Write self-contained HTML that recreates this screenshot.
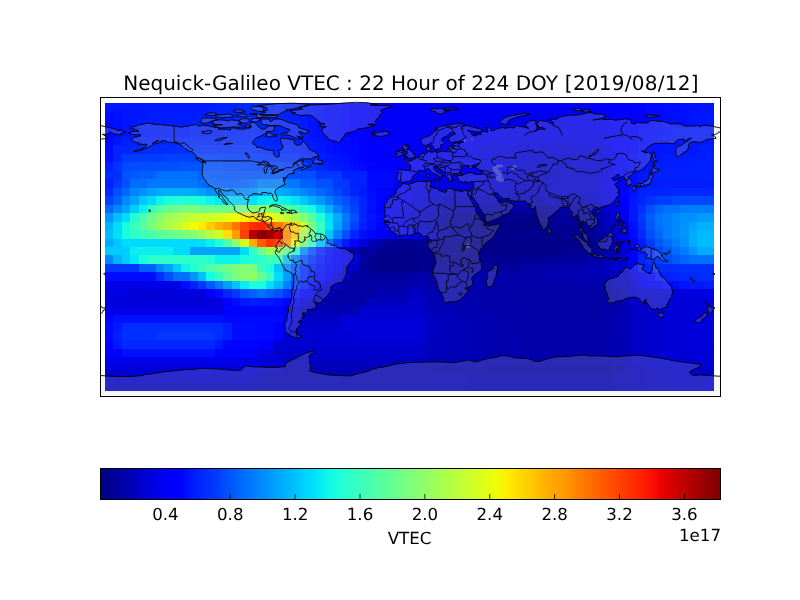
<!DOCTYPE html>
<html><head><meta charset="utf-8"><title>Nequick-Galileo VTEC</title>
<style>
html,body{margin:0;padding:0;background:#fff;}
body{width:800px;height:600px;overflow:hidden;}
svg{display:block;}
text{font-family:"DejaVu Sans","Liberation Sans",sans-serif;fill:#000;text-rendering:geometricPrecision;}
</style></head><body>
<svg width="800" height="600" viewBox="0 0 800 600">
<defs><linearGradient id="jet" x1="0" x2="1" y1="0" y2="0"><stop offset="0.0000" stop-color="#000080"/><stop offset="0.0156" stop-color="#000092"/><stop offset="0.0312" stop-color="#0000a4"/><stop offset="0.0469" stop-color="#0000b2"/><stop offset="0.0625" stop-color="#0000c8"/><stop offset="0.0781" stop-color="#0000da"/><stop offset="0.0938" stop-color="#0000e8"/><stop offset="0.1094" stop-color="#0000ff"/><stop offset="0.1250" stop-color="#0000ff"/><stop offset="0.1406" stop-color="#0010ff"/><stop offset="0.1562" stop-color="#0020ff"/><stop offset="0.1719" stop-color="#0030ff"/><stop offset="0.1875" stop-color="#003cff"/><stop offset="0.2031" stop-color="#0050ff"/><stop offset="0.2188" stop-color="#0060ff"/><stop offset="0.2344" stop-color="#0070ff"/><stop offset="0.2500" stop-color="#0080ff"/><stop offset="0.2656" stop-color="#0090ff"/><stop offset="0.2812" stop-color="#00a0ff"/><stop offset="0.2969" stop-color="#00b0ff"/><stop offset="0.3125" stop-color="#00c0ff"/><stop offset="0.3281" stop-color="#00d0ff"/><stop offset="0.3438" stop-color="#00e0fb"/><stop offset="0.3594" stop-color="#09f0ee"/><stop offset="0.3750" stop-color="#13fce4"/><stop offset="0.3906" stop-color="#23ffd4"/><stop offset="0.4062" stop-color="#30ffc7"/><stop offset="0.4219" stop-color="#3cffba"/><stop offset="0.4375" stop-color="#49ffad"/><stop offset="0.4531" stop-color="#56ffa0"/><stop offset="0.4688" stop-color="#63ff94"/><stop offset="0.4844" stop-color="#70ff87"/><stop offset="0.5000" stop-color="#7dff7a"/><stop offset="0.5156" stop-color="#8aff6d"/><stop offset="0.5312" stop-color="#97ff60"/><stop offset="0.5469" stop-color="#a4ff53"/><stop offset="0.5625" stop-color="#b1ff46"/><stop offset="0.5781" stop-color="#beff39"/><stop offset="0.5938" stop-color="#caff2c"/><stop offset="0.6094" stop-color="#d7ff1f"/><stop offset="0.6250" stop-color="#e4ff13"/><stop offset="0.6406" stop-color="#f1fc06"/><stop offset="0.6562" stop-color="#feed00"/><stop offset="0.6719" stop-color="#ffde00"/><stop offset="0.6875" stop-color="#ffd000"/><stop offset="0.7031" stop-color="#ffc100"/><stop offset="0.7188" stop-color="#ffb200"/><stop offset="0.7344" stop-color="#ffa300"/><stop offset="0.7500" stop-color="#ff9800"/><stop offset="0.7656" stop-color="#ff8600"/><stop offset="0.7812" stop-color="#ff7700"/><stop offset="0.7969" stop-color="#ff6800"/><stop offset="0.8125" stop-color="#ff5900"/><stop offset="0.8281" stop-color="#ff4a00"/><stop offset="0.8438" stop-color="#ff3b00"/><stop offset="0.8594" stop-color="#ff2d00"/><stop offset="0.8750" stop-color="#ff1e00"/><stop offset="0.8906" stop-color="#fa0f00"/><stop offset="0.9062" stop-color="#e80000"/><stop offset="0.9219" stop-color="#d60000"/><stop offset="0.9375" stop-color="#c40000"/><stop offset="0.9531" stop-color="#b20000"/><stop offset="0.9688" stop-color="#9f0000"/><stop offset="0.9844" stop-color="#8d0000"/><stop offset="1.0000" stop-color="#800000"/></linearGradient>
<clipPath id="ax"><rect x="101" y="98" width="619" height="298"/></clipPath></defs>
<rect width="800" height="600" fill="#fff"/>
<g shape-rendering="crispEdges"><rect x="105" y="103" width="101" height="8" fill="#0018ff"/>
<rect x="206" y="103" width="9" height="8" fill="#001cff"/>
<rect x="215" y="103" width="17" height="8" fill="#0020ff"/>
<rect x="232" y="103" width="8" height="8" fill="#0024ff"/>
<rect x="240" y="103" width="26" height="8" fill="#0028ff"/>
<rect x="266" y="103" width="17" height="8" fill="#0024ff"/>
<rect x="283" y="103" width="17" height="8" fill="#0020ff"/>
<rect x="300" y="103" width="8" height="8" fill="#0018ff"/>
<rect x="308" y="103" width="8" height="8" fill="#0014ff"/>
<rect x="316" y="103" width="9" height="8" fill="#0010ff"/>
<rect x="325" y="103" width="17" height="8" fill="#0008ff"/>
<rect x="342" y="103" width="8" height="8" fill="#0004ff"/>
<rect x="350" y="103" width="17" height="8" fill="#0000ff"/>
<rect x="367" y="103" width="93" height="8" fill="#0000fa"/>
<rect x="460" y="103" width="144" height="8" fill="#0000f6"/>
<rect x="604" y="103" width="8" height="8" fill="#0000fa"/>
<rect x="612" y="103" width="26" height="8" fill="#0000ff"/>
<rect x="638" y="103" width="8" height="8" fill="#0004ff"/>
<rect x="646" y="103" width="17" height="8" fill="#0008ff"/>
<rect x="663" y="103" width="17" height="8" fill="#000cff"/>
<rect x="680" y="103" width="17" height="8" fill="#0010ff"/>
<rect x="697" y="103" width="17" height="8" fill="#0014ff"/>
<rect x="105" y="111" width="8" height="9" fill="#000cff"/>
<rect x="113" y="111" width="9" height="9" fill="#0010ff"/>
<rect x="122" y="111" width="8" height="9" fill="#0014ff"/>
<rect x="130" y="111" width="17" height="9" fill="#0018ff"/>
<rect x="147" y="111" width="51" height="9" fill="#001cff"/>
<rect x="198" y="111" width="17" height="9" fill="#0020ff"/>
<rect x="215" y="111" width="25" height="9" fill="#0024ff"/>
<rect x="240" y="111" width="26" height="9" fill="#0028ff"/>
<rect x="266" y="111" width="17" height="9" fill="#0024ff"/>
<rect x="283" y="111" width="17" height="9" fill="#0020ff"/>
<rect x="300" y="111" width="8" height="9" fill="#0018ff"/>
<rect x="308" y="111" width="8" height="9" fill="#0014ff"/>
<rect x="316" y="111" width="9" height="9" fill="#0010ff"/>
<rect x="325" y="111" width="17" height="9" fill="#0008ff"/>
<rect x="342" y="111" width="8" height="9" fill="#0004ff"/>
<rect x="350" y="111" width="17" height="9" fill="#0000ff"/>
<rect x="367" y="111" width="43" height="9" fill="#0000fa"/>
<rect x="410" y="111" width="84" height="9" fill="#0000f6"/>
<rect x="494" y="111" width="93" height="9" fill="#0000f1"/>
<rect x="587" y="111" width="17" height="9" fill="#0000f6"/>
<rect x="604" y="111" width="8" height="9" fill="#0000fa"/>
<rect x="612" y="111" width="26" height="9" fill="#0000ff"/>
<rect x="638" y="111" width="8" height="9" fill="#0004ff"/>
<rect x="646" y="111" width="17" height="9" fill="#0008ff"/>
<rect x="663" y="111" width="9" height="9" fill="#000cff"/>
<rect x="672" y="111" width="17" height="9" fill="#0010ff"/>
<rect x="689" y="111" width="17" height="9" fill="#0014ff"/>
<rect x="706" y="111" width="8" height="9" fill="#0018ff"/>
<rect x="105" y="120" width="8" height="8" fill="#0008ff"/>
<rect x="113" y="120" width="9" height="8" fill="#0010ff"/>
<rect x="122" y="120" width="8" height="8" fill="#0014ff"/>
<rect x="130" y="120" width="9" height="8" fill="#0018ff"/>
<rect x="139" y="120" width="51" height="8" fill="#001cff"/>
<rect x="190" y="120" width="33" height="8" fill="#0020ff"/>
<rect x="223" y="120" width="26" height="8" fill="#0024ff"/>
<rect x="249" y="120" width="8" height="8" fill="#0028ff"/>
<rect x="257" y="120" width="17" height="8" fill="#0024ff"/>
<rect x="274" y="120" width="26" height="8" fill="#0020ff"/>
<rect x="300" y="120" width="8" height="8" fill="#001cff"/>
<rect x="308" y="120" width="8" height="8" fill="#0014ff"/>
<rect x="316" y="120" width="9" height="8" fill="#0010ff"/>
<rect x="325" y="120" width="8" height="8" fill="#000cff"/>
<rect x="333" y="120" width="9" height="8" fill="#0008ff"/>
<rect x="342" y="120" width="8" height="8" fill="#0004ff"/>
<rect x="350" y="120" width="17" height="8" fill="#0000ff"/>
<rect x="367" y="120" width="43" height="8" fill="#0000fa"/>
<rect x="410" y="120" width="42" height="8" fill="#0000f6"/>
<rect x="452" y="120" width="76" height="8" fill="#0000f1"/>
<rect x="528" y="120" width="34" height="8" fill="#0000ed"/>
<rect x="562" y="120" width="42" height="8" fill="#0000f1"/>
<rect x="604" y="120" width="8" height="8" fill="#0000f6"/>
<rect x="612" y="120" width="26" height="8" fill="#0000ff"/>
<rect x="638" y="120" width="8" height="8" fill="#0004ff"/>
<rect x="646" y="120" width="9" height="8" fill="#0008ff"/>
<rect x="655" y="120" width="8" height="8" fill="#000cff"/>
<rect x="663" y="120" width="26" height="8" fill="#0010ff"/>
<rect x="689" y="120" width="17" height="8" fill="#0014ff"/>
<rect x="706" y="120" width="8" height="8" fill="#0018ff"/>
<rect x="105" y="128" width="8" height="9" fill="#0008ff"/>
<rect x="113" y="128" width="9" height="9" fill="#0010ff"/>
<rect x="122" y="128" width="8" height="9" fill="#0014ff"/>
<rect x="130" y="128" width="9" height="9" fill="#0018ff"/>
<rect x="139" y="128" width="51" height="9" fill="#001cff"/>
<rect x="190" y="128" width="33" height="9" fill="#0020ff"/>
<rect x="223" y="128" width="26" height="9" fill="#0024ff"/>
<rect x="249" y="128" width="8" height="9" fill="#0028ff"/>
<rect x="257" y="128" width="17" height="9" fill="#0024ff"/>
<rect x="274" y="128" width="26" height="9" fill="#0020ff"/>
<rect x="300" y="128" width="8" height="9" fill="#001cff"/>
<rect x="308" y="128" width="8" height="9" fill="#0014ff"/>
<rect x="316" y="128" width="9" height="9" fill="#0010ff"/>
<rect x="325" y="128" width="8" height="9" fill="#000cff"/>
<rect x="333" y="128" width="9" height="9" fill="#0008ff"/>
<rect x="342" y="128" width="8" height="9" fill="#0004ff"/>
<rect x="350" y="128" width="17" height="9" fill="#0000ff"/>
<rect x="367" y="128" width="43" height="9" fill="#0000fa"/>
<rect x="410" y="128" width="42" height="9" fill="#0000f6"/>
<rect x="452" y="128" width="51" height="9" fill="#0000f1"/>
<rect x="503" y="128" width="101" height="9" fill="#0000ed"/>
<rect x="604" y="128" width="8" height="9" fill="#0000f6"/>
<rect x="612" y="128" width="26" height="9" fill="#0000ff"/>
<rect x="638" y="128" width="8" height="9" fill="#0008ff"/>
<rect x="646" y="128" width="17" height="9" fill="#000cff"/>
<rect x="663" y="128" width="9" height="9" fill="#0010ff"/>
<rect x="672" y="128" width="17" height="9" fill="#0014ff"/>
<rect x="689" y="128" width="25" height="9" fill="#0018ff"/>
<rect x="105" y="137" width="8" height="8" fill="#0008ff"/>
<rect x="113" y="137" width="9" height="8" fill="#0014ff"/>
<rect x="122" y="137" width="34" height="8" fill="#0020ff"/>
<rect x="156" y="137" width="34" height="8" fill="#0024ff"/>
<rect x="190" y="137" width="76" height="8" fill="#0028ff"/>
<rect x="266" y="137" width="17" height="8" fill="#0024ff"/>
<rect x="283" y="137" width="17" height="8" fill="#0020ff"/>
<rect x="300" y="137" width="8" height="8" fill="#001cff"/>
<rect x="308" y="137" width="8" height="8" fill="#0018ff"/>
<rect x="316" y="137" width="9" height="8" fill="#0014ff"/>
<rect x="325" y="137" width="8" height="8" fill="#0010ff"/>
<rect x="333" y="137" width="9" height="8" fill="#000cff"/>
<rect x="342" y="137" width="8" height="8" fill="#0008ff"/>
<rect x="350" y="137" width="9" height="8" fill="#0004ff"/>
<rect x="359" y="137" width="8" height="8" fill="#0000ff"/>
<rect x="367" y="137" width="43" height="8" fill="#0000fa"/>
<rect x="410" y="137" width="33" height="8" fill="#0000f6"/>
<rect x="443" y="137" width="34" height="8" fill="#0000f1"/>
<rect x="477" y="137" width="42" height="8" fill="#0000ed"/>
<rect x="519" y="137" width="77" height="8" fill="#0000e8"/>
<rect x="596" y="137" width="8" height="8" fill="#0000ed"/>
<rect x="604" y="137" width="8" height="8" fill="#0000f6"/>
<rect x="612" y="137" width="26" height="8" fill="#0000ff"/>
<rect x="638" y="137" width="8" height="8" fill="#0008ff"/>
<rect x="646" y="137" width="9" height="8" fill="#000cff"/>
<rect x="655" y="137" width="8" height="8" fill="#0010ff"/>
<rect x="663" y="137" width="17" height="8" fill="#0014ff"/>
<rect x="680" y="137" width="34" height="8" fill="#0018ff"/>
<rect x="105" y="145" width="8" height="9" fill="#000cff"/>
<rect x="113" y="145" width="17" height="9" fill="#0024ff"/>
<rect x="130" y="145" width="17" height="9" fill="#0028ff"/>
<rect x="147" y="145" width="26" height="9" fill="#002cff"/>
<rect x="173" y="145" width="84" height="9" fill="#0030ff"/>
<rect x="257" y="145" width="17" height="9" fill="#002cff"/>
<rect x="274" y="145" width="17" height="9" fill="#0028ff"/>
<rect x="291" y="145" width="9" height="9" fill="#0024ff"/>
<rect x="300" y="145" width="8" height="9" fill="#0020ff"/>
<rect x="308" y="145" width="8" height="9" fill="#001cff"/>
<rect x="316" y="145" width="9" height="9" fill="#0018ff"/>
<rect x="325" y="145" width="8" height="9" fill="#0010ff"/>
<rect x="333" y="145" width="9" height="9" fill="#000cff"/>
<rect x="342" y="145" width="17" height="9" fill="#0008ff"/>
<rect x="359" y="145" width="51" height="9" fill="#0000ff"/>
<rect x="410" y="145" width="33" height="9" fill="#0000f6"/>
<rect x="443" y="145" width="34" height="9" fill="#0000f1"/>
<rect x="477" y="145" width="26" height="9" fill="#0000e3"/>
<rect x="503" y="145" width="25" height="9" fill="#0000df"/>
<rect x="528" y="145" width="59" height="9" fill="#0000da"/>
<rect x="587" y="145" width="17" height="9" fill="#0000df"/>
<rect x="604" y="145" width="8" height="9" fill="#0000e8"/>
<rect x="612" y="145" width="17" height="9" fill="#0000ff"/>
<rect x="629" y="145" width="9" height="9" fill="#0004ff"/>
<rect x="638" y="145" width="8" height="9" fill="#000cff"/>
<rect x="646" y="145" width="17" height="9" fill="#0014ff"/>
<rect x="663" y="145" width="34" height="9" fill="#0018ff"/>
<rect x="697" y="145" width="17" height="9" fill="#001cff"/>
<rect x="105" y="154" width="8" height="8" fill="#0010ff"/>
<rect x="113" y="154" width="9" height="8" fill="#0024ff"/>
<rect x="122" y="154" width="8" height="8" fill="#0038ff"/>
<rect x="130" y="154" width="34" height="8" fill="#003cff"/>
<rect x="164" y="154" width="59" height="8" fill="#0040ff"/>
<rect x="223" y="154" width="26" height="8" fill="#003cff"/>
<rect x="249" y="154" width="17" height="8" fill="#0038ff"/>
<rect x="266" y="154" width="17" height="8" fill="#0034ff"/>
<rect x="283" y="154" width="17" height="8" fill="#0030ff"/>
<rect x="300" y="154" width="8" height="8" fill="#0028ff"/>
<rect x="308" y="154" width="8" height="8" fill="#0024ff"/>
<rect x="316" y="154" width="9" height="8" fill="#001cff"/>
<rect x="325" y="154" width="8" height="8" fill="#0018ff"/>
<rect x="333" y="154" width="9" height="8" fill="#0014ff"/>
<rect x="342" y="154" width="8" height="8" fill="#0010ff"/>
<rect x="350" y="154" width="9" height="8" fill="#0008ff"/>
<rect x="359" y="154" width="8" height="8" fill="#0004ff"/>
<rect x="367" y="154" width="43" height="8" fill="#0000ff"/>
<rect x="410" y="154" width="16" height="8" fill="#0000fa"/>
<rect x="426" y="154" width="26" height="8" fill="#0000f6"/>
<rect x="452" y="154" width="25" height="8" fill="#0000f1"/>
<rect x="477" y="154" width="17" height="8" fill="#0000e3"/>
<rect x="494" y="154" width="17" height="8" fill="#0000df"/>
<rect x="511" y="154" width="17" height="8" fill="#0000da"/>
<rect x="528" y="154" width="17" height="8" fill="#0000d6"/>
<rect x="545" y="154" width="8" height="8" fill="#0000d1"/>
<rect x="553" y="154" width="26" height="8" fill="#0000d6"/>
<rect x="579" y="154" width="25" height="8" fill="#0000da"/>
<rect x="604" y="154" width="8" height="8" fill="#0000e8"/>
<rect x="612" y="154" width="17" height="8" fill="#0000ff"/>
<rect x="629" y="154" width="9" height="8" fill="#0008ff"/>
<rect x="638" y="154" width="8" height="8" fill="#0010ff"/>
<rect x="646" y="154" width="9" height="8" fill="#0014ff"/>
<rect x="655" y="154" width="8" height="8" fill="#0018ff"/>
<rect x="663" y="154" width="43" height="8" fill="#001cff"/>
<rect x="706" y="154" width="8" height="8" fill="#0020ff"/>
<rect x="105" y="162" width="8" height="9" fill="#0020ff"/>
<rect x="113" y="162" width="9" height="9" fill="#0034ff"/>
<rect x="122" y="162" width="8" height="9" fill="#0048ff"/>
<rect x="130" y="162" width="26" height="9" fill="#004cff"/>
<rect x="156" y="162" width="25" height="9" fill="#0050ff"/>
<rect x="181" y="162" width="25" height="9" fill="#0054ff"/>
<rect x="206" y="162" width="17" height="9" fill="#0050ff"/>
<rect x="223" y="162" width="17" height="9" fill="#004cff"/>
<rect x="240" y="162" width="17" height="9" fill="#0048ff"/>
<rect x="257" y="162" width="26" height="9" fill="#0044ff"/>
<rect x="283" y="162" width="17" height="9" fill="#0040ff"/>
<rect x="300" y="162" width="8" height="9" fill="#0038ff"/>
<rect x="308" y="162" width="8" height="9" fill="#0030ff"/>
<rect x="316" y="162" width="9" height="9" fill="#0028ff"/>
<rect x="325" y="162" width="8" height="9" fill="#0020ff"/>
<rect x="333" y="162" width="9" height="9" fill="#0018ff"/>
<rect x="342" y="162" width="8" height="9" fill="#0014ff"/>
<rect x="350" y="162" width="9" height="9" fill="#0010ff"/>
<rect x="359" y="162" width="8" height="9" fill="#0008ff"/>
<rect x="367" y="162" width="9" height="9" fill="#0004ff"/>
<rect x="376" y="162" width="34" height="9" fill="#0000ff"/>
<rect x="410" y="162" width="16" height="9" fill="#0000fa"/>
<rect x="426" y="162" width="26" height="9" fill="#0000f6"/>
<rect x="452" y="162" width="25" height="9" fill="#0000f1"/>
<rect x="477" y="162" width="17" height="9" fill="#0000e3"/>
<rect x="494" y="162" width="9" height="9" fill="#0000df"/>
<rect x="503" y="162" width="16" height="9" fill="#0000da"/>
<rect x="519" y="162" width="9" height="9" fill="#0000d6"/>
<rect x="528" y="162" width="17" height="9" fill="#0000d1"/>
<rect x="545" y="162" width="17" height="9" fill="#0000cd"/>
<rect x="562" y="162" width="17" height="9" fill="#0000d1"/>
<rect x="579" y="162" width="17" height="9" fill="#0000d6"/>
<rect x="596" y="162" width="8" height="9" fill="#0000da"/>
<rect x="604" y="162" width="8" height="9" fill="#0000e8"/>
<rect x="612" y="162" width="17" height="9" fill="#0000ff"/>
<rect x="629" y="162" width="9" height="9" fill="#0008ff"/>
<rect x="638" y="162" width="8" height="9" fill="#0010ff"/>
<rect x="646" y="162" width="9" height="9" fill="#0014ff"/>
<rect x="655" y="162" width="42" height="9" fill="#001cff"/>
<rect x="697" y="162" width="17" height="9" fill="#0020ff"/>
<rect x="105" y="171" width="17" height="8" fill="#002cff"/>
<rect x="122" y="171" width="8" height="8" fill="#0054ff"/>
<rect x="130" y="171" width="9" height="8" fill="#0058ff"/>
<rect x="139" y="171" width="17" height="8" fill="#0060ff"/>
<rect x="156" y="171" width="42" height="8" fill="#0070ff"/>
<rect x="198" y="171" width="8" height="8" fill="#0060ff"/>
<rect x="206" y="171" width="9" height="8" fill="#0058ff"/>
<rect x="215" y="171" width="59" height="8" fill="#0054ff"/>
<rect x="274" y="171" width="9" height="8" fill="#0058ff"/>
<rect x="283" y="171" width="33" height="8" fill="#0050ff"/>
<rect x="316" y="171" width="26" height="8" fill="#0038ff"/>
<rect x="342" y="171" width="25" height="8" fill="#0020ff"/>
<rect x="367" y="171" width="26" height="8" fill="#0008ff"/>
<rect x="393" y="171" width="17" height="8" fill="#0004ff"/>
<rect x="410" y="171" width="8" height="8" fill="#0000f6"/>
<rect x="418" y="171" width="34" height="8" fill="#0000f1"/>
<rect x="452" y="171" width="25" height="8" fill="#0000ed"/>
<rect x="477" y="171" width="9" height="8" fill="#0000e3"/>
<rect x="486" y="171" width="8" height="8" fill="#0000df"/>
<rect x="494" y="171" width="9" height="8" fill="#0000da"/>
<rect x="503" y="171" width="8" height="8" fill="#0000d6"/>
<rect x="511" y="171" width="8" height="8" fill="#0000d1"/>
<rect x="519" y="171" width="9" height="8" fill="#0000cd"/>
<rect x="528" y="171" width="8" height="8" fill="#0000c8"/>
<rect x="536" y="171" width="9" height="8" fill="#0000c4"/>
<rect x="545" y="171" width="17" height="8" fill="#0000c8"/>
<rect x="562" y="171" width="17" height="8" fill="#0000cd"/>
<rect x="579" y="171" width="17" height="8" fill="#0000d1"/>
<rect x="596" y="171" width="8" height="8" fill="#0000d6"/>
<rect x="604" y="171" width="8" height="8" fill="#0000e3"/>
<rect x="612" y="171" width="17" height="8" fill="#0000ff"/>
<rect x="629" y="171" width="9" height="8" fill="#000cff"/>
<rect x="638" y="171" width="17" height="8" fill="#0018ff"/>
<rect x="655" y="171" width="59" height="8" fill="#0020ff"/>
<rect x="105" y="179" width="8" height="9" fill="#001cff"/>
<rect x="113" y="179" width="9" height="9" fill="#0038ff"/>
<rect x="122" y="179" width="8" height="9" fill="#0050ff"/>
<rect x="130" y="179" width="17" height="9" fill="#006cff"/>
<rect x="147" y="179" width="51" height="9" fill="#0078ff"/>
<rect x="198" y="179" width="8" height="9" fill="#006cff"/>
<rect x="206" y="179" width="9" height="9" fill="#0064ff"/>
<rect x="215" y="179" width="25" height="9" fill="#0060ff"/>
<rect x="240" y="179" width="9" height="9" fill="#0064ff"/>
<rect x="249" y="179" width="8" height="9" fill="#006cff"/>
<rect x="257" y="179" width="9" height="9" fill="#0080ff"/>
<rect x="266" y="179" width="8" height="9" fill="#007cff"/>
<rect x="274" y="179" width="9" height="9" fill="#0080ff"/>
<rect x="283" y="179" width="17" height="9" fill="#0078ff"/>
<rect x="300" y="179" width="16" height="9" fill="#0060ff"/>
<rect x="316" y="179" width="17" height="9" fill="#0050ff"/>
<rect x="333" y="179" width="17" height="9" fill="#0038ff"/>
<rect x="350" y="179" width="17" height="9" fill="#0020ff"/>
<rect x="367" y="179" width="26" height="9" fill="#0008ff"/>
<rect x="393" y="179" width="17" height="9" fill="#0000ff"/>
<rect x="410" y="179" width="8" height="9" fill="#0000ed"/>
<rect x="418" y="179" width="17" height="9" fill="#0000e8"/>
<rect x="435" y="179" width="25" height="9" fill="#0000e3"/>
<rect x="460" y="179" width="17" height="9" fill="#0000df"/>
<rect x="477" y="179" width="9" height="9" fill="#0000da"/>
<rect x="486" y="179" width="17" height="9" fill="#0000d6"/>
<rect x="503" y="179" width="8" height="9" fill="#0000d1"/>
<rect x="511" y="179" width="8" height="9" fill="#0000cd"/>
<rect x="519" y="179" width="9" height="9" fill="#0000c8"/>
<rect x="528" y="179" width="8" height="9" fill="#0000c4"/>
<rect x="536" y="179" width="9" height="9" fill="#0000bf"/>
<rect x="545" y="179" width="8" height="9" fill="#0000c8"/>
<rect x="553" y="179" width="17" height="9" fill="#0000cd"/>
<rect x="570" y="179" width="17" height="9" fill="#0000d1"/>
<rect x="587" y="179" width="9" height="9" fill="#0000d6"/>
<rect x="596" y="179" width="8" height="9" fill="#0000da"/>
<rect x="604" y="179" width="8" height="9" fill="#0000ed"/>
<rect x="612" y="179" width="17" height="9" fill="#0000ff"/>
<rect x="629" y="179" width="9" height="9" fill="#0010ff"/>
<rect x="638" y="179" width="8" height="9" fill="#0018ff"/>
<rect x="646" y="179" width="68" height="9" fill="#001cff"/>
<rect x="105" y="188" width="8" height="8" fill="#0028ff"/>
<rect x="113" y="188" width="9" height="8" fill="#0050ff"/>
<rect x="122" y="188" width="8" height="8" fill="#0068ff"/>
<rect x="130" y="188" width="9" height="8" fill="#0084ff"/>
<rect x="139" y="188" width="8" height="8" fill="#0090ff"/>
<rect x="147" y="188" width="9" height="8" fill="#00a0ff"/>
<rect x="156" y="188" width="8" height="8" fill="#00a8ff"/>
<rect x="164" y="188" width="26" height="8" fill="#00acff"/>
<rect x="190" y="188" width="8" height="8" fill="#00a8ff"/>
<rect x="198" y="188" width="8" height="8" fill="#00a0ff"/>
<rect x="206" y="188" width="17" height="8" fill="#0090ff"/>
<rect x="223" y="188" width="17" height="8" fill="#0084ff"/>
<rect x="240" y="188" width="9" height="8" fill="#008cff"/>
<rect x="249" y="188" width="8" height="8" fill="#0090ff"/>
<rect x="257" y="188" width="26" height="8" fill="#00acff"/>
<rect x="283" y="188" width="8" height="8" fill="#00a4ff"/>
<rect x="291" y="188" width="9" height="8" fill="#0098ff"/>
<rect x="300" y="188" width="8" height="8" fill="#0088ff"/>
<rect x="308" y="188" width="8" height="8" fill="#0078ff"/>
<rect x="316" y="188" width="9" height="8" fill="#0068ff"/>
<rect x="325" y="188" width="8" height="8" fill="#0058ff"/>
<rect x="333" y="188" width="9" height="8" fill="#0048ff"/>
<rect x="342" y="188" width="8" height="8" fill="#0034ff"/>
<rect x="350" y="188" width="9" height="8" fill="#0024ff"/>
<rect x="359" y="188" width="8" height="8" fill="#0018ff"/>
<rect x="367" y="188" width="9" height="8" fill="#000cff"/>
<rect x="376" y="188" width="17" height="8" fill="#0004ff"/>
<rect x="393" y="188" width="17" height="8" fill="#0000f6"/>
<rect x="410" y="188" width="8" height="8" fill="#0000e3"/>
<rect x="418" y="188" width="8" height="8" fill="#0000df"/>
<rect x="426" y="188" width="9" height="8" fill="#0000da"/>
<rect x="435" y="188" width="8" height="8" fill="#0000d6"/>
<rect x="443" y="188" width="43" height="8" fill="#0000cd"/>
<rect x="486" y="188" width="59" height="8" fill="#0000c8"/>
<rect x="545" y="188" width="51" height="8" fill="#0000d1"/>
<rect x="596" y="188" width="8" height="8" fill="#0000df"/>
<rect x="604" y="188" width="8" height="8" fill="#0000e8"/>
<rect x="612" y="188" width="9" height="8" fill="#0000f1"/>
<rect x="621" y="188" width="8" height="8" fill="#0004ff"/>
<rect x="629" y="188" width="9" height="8" fill="#0010ff"/>
<rect x="638" y="188" width="8" height="8" fill="#0020ff"/>
<rect x="646" y="188" width="26" height="8" fill="#0024ff"/>
<rect x="672" y="188" width="42" height="8" fill="#0028ff"/>
<rect x="105" y="196" width="8" height="9" fill="#0040ff"/>
<rect x="113" y="196" width="9" height="9" fill="#0060ff"/>
<rect x="122" y="196" width="8" height="9" fill="#0088ff"/>
<rect x="130" y="196" width="9" height="9" fill="#00a4ff"/>
<rect x="139" y="196" width="8" height="9" fill="#00c8ff"/>
<rect x="147" y="196" width="9" height="9" fill="#00dcfe"/>
<rect x="156" y="196" width="8" height="9" fill="#0cf4eb"/>
<rect x="164" y="196" width="9" height="9" fill="#19ffde"/>
<rect x="173" y="196" width="8" height="9" fill="#1fffd7"/>
<rect x="181" y="196" width="9" height="9" fill="#23ffd4"/>
<rect x="190" y="196" width="8" height="9" fill="#1fffd7"/>
<rect x="198" y="196" width="8" height="9" fill="#19ffde"/>
<rect x="206" y="196" width="9" height="9" fill="#0cf4eb"/>
<rect x="215" y="196" width="8" height="9" fill="#02e8f4"/>
<rect x="223" y="196" width="9" height="9" fill="#00dcfe"/>
<rect x="232" y="196" width="17" height="9" fill="#00d4ff"/>
<rect x="249" y="196" width="8" height="9" fill="#00e0fb"/>
<rect x="257" y="196" width="9" height="9" fill="#0cf4eb"/>
<rect x="266" y="196" width="8" height="9" fill="#13fce4"/>
<rect x="274" y="196" width="9" height="9" fill="#0cf4eb"/>
<rect x="283" y="196" width="8" height="9" fill="#09f0ee"/>
<rect x="291" y="196" width="9" height="9" fill="#00e0fb"/>
<rect x="300" y="196" width="8" height="9" fill="#00c8ff"/>
<rect x="308" y="196" width="8" height="9" fill="#00acff"/>
<rect x="316" y="196" width="9" height="9" fill="#0098ff"/>
<rect x="325" y="196" width="8" height="9" fill="#007cff"/>
<rect x="333" y="196" width="9" height="9" fill="#0060ff"/>
<rect x="342" y="196" width="8" height="9" fill="#0050ff"/>
<rect x="350" y="196" width="9" height="9" fill="#0038ff"/>
<rect x="359" y="196" width="8" height="9" fill="#0024ff"/>
<rect x="367" y="196" width="9" height="9" fill="#0010ff"/>
<rect x="376" y="196" width="8" height="9" fill="#0004ff"/>
<rect x="384" y="196" width="9" height="9" fill="#0000fa"/>
<rect x="393" y="196" width="17" height="9" fill="#0000f1"/>
<rect x="410" y="196" width="8" height="9" fill="#0000df"/>
<rect x="418" y="196" width="8" height="9" fill="#0000da"/>
<rect x="426" y="196" width="9" height="9" fill="#0000d1"/>
<rect x="435" y="196" width="8" height="9" fill="#0000c8"/>
<rect x="443" y="196" width="17" height="9" fill="#0000bf"/>
<rect x="460" y="196" width="43" height="9" fill="#0000bb"/>
<rect x="503" y="196" width="33" height="9" fill="#0000b6"/>
<rect x="536" y="196" width="9" height="9" fill="#0000b2"/>
<rect x="545" y="196" width="42" height="9" fill="#0000bf"/>
<rect x="587" y="196" width="9" height="9" fill="#0000c8"/>
<rect x="596" y="196" width="8" height="9" fill="#0000d1"/>
<rect x="604" y="196" width="8" height="9" fill="#0000e3"/>
<rect x="612" y="196" width="9" height="9" fill="#0000ed"/>
<rect x="621" y="196" width="8" height="9" fill="#0000ff"/>
<rect x="629" y="196" width="9" height="9" fill="#0018ff"/>
<rect x="638" y="196" width="8" height="9" fill="#0024ff"/>
<rect x="646" y="196" width="9" height="9" fill="#0030ff"/>
<rect x="655" y="196" width="17" height="9" fill="#003cff"/>
<rect x="672" y="196" width="42" height="9" fill="#0048ff"/>
<rect x="105" y="205" width="8" height="8" fill="#0068ff"/>
<rect x="113" y="205" width="9" height="8" fill="#0088ff"/>
<rect x="122" y="205" width="8" height="8" fill="#00a4ff"/>
<rect x="130" y="205" width="9" height="8" fill="#00ccff"/>
<rect x="139" y="205" width="8" height="8" fill="#09f0ee"/>
<rect x="147" y="205" width="9" height="8" fill="#33ffc4"/>
<rect x="156" y="205" width="8" height="8" fill="#53ffa4"/>
<rect x="164" y="205" width="9" height="8" fill="#63ff94"/>
<rect x="173" y="205" width="8" height="8" fill="#6dff8a"/>
<rect x="181" y="205" width="17" height="8" fill="#7aff7d"/>
<rect x="198" y="205" width="42" height="8" fill="#6dff8a"/>
<rect x="240" y="205" width="9" height="8" fill="#7aff7d"/>
<rect x="249" y="205" width="8" height="8" fill="#83ff73"/>
<rect x="257" y="205" width="9" height="8" fill="#8dff6a"/>
<rect x="266" y="205" width="8" height="8" fill="#83ff73"/>
<rect x="274" y="205" width="9" height="8" fill="#6dff8a"/>
<rect x="283" y="205" width="8" height="8" fill="#5aff9d"/>
<rect x="291" y="205" width="9" height="8" fill="#43ffb4"/>
<rect x="300" y="205" width="8" height="8" fill="#2cffca"/>
<rect x="308" y="205" width="8" height="8" fill="#13fce4"/>
<rect x="316" y="205" width="9" height="8" fill="#00d4ff"/>
<rect x="325" y="205" width="8" height="8" fill="#00acff"/>
<rect x="333" y="205" width="9" height="8" fill="#0080ff"/>
<rect x="342" y="205" width="8" height="8" fill="#0060ff"/>
<rect x="350" y="205" width="9" height="8" fill="#0040ff"/>
<rect x="359" y="205" width="8" height="8" fill="#0024ff"/>
<rect x="367" y="205" width="9" height="8" fill="#0010ff"/>
<rect x="376" y="205" width="8" height="8" fill="#0004ff"/>
<rect x="384" y="205" width="9" height="8" fill="#0000f6"/>
<rect x="393" y="205" width="17" height="8" fill="#0000ed"/>
<rect x="410" y="205" width="8" height="8" fill="#0000da"/>
<rect x="418" y="205" width="8" height="8" fill="#0000d1"/>
<rect x="426" y="205" width="9" height="8" fill="#0000c8"/>
<rect x="435" y="205" width="8" height="8" fill="#0000bb"/>
<rect x="443" y="205" width="17" height="8" fill="#0000b2"/>
<rect x="460" y="205" width="26" height="8" fill="#0000ad"/>
<rect x="486" y="205" width="25" height="8" fill="#0000a8"/>
<rect x="511" y="205" width="17" height="8" fill="#0000a4"/>
<rect x="528" y="205" width="17" height="8" fill="#00009f"/>
<rect x="545" y="205" width="42" height="8" fill="#0000a8"/>
<rect x="587" y="205" width="9" height="8" fill="#0000b2"/>
<rect x="596" y="205" width="8" height="8" fill="#0000bf"/>
<rect x="604" y="205" width="8" height="8" fill="#0000d1"/>
<rect x="612" y="205" width="9" height="8" fill="#0000e8"/>
<rect x="621" y="205" width="8" height="8" fill="#0000fa"/>
<rect x="629" y="205" width="9" height="8" fill="#0018ff"/>
<rect x="638" y="205" width="8" height="8" fill="#0030ff"/>
<rect x="646" y="205" width="9" height="8" fill="#0050ff"/>
<rect x="655" y="205" width="8" height="8" fill="#0064ff"/>
<rect x="663" y="205" width="17" height="8" fill="#0070ff"/>
<rect x="680" y="205" width="34" height="8" fill="#007cff"/>
<rect x="105" y="213" width="8" height="9" fill="#0098ff"/>
<rect x="113" y="213" width="9" height="9" fill="#00c0ff"/>
<rect x="122" y="213" width="8" height="9" fill="#00dcfe"/>
<rect x="130" y="213" width="9" height="9" fill="#23ffd4"/>
<rect x="139" y="213" width="8" height="9" fill="#4dffaa"/>
<rect x="147" y="213" width="9" height="9" fill="#6dff8a"/>
<rect x="156" y="213" width="8" height="9" fill="#87ff70"/>
<rect x="164" y="213" width="9" height="9" fill="#a0ff56"/>
<rect x="173" y="213" width="8" height="9" fill="#adff49"/>
<rect x="181" y="213" width="9" height="9" fill="#baff3c"/>
<rect x="190" y="213" width="8" height="9" fill="#c4ff33"/>
<rect x="198" y="213" width="8" height="9" fill="#caff2c"/>
<rect x="206" y="213" width="9" height="9" fill="#d1ff26"/>
<rect x="215" y="213" width="8" height="9" fill="#dbff1c"/>
<rect x="223" y="213" width="9" height="9" fill="#e4ff13"/>
<rect x="232" y="213" width="8" height="9" fill="#f1fc06"/>
<rect x="240" y="213" width="9" height="9" fill="#feed00"/>
<rect x="249" y="213" width="8" height="9" fill="#ffde00"/>
<rect x="257" y="213" width="9" height="9" fill="#ffd300"/>
<rect x="266" y="213" width="8" height="9" fill="#f4f802"/>
<rect x="274" y="213" width="9" height="9" fill="#d7ff1f"/>
<rect x="283" y="213" width="8" height="9" fill="#beff39"/>
<rect x="291" y="213" width="9" height="9" fill="#a4ff53"/>
<rect x="300" y="213" width="8" height="9" fill="#87ff70"/>
<rect x="308" y="213" width="8" height="9" fill="#5aff9d"/>
<rect x="316" y="213" width="9" height="9" fill="#23ffd4"/>
<rect x="325" y="213" width="8" height="9" fill="#00dcfe"/>
<rect x="333" y="213" width="9" height="9" fill="#00acff"/>
<rect x="342" y="213" width="8" height="9" fill="#0078ff"/>
<rect x="350" y="213" width="9" height="9" fill="#0050ff"/>
<rect x="359" y="213" width="8" height="9" fill="#0024ff"/>
<rect x="367" y="213" width="9" height="9" fill="#0014ff"/>
<rect x="376" y="213" width="8" height="9" fill="#0008ff"/>
<rect x="384" y="213" width="9" height="9" fill="#0000ff"/>
<rect x="393" y="213" width="8" height="9" fill="#0000ed"/>
<rect x="401" y="213" width="9" height="9" fill="#0000e8"/>
<rect x="410" y="213" width="8" height="9" fill="#0000d6"/>
<rect x="418" y="213" width="8" height="9" fill="#0000c8"/>
<rect x="426" y="213" width="9" height="9" fill="#0000bf"/>
<rect x="435" y="213" width="8" height="9" fill="#0000b2"/>
<rect x="443" y="213" width="9" height="9" fill="#0000a4"/>
<rect x="452" y="213" width="8" height="9" fill="#00009f"/>
<rect x="460" y="213" width="9" height="9" fill="#00009b"/>
<rect x="469" y="213" width="8" height="9" fill="#000096"/>
<rect x="477" y="213" width="9" height="9" fill="#000092"/>
<rect x="486" y="213" width="59" height="9" fill="#00008d"/>
<rect x="545" y="213" width="17" height="9" fill="#000096"/>
<rect x="562" y="213" width="25" height="9" fill="#00009b"/>
<rect x="587" y="213" width="9" height="9" fill="#0000a4"/>
<rect x="596" y="213" width="8" height="9" fill="#0000ad"/>
<rect x="604" y="213" width="8" height="9" fill="#0000bf"/>
<rect x="612" y="213" width="9" height="9" fill="#0000df"/>
<rect x="621" y="213" width="8" height="9" fill="#0000f1"/>
<rect x="629" y="213" width="9" height="9" fill="#0018ff"/>
<rect x="638" y="213" width="8" height="9" fill="#0038ff"/>
<rect x="646" y="213" width="9" height="9" fill="#005cff"/>
<rect x="655" y="213" width="8" height="9" fill="#0074ff"/>
<rect x="663" y="213" width="9" height="9" fill="#007cff"/>
<rect x="672" y="213" width="8" height="9" fill="#0088ff"/>
<rect x="680" y="213" width="17" height="9" fill="#0090ff"/>
<rect x="697" y="213" width="17" height="9" fill="#009cff"/>
<rect x="105" y="222" width="8" height="8" fill="#00b4ff"/>
<rect x="113" y="222" width="9" height="8" fill="#00dcfe"/>
<rect x="122" y="222" width="8" height="8" fill="#19ffde"/>
<rect x="130" y="222" width="9" height="8" fill="#39ffbe"/>
<rect x="139" y="222" width="8" height="8" fill="#5aff9d"/>
<rect x="147" y="222" width="9" height="8" fill="#7aff7d"/>
<rect x="156" y="222" width="8" height="8" fill="#94ff63"/>
<rect x="164" y="222" width="9" height="8" fill="#adff49"/>
<rect x="173" y="222" width="8" height="8" fill="#beff39"/>
<rect x="181" y="222" width="9" height="8" fill="#deff19"/>
<rect x="190" y="222" width="8" height="8" fill="#f1fc06"/>
<rect x="198" y="222" width="8" height="8" fill="#feed00"/>
<rect x="206" y="222" width="9" height="8" fill="#ffcc00"/>
<rect x="215" y="222" width="8" height="8" fill="#ffae00"/>
<rect x="223" y="222" width="9" height="8" fill="#ff9c00"/>
<rect x="232" y="222" width="8" height="8" fill="#ff7700"/>
<rect x="240" y="222" width="9" height="8" fill="#ff4a00"/>
<rect x="249" y="222" width="8" height="8" fill="#ff2d00"/>
<rect x="257" y="222" width="9" height="8" fill="#ff2500"/>
<rect x="266" y="222" width="8" height="8" fill="#ff4a00"/>
<rect x="274" y="222" width="9" height="8" fill="#ff7700"/>
<rect x="283" y="222" width="8" height="8" fill="#ffa700"/>
<rect x="291" y="222" width="9" height="8" fill="#ffd300"/>
<rect x="300" y="222" width="8" height="8" fill="#d1ff26"/>
<rect x="308" y="222" width="8" height="8" fill="#7dff7a"/>
<rect x="316" y="222" width="9" height="8" fill="#39ffbe"/>
<rect x="325" y="222" width="8" height="8" fill="#00e4f8"/>
<rect x="333" y="222" width="9" height="8" fill="#00a4ff"/>
<rect x="342" y="222" width="8" height="8" fill="#0070ff"/>
<rect x="350" y="222" width="9" height="8" fill="#0040ff"/>
<rect x="359" y="222" width="8" height="8" fill="#0020ff"/>
<rect x="367" y="222" width="9" height="8" fill="#0010ff"/>
<rect x="376" y="222" width="8" height="8" fill="#0004ff"/>
<rect x="384" y="222" width="9" height="8" fill="#0000fa"/>
<rect x="393" y="222" width="8" height="8" fill="#0000ed"/>
<rect x="401" y="222" width="9" height="8" fill="#0000e8"/>
<rect x="410" y="222" width="8" height="8" fill="#0000d6"/>
<rect x="418" y="222" width="8" height="8" fill="#0000c8"/>
<rect x="426" y="222" width="9" height="8" fill="#0000b6"/>
<rect x="435" y="222" width="8" height="8" fill="#0000a8"/>
<rect x="443" y="222" width="17" height="8" fill="#00009b"/>
<rect x="460" y="222" width="9" height="8" fill="#000096"/>
<rect x="469" y="222" width="17" height="8" fill="#00008d"/>
<rect x="486" y="222" width="8" height="8" fill="#000089"/>
<rect x="494" y="222" width="51" height="8" fill="#000084"/>
<rect x="545" y="222" width="17" height="8" fill="#000092"/>
<rect x="562" y="222" width="25" height="8" fill="#000096"/>
<rect x="587" y="222" width="9" height="8" fill="#00009b"/>
<rect x="596" y="222" width="8" height="8" fill="#0000a8"/>
<rect x="604" y="222" width="8" height="8" fill="#0000bf"/>
<rect x="612" y="222" width="9" height="8" fill="#0000d6"/>
<rect x="621" y="222" width="8" height="8" fill="#0000ed"/>
<rect x="629" y="222" width="9" height="8" fill="#0010ff"/>
<rect x="638" y="222" width="8" height="8" fill="#0030ff"/>
<rect x="646" y="222" width="9" height="8" fill="#0058ff"/>
<rect x="655" y="222" width="8" height="8" fill="#0070ff"/>
<rect x="663" y="222" width="9" height="8" fill="#007cff"/>
<rect x="672" y="222" width="8" height="8" fill="#0088ff"/>
<rect x="680" y="222" width="9" height="8" fill="#0094ff"/>
<rect x="689" y="222" width="8" height="8" fill="#00a4ff"/>
<rect x="697" y="222" width="17" height="8" fill="#00b0ff"/>
<rect x="105" y="230" width="8" height="9" fill="#00c0ff"/>
<rect x="113" y="230" width="9" height="9" fill="#00e0fb"/>
<rect x="122" y="230" width="8" height="9" fill="#19ffde"/>
<rect x="130" y="230" width="9" height="9" fill="#2cffca"/>
<rect x="139" y="230" width="8" height="9" fill="#3cffba"/>
<rect x="147" y="230" width="9" height="9" fill="#4dffaa"/>
<rect x="156" y="230" width="8" height="9" fill="#5aff9d"/>
<rect x="164" y="230" width="9" height="9" fill="#63ff94"/>
<rect x="173" y="230" width="8" height="9" fill="#6dff8a"/>
<rect x="181" y="230" width="9" height="9" fill="#7aff7d"/>
<rect x="190" y="230" width="8" height="9" fill="#87ff70"/>
<rect x="198" y="230" width="8" height="9" fill="#9aff5d"/>
<rect x="206" y="230" width="9" height="9" fill="#baff3c"/>
<rect x="215" y="230" width="8" height="9" fill="#d4ff23"/>
<rect x="223" y="230" width="9" height="9" fill="#ffde00"/>
<rect x="232" y="230" width="8" height="9" fill="#ff9c00"/>
<rect x="240" y="230" width="9" height="9" fill="#ff3f00"/>
<rect x="249" y="230" width="8" height="9" fill="#b20000"/>
<rect x="257" y="230" width="9" height="9" fill="#890000"/>
<rect x="266" y="230" width="8" height="9" fill="#9b0000"/>
<rect x="274" y="230" width="9" height="9" fill="#d10000"/>
<rect x="283" y="230" width="8" height="9" fill="#ff8d00"/>
<rect x="291" y="230" width="9" height="9" fill="#ffcc00"/>
<rect x="300" y="230" width="8" height="9" fill="#adff49"/>
<rect x="308" y="230" width="8" height="9" fill="#6dff8a"/>
<rect x="316" y="230" width="9" height="9" fill="#2cffca"/>
<rect x="325" y="230" width="8" height="9" fill="#00c8ff"/>
<rect x="333" y="230" width="9" height="9" fill="#0080ff"/>
<rect x="342" y="230" width="8" height="9" fill="#0050ff"/>
<rect x="350" y="230" width="9" height="9" fill="#0024ff"/>
<rect x="359" y="230" width="8" height="9" fill="#0010ff"/>
<rect x="367" y="230" width="9" height="9" fill="#0004ff"/>
<rect x="376" y="230" width="8" height="9" fill="#0000fa"/>
<rect x="384" y="230" width="26" height="9" fill="#0000ed"/>
<rect x="410" y="230" width="8" height="9" fill="#0000e8"/>
<rect x="418" y="230" width="8" height="9" fill="#0000d6"/>
<rect x="426" y="230" width="9" height="9" fill="#0000c8"/>
<rect x="435" y="230" width="8" height="9" fill="#0000b2"/>
<rect x="443" y="230" width="9" height="9" fill="#0000a4"/>
<rect x="452" y="230" width="8" height="9" fill="#00009f"/>
<rect x="460" y="230" width="9" height="9" fill="#00009b"/>
<rect x="469" y="230" width="8" height="9" fill="#000096"/>
<rect x="477" y="230" width="9" height="9" fill="#000092"/>
<rect x="486" y="230" width="76" height="9" fill="#00008d"/>
<rect x="562" y="230" width="25" height="9" fill="#000092"/>
<rect x="587" y="230" width="9" height="9" fill="#000096"/>
<rect x="596" y="230" width="8" height="9" fill="#0000a4"/>
<rect x="604" y="230" width="8" height="9" fill="#0000b6"/>
<rect x="612" y="230" width="9" height="9" fill="#0000d1"/>
<rect x="621" y="230" width="8" height="9" fill="#0000ed"/>
<rect x="629" y="230" width="9" height="9" fill="#000cff"/>
<rect x="638" y="230" width="8" height="9" fill="#0028ff"/>
<rect x="646" y="230" width="9" height="9" fill="#0050ff"/>
<rect x="655" y="230" width="8" height="9" fill="#0068ff"/>
<rect x="663" y="230" width="9" height="9" fill="#007cff"/>
<rect x="672" y="230" width="8" height="9" fill="#0088ff"/>
<rect x="680" y="230" width="9" height="9" fill="#0094ff"/>
<rect x="689" y="230" width="8" height="9" fill="#00acff"/>
<rect x="697" y="230" width="17" height="9" fill="#00b8ff"/>
<rect x="105" y="239" width="8" height="8" fill="#00acff"/>
<rect x="113" y="239" width="9" height="8" fill="#00c8ff"/>
<rect x="122" y="239" width="76" height="8" fill="#00dcfe"/>
<rect x="198" y="239" width="8" height="8" fill="#00e0fb"/>
<rect x="206" y="239" width="9" height="8" fill="#09f0ee"/>
<rect x="215" y="239" width="8" height="8" fill="#23ffd4"/>
<rect x="223" y="239" width="9" height="8" fill="#4dffaa"/>
<rect x="232" y="239" width="8" height="8" fill="#8dff6a"/>
<rect x="240" y="239" width="9" height="8" fill="#d4ff23"/>
<rect x="249" y="239" width="8" height="8" fill="#ffab00"/>
<rect x="257" y="239" width="9" height="8" fill="#ff5d00"/>
<rect x="266" y="239" width="8" height="8" fill="#ff3400"/>
<rect x="274" y="239" width="9" height="8" fill="#ff4300"/>
<rect x="283" y="239" width="8" height="8" fill="#ff9c00"/>
<rect x="291" y="239" width="9" height="8" fill="#e4ff13"/>
<rect x="300" y="239" width="8" height="8" fill="#83ff73"/>
<rect x="308" y="239" width="8" height="8" fill="#39ffbe"/>
<rect x="316" y="239" width="9" height="8" fill="#00c0ff"/>
<rect x="325" y="239" width="8" height="8" fill="#0078ff"/>
<rect x="333" y="239" width="9" height="8" fill="#0040ff"/>
<rect x="342" y="239" width="8" height="8" fill="#0018ff"/>
<rect x="350" y="239" width="9" height="8" fill="#0004ff"/>
<rect x="359" y="239" width="8" height="8" fill="#0000da"/>
<rect x="367" y="239" width="9" height="8" fill="#0000bf"/>
<rect x="376" y="239" width="8" height="8" fill="#0000a8"/>
<rect x="384" y="239" width="9" height="8" fill="#00009f"/>
<rect x="393" y="239" width="50" height="8" fill="#000096"/>
<rect x="443" y="239" width="26" height="8" fill="#000092"/>
<rect x="469" y="239" width="25" height="8" fill="#00008d"/>
<rect x="494" y="239" width="25" height="8" fill="#000089"/>
<rect x="519" y="239" width="68" height="8" fill="#00008d"/>
<rect x="587" y="239" width="9" height="8" fill="#000092"/>
<rect x="596" y="239" width="8" height="8" fill="#00009f"/>
<rect x="604" y="239" width="8" height="8" fill="#0000b2"/>
<rect x="612" y="239" width="9" height="8" fill="#0000c4"/>
<rect x="621" y="239" width="8" height="8" fill="#0000da"/>
<rect x="629" y="239" width="9" height="8" fill="#0004ff"/>
<rect x="638" y="239" width="8" height="8" fill="#001cff"/>
<rect x="646" y="239" width="9" height="8" fill="#003cff"/>
<rect x="655" y="239" width="8" height="8" fill="#0058ff"/>
<rect x="663" y="239" width="9" height="8" fill="#006cff"/>
<rect x="672" y="239" width="8" height="8" fill="#007cff"/>
<rect x="680" y="239" width="9" height="8" fill="#0090ff"/>
<rect x="689" y="239" width="8" height="8" fill="#00acff"/>
<rect x="697" y="239" width="17" height="8" fill="#00bcff"/>
<rect x="105" y="247" width="25" height="8" fill="#00ccff"/>
<rect x="130" y="247" width="43" height="8" fill="#09f0ee"/>
<rect x="173" y="247" width="17" height="8" fill="#00dcfe"/>
<rect x="190" y="247" width="50" height="8" fill="#00a4ff"/>
<rect x="240" y="247" width="9" height="8" fill="#00dcfe"/>
<rect x="249" y="247" width="8" height="8" fill="#2cffca"/>
<rect x="257" y="247" width="9" height="8" fill="#6dff8a"/>
<rect x="266" y="247" width="8" height="8" fill="#a0ff56"/>
<rect x="274" y="247" width="9" height="8" fill="#8dff6a"/>
<rect x="283" y="247" width="8" height="8" fill="#63ff94"/>
<rect x="291" y="247" width="9" height="8" fill="#23ffd4"/>
<rect x="300" y="247" width="8" height="8" fill="#0090ff"/>
<rect x="308" y="247" width="8" height="8" fill="#0054ff"/>
<rect x="316" y="247" width="9" height="8" fill="#0028ff"/>
<rect x="325" y="247" width="8" height="8" fill="#0010ff"/>
<rect x="333" y="247" width="9" height="8" fill="#0000ff"/>
<rect x="342" y="247" width="8" height="8" fill="#0000da"/>
<rect x="350" y="247" width="9" height="8" fill="#0000ad"/>
<rect x="359" y="247" width="8" height="8" fill="#00009b"/>
<rect x="367" y="247" width="9" height="8" fill="#0000a4"/>
<rect x="376" y="247" width="8" height="8" fill="#000092"/>
<rect x="384" y="247" width="51" height="8" fill="#00008d"/>
<rect x="435" y="247" width="25" height="8" fill="#000092"/>
<rect x="460" y="247" width="34" height="8" fill="#00008d"/>
<rect x="494" y="247" width="9" height="8" fill="#000089"/>
<rect x="503" y="247" width="59" height="8" fill="#00008d"/>
<rect x="562" y="247" width="25" height="8" fill="#000092"/>
<rect x="587" y="247" width="9" height="8" fill="#000096"/>
<rect x="596" y="247" width="8" height="8" fill="#00009f"/>
<rect x="604" y="247" width="8" height="8" fill="#0000b2"/>
<rect x="612" y="247" width="9" height="8" fill="#0000c4"/>
<rect x="621" y="247" width="8" height="8" fill="#0000da"/>
<rect x="629" y="247" width="9" height="8" fill="#0000ff"/>
<rect x="638" y="247" width="8" height="8" fill="#0018ff"/>
<rect x="646" y="247" width="9" height="8" fill="#002cff"/>
<rect x="655" y="247" width="8" height="8" fill="#0044ff"/>
<rect x="663" y="247" width="9" height="8" fill="#0058ff"/>
<rect x="672" y="247" width="8" height="8" fill="#006cff"/>
<rect x="680" y="247" width="9" height="8" fill="#007cff"/>
<rect x="689" y="247" width="8" height="8" fill="#0094ff"/>
<rect x="697" y="247" width="17" height="8" fill="#00acff"/>
<rect x="105" y="255" width="8" height="9" fill="#0088ff"/>
<rect x="113" y="255" width="9" height="9" fill="#00b4ff"/>
<rect x="122" y="255" width="8" height="9" fill="#00ccff"/>
<rect x="130" y="255" width="9" height="9" fill="#02e8f4"/>
<rect x="139" y="255" width="8" height="9" fill="#19ffde"/>
<rect x="147" y="255" width="59" height="9" fill="#2cffca"/>
<rect x="206" y="255" width="9" height="9" fill="#23ffd4"/>
<rect x="215" y="255" width="25" height="9" fill="#0cf4eb"/>
<rect x="240" y="255" width="9" height="9" fill="#19ffde"/>
<rect x="249" y="255" width="8" height="9" fill="#23ffd4"/>
<rect x="257" y="255" width="9" height="9" fill="#2cffca"/>
<rect x="266" y="255" width="8" height="9" fill="#40ffb7"/>
<rect x="274" y="255" width="9" height="9" fill="#39ffbe"/>
<rect x="283" y="255" width="8" height="9" fill="#00c4ff"/>
<rect x="291" y="255" width="9" height="9" fill="#0084ff"/>
<rect x="300" y="255" width="8" height="9" fill="#0054ff"/>
<rect x="308" y="255" width="8" height="9" fill="#0034ff"/>
<rect x="316" y="255" width="9" height="9" fill="#001cff"/>
<rect x="325" y="255" width="8" height="9" fill="#0008ff"/>
<rect x="333" y="255" width="9" height="9" fill="#0000ff"/>
<rect x="342" y="255" width="8" height="9" fill="#0000f1"/>
<rect x="350" y="255" width="9" height="9" fill="#0000da"/>
<rect x="359" y="255" width="8" height="9" fill="#00009f"/>
<rect x="367" y="255" width="9" height="9" fill="#000092"/>
<rect x="376" y="255" width="42" height="9" fill="#000089"/>
<rect x="418" y="255" width="25" height="9" fill="#00008d"/>
<rect x="443" y="255" width="76" height="9" fill="#000092"/>
<rect x="519" y="255" width="26" height="9" fill="#000096"/>
<rect x="545" y="255" width="17" height="9" fill="#00009b"/>
<rect x="562" y="255" width="25" height="9" fill="#00009f"/>
<rect x="587" y="255" width="17" height="9" fill="#0000a8"/>
<rect x="604" y="255" width="8" height="9" fill="#0000b6"/>
<rect x="612" y="255" width="9" height="9" fill="#0000cd"/>
<rect x="621" y="255" width="8" height="9" fill="#0000da"/>
<rect x="629" y="255" width="9" height="9" fill="#0000ff"/>
<rect x="638" y="255" width="8" height="9" fill="#0024ff"/>
<rect x="646" y="255" width="9" height="9" fill="#0030ff"/>
<rect x="655" y="255" width="8" height="9" fill="#003cff"/>
<rect x="663" y="255" width="9" height="9" fill="#004cff"/>
<rect x="672" y="255" width="8" height="9" fill="#0058ff"/>
<rect x="680" y="255" width="9" height="9" fill="#0064ff"/>
<rect x="689" y="255" width="25" height="9" fill="#0070ff"/>
<rect x="105" y="264" width="34" height="8" fill="#0038ff"/>
<rect x="139" y="264" width="17" height="8" fill="#0060ff"/>
<rect x="156" y="264" width="8" height="8" fill="#0088ff"/>
<rect x="164" y="264" width="9" height="8" fill="#00a4ff"/>
<rect x="173" y="264" width="8" height="8" fill="#00ccff"/>
<rect x="181" y="264" width="9" height="8" fill="#0cf4eb"/>
<rect x="190" y="264" width="8" height="8" fill="#23ffd4"/>
<rect x="198" y="264" width="8" height="8" fill="#39ffbe"/>
<rect x="206" y="264" width="9" height="8" fill="#4dffaa"/>
<rect x="215" y="264" width="8" height="8" fill="#63ff94"/>
<rect x="223" y="264" width="9" height="8" fill="#6dff8a"/>
<rect x="232" y="264" width="8" height="8" fill="#7aff7d"/>
<rect x="240" y="264" width="9" height="8" fill="#80ff77"/>
<rect x="249" y="264" width="8" height="8" fill="#7aff7d"/>
<rect x="257" y="264" width="9" height="8" fill="#3cffba"/>
<rect x="266" y="264" width="8" height="8" fill="#1cffdb"/>
<rect x="274" y="264" width="9" height="8" fill="#00c8ff"/>
<rect x="283" y="264" width="8" height="8" fill="#0084ff"/>
<rect x="291" y="264" width="9" height="8" fill="#0054ff"/>
<rect x="300" y="264" width="8" height="8" fill="#0034ff"/>
<rect x="308" y="264" width="8" height="8" fill="#0020ff"/>
<rect x="316" y="264" width="9" height="8" fill="#0010ff"/>
<rect x="325" y="264" width="8" height="8" fill="#0004ff"/>
<rect x="333" y="264" width="9" height="8" fill="#0000ff"/>
<rect x="342" y="264" width="8" height="8" fill="#0000d1"/>
<rect x="350" y="264" width="9" height="8" fill="#0000c4"/>
<rect x="359" y="264" width="8" height="8" fill="#00009f"/>
<rect x="367" y="264" width="51" height="8" fill="#00008d"/>
<rect x="418" y="264" width="17" height="8" fill="#000092"/>
<rect x="435" y="264" width="68" height="8" fill="#00009b"/>
<rect x="503" y="264" width="16" height="8" fill="#00009f"/>
<rect x="519" y="264" width="17" height="8" fill="#0000a4"/>
<rect x="536" y="264" width="26" height="8" fill="#0000a8"/>
<rect x="562" y="264" width="25" height="8" fill="#0000ad"/>
<rect x="587" y="264" width="17" height="8" fill="#0000b6"/>
<rect x="604" y="264" width="8" height="8" fill="#0000bf"/>
<rect x="612" y="264" width="9" height="8" fill="#0000cd"/>
<rect x="621" y="264" width="8" height="8" fill="#0000d1"/>
<rect x="629" y="264" width="9" height="8" fill="#0000ff"/>
<rect x="638" y="264" width="8" height="8" fill="#001cff"/>
<rect x="646" y="264" width="9" height="8" fill="#0024ff"/>
<rect x="655" y="264" width="17" height="8" fill="#002cff"/>
<rect x="672" y="264" width="42" height="8" fill="#0030ff"/>
<rect x="105" y="272" width="51" height="9" fill="#000cff"/>
<rect x="156" y="272" width="8" height="9" fill="#002cff"/>
<rect x="164" y="272" width="9" height="9" fill="#0050ff"/>
<rect x="173" y="272" width="17" height="9" fill="#0070ff"/>
<rect x="190" y="272" width="8" height="9" fill="#0098ff"/>
<rect x="198" y="272" width="8" height="9" fill="#00c0ff"/>
<rect x="206" y="272" width="9" height="9" fill="#13fce4"/>
<rect x="215" y="272" width="8" height="9" fill="#39ffbe"/>
<rect x="223" y="272" width="9" height="9" fill="#5aff9d"/>
<rect x="232" y="272" width="8" height="9" fill="#7aff7d"/>
<rect x="240" y="272" width="9" height="9" fill="#87ff70"/>
<rect x="249" y="272" width="8" height="9" fill="#8dff6a"/>
<rect x="257" y="272" width="9" height="9" fill="#63ff94"/>
<rect x="266" y="272" width="8" height="9" fill="#39ffbe"/>
<rect x="274" y="272" width="9" height="9" fill="#00dcfe"/>
<rect x="283" y="272" width="8" height="9" fill="#00a0ff"/>
<rect x="291" y="272" width="9" height="9" fill="#0054ff"/>
<rect x="300" y="272" width="8" height="9" fill="#0030ff"/>
<rect x="308" y="272" width="8" height="9" fill="#0018ff"/>
<rect x="316" y="272" width="9" height="9" fill="#000cff"/>
<rect x="325" y="272" width="8" height="9" fill="#0000ff"/>
<rect x="333" y="272" width="9" height="9" fill="#0000da"/>
<rect x="342" y="272" width="8" height="9" fill="#0000cd"/>
<rect x="350" y="272" width="9" height="9" fill="#0000a4"/>
<rect x="359" y="272" width="51" height="9" fill="#00009f"/>
<rect x="410" y="272" width="8" height="9" fill="#0000a4"/>
<rect x="418" y="272" width="8" height="9" fill="#0000a8"/>
<rect x="426" y="272" width="9" height="9" fill="#0000a4"/>
<rect x="435" y="272" width="8" height="9" fill="#0000a8"/>
<rect x="443" y="272" width="110" height="9" fill="#0000ad"/>
<rect x="553" y="272" width="43" height="9" fill="#0000b2"/>
<rect x="596" y="272" width="8" height="9" fill="#0000b6"/>
<rect x="604" y="272" width="8" height="9" fill="#0000bb"/>
<rect x="612" y="272" width="9" height="9" fill="#0000c4"/>
<rect x="621" y="272" width="8" height="9" fill="#0000c8"/>
<rect x="629" y="272" width="9" height="9" fill="#0000da"/>
<rect x="638" y="272" width="8" height="9" fill="#0000f6"/>
<rect x="646" y="272" width="9" height="9" fill="#0004ff"/>
<rect x="655" y="272" width="8" height="9" fill="#0018ff"/>
<rect x="663" y="272" width="9" height="9" fill="#0020ff"/>
<rect x="672" y="272" width="8" height="9" fill="#0024ff"/>
<rect x="680" y="272" width="17" height="9" fill="#0028ff"/>
<rect x="697" y="272" width="9" height="9" fill="#002cff"/>
<rect x="706" y="272" width="8" height="9" fill="#0030ff"/>
<rect x="105" y="281" width="76" height="8" fill="#0000e8"/>
<rect x="181" y="281" width="9" height="8" fill="#000cff"/>
<rect x="190" y="281" width="8" height="8" fill="#0020ff"/>
<rect x="198" y="281" width="8" height="8" fill="#0038ff"/>
<rect x="206" y="281" width="9" height="8" fill="#0058ff"/>
<rect x="215" y="281" width="8" height="8" fill="#0078ff"/>
<rect x="223" y="281" width="9" height="8" fill="#00a0ff"/>
<rect x="232" y="281" width="8" height="8" fill="#00c4ff"/>
<rect x="240" y="281" width="9" height="8" fill="#06ecf1"/>
<rect x="249" y="281" width="8" height="8" fill="#1cffdb"/>
<rect x="257" y="281" width="9" height="8" fill="#19ffde"/>
<rect x="266" y="281" width="8" height="8" fill="#00e0fb"/>
<rect x="274" y="281" width="9" height="8" fill="#00b8ff"/>
<rect x="283" y="281" width="8" height="8" fill="#0080ff"/>
<rect x="291" y="281" width="9" height="8" fill="#0040ff"/>
<rect x="300" y="281" width="8" height="8" fill="#0020ff"/>
<rect x="308" y="281" width="8" height="8" fill="#000cff"/>
<rect x="316" y="281" width="9" height="8" fill="#0000ff"/>
<rect x="325" y="281" width="8" height="8" fill="#0000d6"/>
<rect x="333" y="281" width="9" height="8" fill="#0000c4"/>
<rect x="342" y="281" width="68" height="8" fill="#0000a4"/>
<rect x="410" y="281" width="16" height="8" fill="#0000b2"/>
<rect x="426" y="281" width="9" height="8" fill="#0000a8"/>
<rect x="435" y="281" width="51" height="8" fill="#0000ad"/>
<rect x="486" y="281" width="84" height="8" fill="#0000a8"/>
<rect x="570" y="281" width="34" height="8" fill="#0000ad"/>
<rect x="604" y="281" width="8" height="8" fill="#0000b2"/>
<rect x="612" y="281" width="9" height="8" fill="#0000bb"/>
<rect x="621" y="281" width="8" height="8" fill="#0000bf"/>
<rect x="629" y="281" width="9" height="8" fill="#0000d6"/>
<rect x="638" y="281" width="8" height="8" fill="#0000f1"/>
<rect x="646" y="281" width="9" height="8" fill="#0000f6"/>
<rect x="655" y="281" width="8" height="8" fill="#0000fa"/>
<rect x="663" y="281" width="9" height="8" fill="#0008ff"/>
<rect x="672" y="281" width="8" height="8" fill="#000cff"/>
<rect x="680" y="281" width="9" height="8" fill="#0014ff"/>
<rect x="689" y="281" width="17" height="8" fill="#0018ff"/>
<rect x="706" y="281" width="8" height="8" fill="#001cff"/>
<rect x="105" y="289" width="25" height="9" fill="#0000e3"/>
<rect x="130" y="289" width="43" height="9" fill="#0000d6"/>
<rect x="173" y="289" width="33" height="9" fill="#0000df"/>
<rect x="206" y="289" width="9" height="9" fill="#0000ff"/>
<rect x="215" y="289" width="8" height="9" fill="#000cff"/>
<rect x="223" y="289" width="9" height="9" fill="#0024ff"/>
<rect x="232" y="289" width="8" height="9" fill="#0038ff"/>
<rect x="240" y="289" width="9" height="9" fill="#0054ff"/>
<rect x="249" y="289" width="8" height="9" fill="#0060ff"/>
<rect x="257" y="289" width="9" height="9" fill="#0070ff"/>
<rect x="266" y="289" width="8" height="9" fill="#0060ff"/>
<rect x="274" y="289" width="9" height="9" fill="#0050ff"/>
<rect x="283" y="289" width="8" height="9" fill="#0034ff"/>
<rect x="291" y="289" width="9" height="9" fill="#0014ff"/>
<rect x="300" y="289" width="8" height="9" fill="#0004ff"/>
<rect x="308" y="289" width="8" height="9" fill="#0000ff"/>
<rect x="316" y="289" width="9" height="9" fill="#0000d6"/>
<rect x="325" y="289" width="8" height="9" fill="#0000c4"/>
<rect x="333" y="289" width="43" height="9" fill="#0000a4"/>
<rect x="376" y="289" width="34" height="9" fill="#0000b2"/>
<rect x="410" y="289" width="8" height="9" fill="#0000c4"/>
<rect x="418" y="289" width="8" height="9" fill="#0000bf"/>
<rect x="426" y="289" width="17" height="9" fill="#0000b2"/>
<rect x="443" y="289" width="26" height="9" fill="#0000ad"/>
<rect x="469" y="289" width="42" height="9" fill="#0000a8"/>
<rect x="511" y="289" width="93" height="9" fill="#0000a4"/>
<rect x="604" y="289" width="8" height="9" fill="#0000a8"/>
<rect x="612" y="289" width="9" height="9" fill="#0000ad"/>
<rect x="621" y="289" width="8" height="9" fill="#0000b6"/>
<rect x="629" y="289" width="9" height="9" fill="#0000c8"/>
<rect x="638" y="289" width="8" height="9" fill="#0000cd"/>
<rect x="646" y="289" width="9" height="9" fill="#0000d1"/>
<rect x="655" y="289" width="8" height="9" fill="#0000d6"/>
<rect x="663" y="289" width="26" height="9" fill="#0000da"/>
<rect x="689" y="289" width="17" height="9" fill="#0000df"/>
<rect x="706" y="289" width="8" height="9" fill="#0000e3"/>
<rect x="105" y="298" width="110" height="8" fill="#0000da"/>
<rect x="215" y="298" width="8" height="8" fill="#0000e3"/>
<rect x="223" y="298" width="9" height="8" fill="#0000ff"/>
<rect x="232" y="298" width="8" height="8" fill="#000cff"/>
<rect x="240" y="298" width="9" height="8" fill="#0018ff"/>
<rect x="249" y="298" width="8" height="8" fill="#0020ff"/>
<rect x="257" y="298" width="17" height="8" fill="#0018ff"/>
<rect x="274" y="298" width="9" height="8" fill="#0010ff"/>
<rect x="283" y="298" width="8" height="8" fill="#0004ff"/>
<rect x="291" y="298" width="9" height="8" fill="#0000ff"/>
<rect x="300" y="298" width="8" height="8" fill="#0000e3"/>
<rect x="308" y="298" width="8" height="8" fill="#0000d1"/>
<rect x="316" y="298" width="9" height="8" fill="#0000c4"/>
<rect x="325" y="298" width="42" height="8" fill="#0000a8"/>
<rect x="367" y="298" width="43" height="8" fill="#0000bf"/>
<rect x="410" y="298" width="8" height="8" fill="#0000cd"/>
<rect x="418" y="298" width="8" height="8" fill="#0000c8"/>
<rect x="426" y="298" width="9" height="8" fill="#0000b6"/>
<rect x="435" y="298" width="8" height="8" fill="#0000b2"/>
<rect x="443" y="298" width="34" height="8" fill="#0000ad"/>
<rect x="477" y="298" width="34" height="8" fill="#0000a8"/>
<rect x="511" y="298" width="93" height="8" fill="#0000a4"/>
<rect x="604" y="298" width="8" height="8" fill="#0000a8"/>
<rect x="612" y="298" width="9" height="8" fill="#0000ad"/>
<rect x="621" y="298" width="8" height="8" fill="#0000b6"/>
<rect x="629" y="298" width="17" height="8" fill="#0000c8"/>
<rect x="646" y="298" width="9" height="8" fill="#0000cd"/>
<rect x="655" y="298" width="8" height="8" fill="#0000d1"/>
<rect x="663" y="298" width="17" height="8" fill="#0000d6"/>
<rect x="680" y="298" width="26" height="8" fill="#0000da"/>
<rect x="706" y="298" width="8" height="8" fill="#0000df"/>
<rect x="105" y="306" width="118" height="9" fill="#0000e8"/>
<rect x="223" y="306" width="60" height="9" fill="#0004ff"/>
<rect x="283" y="306" width="8" height="9" fill="#0000e3"/>
<rect x="291" y="306" width="9" height="9" fill="#0000da"/>
<rect x="300" y="306" width="8" height="9" fill="#0000c4"/>
<rect x="308" y="306" width="51" height="9" fill="#0000b6"/>
<rect x="359" y="306" width="59" height="9" fill="#0000cd"/>
<rect x="418" y="306" width="8" height="9" fill="#0000c8"/>
<rect x="426" y="306" width="9" height="9" fill="#0000bb"/>
<rect x="435" y="306" width="17" height="9" fill="#0000b6"/>
<rect x="452" y="306" width="17" height="9" fill="#0000b2"/>
<rect x="469" y="306" width="25" height="9" fill="#0000ad"/>
<rect x="494" y="306" width="25" height="9" fill="#0000a8"/>
<rect x="519" y="306" width="85" height="9" fill="#0000a4"/>
<rect x="604" y="306" width="8" height="9" fill="#0000a8"/>
<rect x="612" y="306" width="9" height="9" fill="#0000ad"/>
<rect x="621" y="306" width="8" height="9" fill="#0000b6"/>
<rect x="629" y="306" width="17" height="9" fill="#0000c8"/>
<rect x="646" y="306" width="9" height="9" fill="#0000cd"/>
<rect x="655" y="306" width="8" height="9" fill="#0000d1"/>
<rect x="663" y="306" width="17" height="9" fill="#0000d6"/>
<rect x="680" y="306" width="26" height="9" fill="#0000da"/>
<rect x="706" y="306" width="8" height="9" fill="#0000df"/>
<rect x="105" y="315" width="8" height="8" fill="#0004ff"/>
<rect x="113" y="315" width="110" height="8" fill="#0010ff"/>
<rect x="223" y="315" width="60" height="8" fill="#0008ff"/>
<rect x="283" y="315" width="8" height="8" fill="#0000ff"/>
<rect x="291" y="315" width="9" height="8" fill="#0000da"/>
<rect x="300" y="315" width="42" height="8" fill="#0000c4"/>
<rect x="342" y="315" width="76" height="8" fill="#0000d6"/>
<rect x="418" y="315" width="8" height="8" fill="#0000d1"/>
<rect x="426" y="315" width="17" height="8" fill="#0000bf"/>
<rect x="443" y="315" width="9" height="8" fill="#0000bb"/>
<rect x="452" y="315" width="17" height="8" fill="#0000b6"/>
<rect x="469" y="315" width="17" height="8" fill="#0000b2"/>
<rect x="486" y="315" width="25" height="8" fill="#0000ad"/>
<rect x="511" y="315" width="17" height="8" fill="#0000a8"/>
<rect x="528" y="315" width="76" height="8" fill="#0000a4"/>
<rect x="604" y="315" width="8" height="8" fill="#0000ad"/>
<rect x="612" y="315" width="9" height="8" fill="#0000b2"/>
<rect x="621" y="315" width="8" height="8" fill="#0000b6"/>
<rect x="629" y="315" width="17" height="8" fill="#0000c8"/>
<rect x="646" y="315" width="9" height="8" fill="#0000cd"/>
<rect x="655" y="315" width="8" height="8" fill="#0000d1"/>
<rect x="663" y="315" width="26" height="8" fill="#0000d6"/>
<rect x="689" y="315" width="25" height="8" fill="#0000da"/>
<rect x="105" y="323" width="8" height="9" fill="#0008ff"/>
<rect x="113" y="323" width="9" height="9" fill="#0018ff"/>
<rect x="122" y="323" width="101" height="9" fill="#002cff"/>
<rect x="223" y="323" width="9" height="9" fill="#0020ff"/>
<rect x="232" y="323" width="25" height="9" fill="#000cff"/>
<rect x="257" y="323" width="17" height="9" fill="#0008ff"/>
<rect x="274" y="323" width="17" height="9" fill="#0000ff"/>
<rect x="291" y="323" width="51" height="9" fill="#0000d1"/>
<rect x="342" y="323" width="76" height="9" fill="#0000da"/>
<rect x="418" y="323" width="8" height="9" fill="#0000d6"/>
<rect x="426" y="323" width="9" height="9" fill="#0000c4"/>
<rect x="435" y="323" width="8" height="9" fill="#0000bf"/>
<rect x="443" y="323" width="9" height="9" fill="#0000bb"/>
<rect x="452" y="323" width="17" height="9" fill="#0000b6"/>
<rect x="469" y="323" width="25" height="9" fill="#0000b2"/>
<rect x="494" y="323" width="25" height="9" fill="#0000ad"/>
<rect x="519" y="323" width="85" height="9" fill="#0000a8"/>
<rect x="604" y="323" width="8" height="9" fill="#0000ad"/>
<rect x="612" y="323" width="9" height="9" fill="#0000b2"/>
<rect x="621" y="323" width="8" height="9" fill="#0000b6"/>
<rect x="629" y="323" width="17" height="9" fill="#0000c8"/>
<rect x="646" y="323" width="9" height="9" fill="#0000cd"/>
<rect x="655" y="323" width="8" height="9" fill="#0000d1"/>
<rect x="663" y="323" width="26" height="9" fill="#0000d6"/>
<rect x="689" y="323" width="25" height="9" fill="#0000da"/>
<rect x="105" y="332" width="8" height="8" fill="#0008ff"/>
<rect x="113" y="332" width="9" height="8" fill="#0020ff"/>
<rect x="122" y="332" width="34" height="8" fill="#0030ff"/>
<rect x="156" y="332" width="59" height="8" fill="#0038ff"/>
<rect x="215" y="332" width="8" height="8" fill="#002cff"/>
<rect x="223" y="332" width="9" height="8" fill="#0020ff"/>
<rect x="232" y="332" width="25" height="8" fill="#000cff"/>
<rect x="257" y="332" width="17" height="8" fill="#0008ff"/>
<rect x="274" y="332" width="9" height="8" fill="#0000ff"/>
<rect x="283" y="332" width="76" height="8" fill="#0000d6"/>
<rect x="359" y="332" width="59" height="8" fill="#0000da"/>
<rect x="418" y="332" width="8" height="8" fill="#0000d6"/>
<rect x="426" y="332" width="9" height="8" fill="#0000c4"/>
<rect x="435" y="332" width="8" height="8" fill="#0000bf"/>
<rect x="443" y="332" width="9" height="8" fill="#0000bb"/>
<rect x="452" y="332" width="17" height="8" fill="#0000b6"/>
<rect x="469" y="332" width="25" height="8" fill="#0000b2"/>
<rect x="494" y="332" width="25" height="8" fill="#0000ad"/>
<rect x="519" y="332" width="85" height="8" fill="#0000a8"/>
<rect x="604" y="332" width="8" height="8" fill="#0000ad"/>
<rect x="612" y="332" width="9" height="8" fill="#0000b2"/>
<rect x="621" y="332" width="8" height="8" fill="#0000b6"/>
<rect x="629" y="332" width="17" height="8" fill="#0000c8"/>
<rect x="646" y="332" width="9" height="8" fill="#0000cd"/>
<rect x="655" y="332" width="8" height="8" fill="#0000d1"/>
<rect x="663" y="332" width="26" height="8" fill="#0000d6"/>
<rect x="689" y="332" width="25" height="8" fill="#0000da"/>
<rect x="105" y="340" width="8" height="9" fill="#0004ff"/>
<rect x="113" y="340" width="9" height="9" fill="#0018ff"/>
<rect x="122" y="340" width="93" height="9" fill="#0028ff"/>
<rect x="215" y="340" width="8" height="9" fill="#0018ff"/>
<rect x="223" y="340" width="34" height="9" fill="#0004ff"/>
<rect x="257" y="340" width="17" height="9" fill="#0000ff"/>
<rect x="274" y="340" width="144" height="9" fill="#0000d1"/>
<rect x="418" y="340" width="8" height="9" fill="#0000cd"/>
<rect x="426" y="340" width="9" height="9" fill="#0000bf"/>
<rect x="435" y="340" width="17" height="9" fill="#0000bb"/>
<rect x="452" y="340" width="17" height="9" fill="#0000b6"/>
<rect x="469" y="340" width="25" height="9" fill="#0000b2"/>
<rect x="494" y="340" width="25" height="9" fill="#0000ad"/>
<rect x="519" y="340" width="85" height="9" fill="#0000a8"/>
<rect x="604" y="340" width="8" height="9" fill="#0000ad"/>
<rect x="612" y="340" width="9" height="9" fill="#0000b2"/>
<rect x="621" y="340" width="8" height="9" fill="#0000b6"/>
<rect x="629" y="340" width="17" height="9" fill="#0000c8"/>
<rect x="646" y="340" width="9" height="9" fill="#0000cd"/>
<rect x="655" y="340" width="8" height="9" fill="#0000d1"/>
<rect x="663" y="340" width="26" height="9" fill="#0000d6"/>
<rect x="689" y="340" width="25" height="9" fill="#0000da"/>
<rect x="105" y="349" width="17" height="8" fill="#0000ff"/>
<rect x="122" y="349" width="93" height="8" fill="#0010ff"/>
<rect x="215" y="349" width="42" height="8" fill="#0000ff"/>
<rect x="257" y="349" width="17" height="8" fill="#0000e3"/>
<rect x="274" y="349" width="136" height="8" fill="#0000cd"/>
<rect x="410" y="349" width="16" height="8" fill="#0000c8"/>
<rect x="426" y="349" width="17" height="8" fill="#0000bb"/>
<rect x="443" y="349" width="26" height="8" fill="#0000b6"/>
<rect x="469" y="349" width="42" height="8" fill="#0000b2"/>
<rect x="511" y="349" width="93" height="8" fill="#0000ad"/>
<rect x="604" y="349" width="8" height="8" fill="#0000b2"/>
<rect x="612" y="349" width="17" height="8" fill="#0000b6"/>
<rect x="629" y="349" width="17" height="8" fill="#0000c8"/>
<rect x="646" y="349" width="9" height="8" fill="#0000cd"/>
<rect x="655" y="349" width="8" height="8" fill="#0000d1"/>
<rect x="663" y="349" width="43" height="8" fill="#0000d6"/>
<rect x="706" y="349" width="8" height="8" fill="#0000da"/>
<rect x="105" y="357" width="152" height="9" fill="#0000e8"/>
<rect x="257" y="357" width="26" height="9" fill="#0000da"/>
<rect x="283" y="357" width="143" height="9" fill="#0000bf"/>
<rect x="426" y="357" width="43" height="9" fill="#0000b6"/>
<rect x="469" y="357" width="42" height="9" fill="#0000b2"/>
<rect x="511" y="357" width="93" height="9" fill="#0000ad"/>
<rect x="604" y="357" width="8" height="9" fill="#0000b2"/>
<rect x="612" y="357" width="17" height="9" fill="#0000b6"/>
<rect x="629" y="357" width="17" height="9" fill="#0000c8"/>
<rect x="646" y="357" width="9" height="9" fill="#0000cd"/>
<rect x="655" y="357" width="8" height="9" fill="#0000d1"/>
<rect x="663" y="357" width="51" height="9" fill="#0000d6"/>
<rect x="105" y="366" width="152" height="8" fill="#0000d6"/>
<rect x="257" y="366" width="26" height="8" fill="#0000c4"/>
<rect x="283" y="366" width="143" height="8" fill="#0000b6"/>
<rect x="426" y="366" width="60" height="8" fill="#0000ad"/>
<rect x="486" y="366" width="126" height="8" fill="#0000a8"/>
<rect x="612" y="366" width="9" height="8" fill="#0000ad"/>
<rect x="621" y="366" width="8" height="8" fill="#0000b2"/>
<rect x="629" y="366" width="17" height="8" fill="#0000bf"/>
<rect x="646" y="366" width="26" height="8" fill="#0000c4"/>
<rect x="672" y="366" width="34" height="8" fill="#0000c8"/>
<rect x="706" y="366" width="8" height="8" fill="#0000cd"/>
<rect x="105" y="374" width="152" height="9" fill="#0000c8"/>
<rect x="257" y="374" width="212" height="9" fill="#0000b6"/>
<rect x="469" y="374" width="143" height="9" fill="#0000b2"/>
<rect x="612" y="374" width="9" height="9" fill="#0000b6"/>
<rect x="621" y="374" width="8" height="9" fill="#0000bb"/>
<rect x="629" y="374" width="17" height="9" fill="#0000bf"/>
<rect x="646" y="374" width="26" height="9" fill="#0000c4"/>
<rect x="672" y="374" width="34" height="9" fill="#0000c8"/>
<rect x="706" y="374" width="8" height="9" fill="#0000cd"/>
<rect x="105" y="383" width="152" height="8" fill="#0000bf"/>
<rect x="257" y="383" width="212" height="8" fill="#0000b6"/>
<rect x="469" y="383" width="143" height="8" fill="#0000b2"/>
<rect x="612" y="383" width="9" height="8" fill="#0000b6"/>
<rect x="621" y="383" width="8" height="8" fill="#0000bb"/>
<rect x="629" y="383" width="17" height="8" fill="#0000bf"/>
<rect x="646" y="383" width="26" height="8" fill="#0000c4"/>
<rect x="672" y="383" width="34" height="8" fill="#0000c8"/>
<rect x="706" y="383" width="8" height="8" fill="#0000cd"/></g>
<g clip-path="url(#ax)"><g id="land"><path d="M128.3 132.8L131.4 131.8L135.8 131.1L139.0 131.6L137.8 130.5L135.3 129.3L130.5 128.2L131.5 127.2L137.0 125.8L138.8 124.9L143.7 123.9L147.9 123.0L152.2 123.9L156.4 124.6L161.5 124.7L167.4 125.4L174.2 126.0L178.4 126.7L182.6 127.2L185.2 126.2L187.7 126.3L191.9 125.2L196.2 124.5L197.9 125.6L200.4 126.4L201.7 125.0L204.6 125.7L208.0 125.7L213.9 127.1L218.2 127.2L219.8 128.3L218.0 129.1L223.2 129.3L228.3 129.3L230.0 130.6L230.8 128.9L233.0 127.6L236.8 128.8L240.1 129.1L245.2 129.1L246.9 127.9L249.5 128.3L250.3 127.1L250.6 125.4L249.5 123.7L252.0 122.2L254.5 122.5L257.1 124.5L257.9 126.1L259.6 127.9L263.3 129.6L265.0 128.8L267.7 127.1L268.1 125.7L273.1 125.9L275.2 126.7L274.0 128.1L274.8 129.6L271.4 131.5L266.7 131.3L267.2 132.7L264.7 133.8L262.1 135.5L259.3 136.7L256.2 137.9L253.7 140.4L252.5 142.3L253.3 144.3L255.4 144.3L256.6 147.4L260.4 147.4L264.7 149.1L268.9 150.2L273.5 150.4L273.6 154.1L274.8 155.8L276.5 157.0L279.1 156.7L279.4 154.8L279.4 152.4L277.9 151.4L281.6 149.4L283.3 146.5L281.6 144.0L280.7 140.9L280.9 138.1L285.8 138.4L290.9 139.4L295.0 140.4L294.3 142.3L295.1 144.3L297.0 145.2L301.0 144.3L302.7 141.8L303.8 141.6L307.0 145.3L308.3 148.2L311.2 150.2L314.6 151.8L316.3 153.0L318.5 155.3L316.4 156.8L313.7 157.2L311.2 158.9L305.3 158.9L300.4 158.9L298.5 160.4L295.1 162.6L292.6 164.5L296.0 162.3L300.2 160.7L303.9 161.1L301.9 162.6L302.9 164.3L303.6 165.6L306.1 166.3L308.2 166.5L310.2 164.3L311.5 166.0L309.5 167.2L305.1 168.4L301.7 170.4L300.9 169.7L301.4 168.4L303.9 167.0L300.9 167.3L299.4 168.0L296.8 168.9L293.9 170.0L293.3 171.7L292.6 172.2L293.3 172.9L294.3 172.7L294.4 173.3L293.1 173.6L291.9 173.6L289.4 174.0L287.5 175.1L287.5 176.1L286.0 177.9L285.0 177.1L285.7 178.2L285.3 179.5L284.2 181.0L284.1 179.0L284.0 177.1L283.3 177.5L283.5 179.5L283.6 181.2L284.1 181.4L284.6 182.9L285.0 184.2L283.3 185.3L281.6 185.9L280.7 186.5L279.1 187.3L277.5 188.5L275.7 189.7L275.0 192.4L275.7 194.2L276.4 195.7L277.3 198.6L277.1 200.2L276.5 201.2L275.5 201.3L274.3 199.6L272.8 196.9L272.6 194.7L270.6 192.9L268.2 193.6L266.4 192.4L263.8 192.5L262.1 192.4L261.5 193.0L262.0 194.7L260.4 194.4L258.2 194.2L256.6 193.7L254.0 193.6L252.3 194.2L250.3 195.6L248.3 196.8L247.9 198.5L248.4 199.9L247.4 203.2L247.3 206.2L248.1 209.1L250.1 211.3L252.0 212.3L253.0 213.1L256.2 212.3L257.4 212.3L259.3 211.2L259.6 210.2L259.9 208.3L261.0 207.8L263.8 207.3L265.4 207.3L265.9 208.1L264.8 209.6L264.5 211.2L264.2 212.8L263.5 214.2L263.3 215.9L262.3 216.9L264.0 217.0L265.9 217.1L267.2 216.7L268.9 216.7L270.6 217.4L272.0 218.4L271.6 220.1L271.3 221.8L271.0 223.5L271.1 225.4L272.3 226.9L273.6 228.1L274.8 228.8L276.0 228.7L277.5 228.0L279.1 227.6L280.7 228.1L281.8 229.2L282.7 230.4L282.9 229.1L283.8 228.6L284.8 227.7L284.9 226.2L286.1 225.1L287.2 224.7L289.4 224.3L291.5 222.7L292.3 223.7L291.1 224.3L291.6 225.3L292.6 225.2L293.8 224.5L294.3 223.2L294.6 224.3L297.0 224.9L297.7 226.0L299.5 225.9L301.0 225.9L302.7 226.7L304.1 226.0L306.1 225.7L308.0 225.7L306.8 226.5L308.7 227.2L309.8 228.1L311.2 229.4L312.9 230.4L314.3 232.3L315.9 233.6L319.3 233.8L321.3 234.0L324.2 235.5L325.6 236.4L326.4 237.9L328.1 240.8L326.9 242.8L328.1 243.5L329.0 243.3L330.8 244.2L331.0 245.5L332.6 244.8L334.9 245.7L336.6 246.3L337.8 248.0L339.4 247.9L342.0 248.7L344.2 248.5L345.9 249.0L347.6 250.1L349.6 251.8L351.3 252.4L353.0 252.6L353.2 253.6L353.8 255.9L353.7 257.4L353.0 259.0L352.3 260.1L351.1 261.6L350.0 262.2L349.1 264.1L347.6 265.8L346.7 267.5L346.7 268.8L346.6 271.6L346.4 273.7L345.5 275.3L345.0 277.1L344.5 278.1L343.5 279.8L343.3 281.0L341.6 282.5L339.6 282.7L337.1 283.3L334.4 284.4L331.7 286.1L330.7 286.9L330.5 288.6L330.7 290.5L330.1 292.2L328.6 293.4L327.6 295.4L326.1 297.1L324.6 298.2L322.4 300.9L321.1 302.4L319.7 303.0L317.6 302.8L314.8 302.1L313.9 301.3L314.0 302.3L316.0 303.7L315.7 304.7L316.8 305.2L315.3 308.1L313.3 309.0L310.4 309.6L307.3 309.4L307.6 310.6L307.6 312.5L306.5 313.2L302.7 312.8L302.7 314.9L304.4 315.0L305.1 315.9L303.9 316.4L302.7 316.1L302.7 317.1L302.2 318.6L301.9 319.8L298.5 321.4L298.3 322.5L301.2 323.5L301.2 324.6L298.2 327.2L296.8 328.4L296.0 331.1L297.1 332.3L296.6 332.9L297.3 334.0L298.2 334.8L299.9 335.7L302.5 336.3L301.2 336.8L299.4 337.2L298.8 338.4L297.2 337.7L295.1 337.4L292.6 336.7L290.9 335.8L288.7 334.0L286.3 333.0L285.8 330.9L285.1 328.4L285.0 325.8L284.8 322.8L286.7 320.8L287.2 316.5L287.5 314.5L287.9 313.2L288.5 311.2L288.2 307.4L289.0 306.1L290.2 303.5L291.5 299.6L292.0 294.5L291.7 292.0L292.8 289.6L293.3 288.4L293.4 286.8L293.6 283.8L293.9 281.2L294.0 278.0L293.8 275.0L292.0 273.7L290.9 272.6L288.4 271.4L285.6 269.9L283.6 267.3L282.2 264.2L281.4 262.6L279.7 259.2L278.9 257.5L277.4 255.4L275.4 253.6L275.5 252.4L275.1 251.7L276.5 249.7L277.5 248.0L275.7 247.5L276.2 245.4L276.5 244.4L277.3 243.7L278.0 242.1L279.5 240.8L280.1 239.4L282.3 237.2L281.5 234.5L281.8 232.6L280.9 231.6L280.4 231.1L280.1 230.2L280.6 229.6L279.1 228.7L278.2 228.7L277.4 229.6L276.7 229.8L277.4 231.2L275.8 231.6L275.6 230.9L274.5 230.4L273.6 229.9L272.5 230.2L271.1 229.6L271.3 228.9L270.3 227.9L269.4 227.6L268.9 226.7L268.7 227.6L267.5 226.4L267.3 225.4L267.4 224.8L266.2 223.5L265.2 222.7L264.7 221.8L264.3 221.1L264.0 221.6L263.0 221.5L260.7 220.8L259.1 220.3L256.7 219.3L254.5 217.4L253.2 216.4L251.7 216.5L249.5 217.3L246.9 216.6L243.7 215.3L240.9 213.9L239.8 213.4L237.6 212.8L236.3 211.6L233.9 209.3L234.6 208.9L234.6 207.3L233.7 205.6L232.7 204.6L230.2 202.2L228.2 200.5L227.6 198.6L225.1 196.6L223.2 195.1L222.9 194.2L222.0 193.2L220.6 190.8L218.5 190.0L218.4 191.4L218.8 193.2L220.6 194.8L221.9 196.4L222.7 197.5L223.3 198.3L224.3 199.8L225.4 201.8L226.1 202.9L227.0 203.2L227.6 204.1L226.8 205.1L226.2 204.1L224.4 202.9L223.1 202.2L222.7 201.8L222.9 200.2L220.5 198.6L218.1 196.7L219.7 196.4L219.3 195.1L216.8 193.1L216.5 192.4L215.4 189.9L214.6 188.8L212.4 186.6L211.7 186.3L210.2 185.6L208.9 185.5L208.6 184.3L206.5 182.4L206.5 181.9L206.3 181.3L205.5 179.9L204.6 179.5L203.4 177.9L203.3 176.6L202.3 175.4L202.6 173.2L202.0 171.3L202.4 170.4L202.8 168.4L202.9 165.6L202.8 164.4L201.7 161.9L204.3 162.3L205.3 163.6L205.6 162.1L204.3 160.5L202.1 159.5L199.5 158.2L196.5 157.2L196.0 155.6L194.0 153.6L192.3 151.9L191.1 151.3L189.4 151.3L186.5 149.2L184.8 148.7L183.0 146.9L181.6 145.3L179.2 144.2L176.2 143.1L173.5 142.4L169.3 142.3L166.2 141.5L165.0 140.4L161.1 140.9L162.3 142.3L160.0 142.1L157.3 143.7L155.7 143.7L156.4 142.9L156.7 141.4L159.1 140.3L156.1 141.1L154.5 142.3L152.0 143.5L153.4 144.2L151.7 145.5L147.9 147.4L144.7 148.6L142.0 149.7L139.5 150.6L137.0 151.2L133.9 151.6L134.2 150.8L137.0 150.2L141.2 149.1L144.2 147.5L146.1 146.4L146.4 145.3L147.1 144.4L144.6 144.0L143.9 145.0L141.4 144.0L138.4 144.6L139.2 143.8L138.6 142.5L136.1 142.5L133.6 141.5L131.7 139.6L133.1 137.9L133.9 137.1L136.1 137.1L138.5 136.4L140.7 135.7L140.3 134.7L140.1 134.0L137.3 135.0L136.6 134.6L132.9 134.7L131.2 134.4L131.0 133.4ZM403.6 182.6L403.2 182.9L402.0 182.1L400.9 180.9L399.3 181.2L397.5 181.2L397.7 179.6L397.1 178.8L396.6 178.2L396.8 177.2L397.6 175.9L398.0 174.2L397.6 172.4L397.0 171.2L398.5 170.4L399.7 169.7L403.1 170.1L406.3 170.2L407.6 170.4L409.7 170.5L410.1 170.2L410.6 168.4L410.8 166.7L410.7 165.7L409.7 165.1L409.0 163.9L407.5 163.4L405.3 162.9L404.7 162.5L404.6 162.0L405.9 161.4L407.6 161.2L408.1 161.7L409.3 161.5L410.2 161.5L410.0 161.2L409.4 159.7L410.6 159.7L410.8 160.3L412.3 160.4L412.9 160.1L413.0 159.7L414.5 159.3L415.3 158.9L415.4 157.7L415.8 157.6L416.8 157.4L418.1 156.9L418.8 156.7L419.6 155.8L420.7 154.2L421.8 153.8L423.2 153.5L424.5 153.5L426.4 153.1L427.4 152.7L427.8 152.3L427.2 151.9L427.3 150.9L426.9 149.9L426.4 149.8L426.4 149.1L426.6 147.9L427.2 147.2L429.5 146.4L430.6 146.1L430.5 146.6L430.1 147.5L431.1 148.4L430.0 148.8L429.4 149.9L429.1 150.4L428.9 151.0L429.9 151.8L431.5 151.8L431.1 152.5L432.1 152.6L433.2 152.2L433.8 151.7L435.4 151.3L435.9 151.9L436.8 152.6L439.0 152.1L441.2 151.4L443.7 151.0L444.3 151.8L445.9 151.7L446.4 151.3L448.1 150.2L448.4 149.6L448.2 148.2L448.3 147.4L449.2 146.7L450.9 146.1L451.9 146.9L452.9 147.4L453.5 147.3L453.9 146.5L454.1 145.1L452.5 144.7L452.5 144.1L453.4 143.4L454.6 143.2L456.7 143.0L458.4 143.2L460.2 143.2L461.8 142.3L463.8 142.5L462.9 142.0L461.3 141.1L458.3 141.5L454.9 142.0L451.5 142.6L450.3 141.6L448.7 141.3L448.9 140.4L449.2 139.7L448.7 138.4L449.1 137.1L451.1 136.0L451.8 135.8L454.1 134.3L455.7 133.8L454.2 132.6L453.6 132.5L450.3 132.9L449.1 133.3L448.6 134.3L447.0 136.0L444.4 136.8L443.1 137.8L442.1 138.2L441.7 139.4L441.8 141.1L443.0 141.3L443.8 141.6L444.6 142.7L444.0 143.5L443.1 144.2L441.6 144.6L440.8 144.7L440.9 146.1L440.5 147.0L440.4 148.0L439.9 148.7L439.1 148.8L437.8 148.8L436.9 149.2L437.0 149.8L436.0 150.0L434.9 150.1L434.4 150.1L434.7 149.7L434.2 149.0L433.8 148.6L434.4 148.0L433.4 147.2L432.8 146.2L431.8 145.2L431.6 144.1L431.2 143.7L430.9 142.5L430.5 143.3L429.7 143.9L428.9 144.2L427.6 144.9L426.2 145.5L424.6 145.7L423.8 145.5L422.9 144.9L422.1 144.4L422.2 144.0L421.6 143.3L421.4 142.7L421.2 141.6L421.1 140.5L421.1 139.6L421.3 138.6L423.0 138.1L425.7 137.0L427.1 136.4L429.1 136.0L429.6 135.4L430.8 134.7L431.7 134.1L433.3 133.0L434.0 132.1L434.7 131.1L437.1 130.0L438.1 128.9L434.7 128.9L437.2 127.7L439.9 126.5L441.5 126.2L444.8 125.6L447.4 125.2L448.9 124.9L452.8 124.3L456.3 123.4L459.6 123.5L460.9 123.9L461.9 123.9L465.3 124.8L463.0 125.3L463.5 125.8L464.9 125.8L466.8 125.5L468.5 125.8L469.4 126.6L472.1 126.7L475.3 127.7L477.8 128.3L479.9 128.5L481.9 130.5L482.6 131.3L481.2 131.8L477.8 132.1L474.4 131.6L470.7 131.0L467.5 130.2L468.5 131.1L469.7 131.6L471.6 133.9L471.6 134.7L474.4 135.8L477.2 135.7L475.8 134.9L474.4 134.0L475.0 133.6L477.0 134.1L479.9 134.6L481.2 134.6L480.4 133.7L479.9 133.0L481.6 132.1L483.9 131.3L486.3 131.8L487.5 132.4L487.5 131.3L487.8 130.5L486.8 128.8L486.0 127.7L490.3 128.0L491.5 129.0L490.9 130.5L492.2 130.7L493.6 130.5L494.9 129.4L497.3 128.6L500.7 127.9L504.1 127.2L504.1 128.4L506.6 127.9L509.1 127.7L510.8 127.4L513.4 127.9L513.9 128.3L515.0 127.2L514.7 125.9L517.1 125.8L521.8 126.6L525.2 127.4L528.6 128.3L527.7 127.1L525.7 125.9L525.7 123.5L528.6 122.0L530.3 120.5L533.7 120.5L535.9 120.8L535.9 123.7L537.2 127.9L535.3 130.5L534.5 131.3L537.0 130.8L537.9 129.6L541.3 129.1L545.5 129.4L542.1 127.4L538.7 127.6L538.7 127.1L537.0 123.7L539.2 120.6L541.3 120.5L544.0 121.0L545.5 121.4L547.2 121.3L549.2 122.5L552.8 124.5L554.0 123.7L552.3 121.5L548.9 119.5L557.3 119.0L559.9 116.9L564.1 116.1L568.3 115.2L575.1 115.1L581.0 114.4L589.1 112.4L592.5 112.9L594.6 113.9L600.5 114.0L604.7 114.9L604.7 115.4L604.9 116.4L603.7 117.1L603.9 118.3L597.1 119.3L592.9 120.0L598.8 119.1L601.3 118.6L604.7 119.5L612.3 119.5L615.7 120.3L621.6 119.3L626.7 118.8L631.4 120.3L631.4 122.0L630.8 122.6L632.6 123.7L634.3 124.0L636.9 122.8L637.4 122.2L640.2 123.0L642.8 122.7L645.3 123.0L647.8 122.7L649.5 121.3L650.8 120.5L655.5 120.8L659.7 121.3L663.9 121.5L667.3 122.8L670.7 123.9L674.9 123.7L681.7 124.2L683.4 125.6L685.7 126.1L690.1 125.9L695.2 126.1L697.8 125.6L701.1 126.9L700.8 125.9L701.3 125.2L706.2 125.6L711.3 125.9L716.2 127.2L717.2 127.2L717.2 133.7L714.7 134.5L713.0 134.3L711.3 134.3L712.8 135.0L715.0 136.4L716.0 138.4L710.4 139.1L707.9 139.3L704.5 140.6L700.8 142.5L693.5 141.6L691.0 142.5L689.0 143.5L688.4 145.7L688.1 146.2L689.0 148.7L687.6 148.7L687.0 151.2L683.4 152.4L683.5 154.0L681.2 154.2L677.8 157.7L676.8 155.8L675.9 152.4L675.8 149.1L678.1 146.0L680.3 145.7L682.9 144.2L686.6 141.6L689.3 140.1L691.5 138.1L688.4 138.6L686.8 139.8L684.2 141.1L683.4 139.8L684.2 138.9L681.7 139.3L678.3 139.6L674.9 142.3L674.9 143.7L671.5 143.8L667.8 143.1L664.8 143.1L658.8 143.5L655.0 143.4L651.2 144.8L647.0 147.5L646.5 148.3L644.5 150.8L641.4 151.3L645.3 152.1L644.5 152.8L647.0 152.6L648.7 152.1L650.0 153.1L651.6 153.6L650.7 154.0L651.7 155.5L650.9 156.7L650.4 159.2L650.0 160.9L647.8 163.8L647.0 165.1L644.5 167.2L642.8 168.7L641.1 170.2L637.5 171.4L635.8 170.9L634.0 171.7L633.7 172.2L632.3 173.1L632.1 174.4L631.3 174.9L628.6 176.5L628.3 177.6L629.9 178.5L630.8 179.9L631.6 181.2L631.7 182.8L631.6 183.7L631.1 184.4L629.2 184.9L628.7 185.1L626.7 185.8L626.4 184.9L626.7 183.6L626.9 182.9L626.1 181.6L626.9 180.4L625.9 180.0L625.3 179.5L623.7 179.3L624.5 178.3L624.5 177.0L623.1 176.3L621.6 176.6L619.4 177.7L618.4 178.0L617.6 178.2L618.2 177.0L619.1 175.3L619.4 174.9L618.7 174.6L617.4 174.7L615.0 176.3L613.8 177.5L612.0 177.8L611.6 178.5L612.3 179.3L614.4 179.9L614.0 180.9L615.5 180.5L617.0 179.8L618.1 180.3L619.3 180.4L620.3 180.5L619.8 181.5L616.3 182.8L614.9 183.9L614.7 185.0L616.2 185.8L617.2 188.0L618.9 190.2L618.9 191.5L617.4 192.0L617.1 192.5L618.4 193.0L618.9 193.2L619.1 193.9L618.6 195.6L617.4 196.5L616.2 198.1L615.5 199.0L615.2 199.8L614.2 201.2L613.5 201.8L612.5 202.4L611.1 203.7L610.1 204.4L608.1 205.4L605.9 206.1L604.9 205.6L604.8 206.3L602.2 207.1L599.6 207.9L599.6 209.3L598.6 209.5L598.4 207.8L597.3 207.5L596.1 207.3L595.4 207.4L593.4 208.7L593.0 209.6L591.7 211.0L591.6 212.2L592.9 213.7L594.8 215.9L595.8 216.6L596.9 218.3L597.5 220.5L597.9 222.0L597.4 223.1L597.1 224.3L595.6 225.4L593.9 226.3L592.7 227.7L591.2 228.6L589.9 229.3L590.1 227.2L590.5 226.9L589.5 226.2L587.8 225.9L586.9 224.5L586.2 223.2L585.3 222.7L584.1 222.4L583.4 222.4L583.5 221.1L582.9 221.0L581.9 221.2L581.8 222.6L581.5 223.8L580.6 226.0L580.5 228.1L581.7 228.1L582.4 229.6L582.9 231.6L584.1 232.1L585.0 233.0L585.7 233.3L587.2 234.7L587.6 237.4L587.7 239.1L588.4 239.7L589.1 241.4L588.4 241.7L587.8 241.7L586.8 240.8L585.7 240.1L584.9 239.6L584.2 238.7L583.2 237.2L582.9 236.7L582.5 234.7L582.4 233.5L582.0 232.7L581.0 231.5L580.0 230.2L579.0 229.9L578.9 228.8L579.5 227.0L579.3 224.3L579.5 222.7L578.7 220.1L578.1 218.0L577.8 215.9L576.6 214.7L575.4 215.7L574.1 217.2L572.7 217.0L572.1 216.7L572.4 214.2L572.2 212.6L571.6 211.2L569.9 209.7L568.3 207.5L568.0 206.1L566.6 205.6L566.0 206.1L565.5 206.8L564.1 207.0L562.8 207.3L561.7 207.2L560.7 207.3L559.9 207.6L559.7 208.7L559.4 209.5L557.9 210.3L556.3 211.2L553.6 213.9L551.9 215.1L551.9 215.7L550.1 216.5L549.6 217.2L548.2 217.6L548.3 219.4L548.5 221.6L547.8 223.6L547.8 226.4L546.9 226.4L546.3 227.7L545.0 228.7L543.9 230.1L542.8 229.4L541.7 227.0L540.8 224.8L539.2 222.0L538.4 219.6L537.5 217.7L536.7 215.0L535.9 211.7L535.7 210.0L535.9 209.3L535.7 208.1L535.3 206.2L534.8 207.0L533.7 208.4L532.8 208.8L531.7 208.4L530.4 207.2L529.3 206.2L530.6 205.8L531.8 205.0L530.0 205.2L528.1 203.7L526.7 203.2L526.0 201.8L525.2 200.8L522.0 201.2L520.1 201.1L518.1 201.3L517.1 201.4L515.2 201.0L512.5 200.8L510.5 200.4L509.1 198.8L507.9 197.9L506.6 198.5L505.6 198.9L503.2 198.6L501.7 197.4L500.8 196.7L498.7 194.8L497.6 193.0L496.4 192.9L494.9 193.1L493.7 194.1L494.6 195.4L494.7 195.8L496.7 198.1L497.5 199.1L497.6 200.5L498.7 201.9L498.6 200.7L499.4 199.6L500.0 201.0L499.9 202.1L499.5 202.3L500.0 203.0L501.9 202.9L504.6 202.4L506.3 201.1L507.4 200.2L508.2 199.3L507.9 200.5L508.0 201.3L508.7 202.6L511.8 203.9L513.9 205.7L513.0 207.6L511.7 209.3L510.3 210.6L510.5 211.7L509.1 212.0L508.3 213.3L506.3 214.2L504.2 215.0L502.5 215.6L501.0 216.4L499.0 218.1L497.3 218.7L495.8 219.3L493.9 220.1L492.2 220.8L490.5 221.1L488.8 222.1L486.2 222.4L485.9 221.3L485.4 218.8L484.9 217.2L484.7 215.2L482.9 212.8L482.1 211.5L480.9 209.7L478.9 207.4L478.7 205.2L477.1 203.0L475.6 201.5L474.4 199.4L473.1 197.5L471.9 196.3L471.2 196.4L471.9 193.9L471.1 195.6L470.6 196.9L469.5 196.0L468.7 194.7L467.8 193.1L467.3 190.9L469.9 191.1L471.0 190.5L471.5 189.6L471.9 188.3L472.8 186.5L473.3 185.5L473.2 183.7L473.4 182.9L473.9 181.9L472.9 181.9L471.2 181.6L470.1 182.5L468.3 182.8L466.8 182.0L464.6 181.5L464.4 182.4L462.9 182.6L461.9 181.9L460.6 181.5L459.1 181.7L459.1 181.2L458.8 179.8L457.2 179.0L458.0 178.4L457.9 177.3L456.8 177.0L457.0 176.1L457.9 175.5L458.9 175.5L459.9 175.3L460.1 175.5L461.6 175.5L462.0 175.4L462.3 175.0L463.3 174.9L461.8 174.5L461.9 174.1L462.8 174.1L466.5 173.7L468.5 172.8L469.8 172.8L472.2 172.7L474.2 173.9L476.8 174.4L479.9 174.4L482.7 173.8L483.1 173.3L483.2 172.5L482.1 171.1L479.9 170.0L478.8 169.2L476.6 168.2L475.8 167.8L474.6 167.3L474.8 167.0L476.3 166.6L477.2 165.9L477.5 164.8L479.2 164.1L478.5 164.0L476.2 164.2L475.0 164.7L472.4 165.5L471.6 165.7L472.6 167.2L474.4 167.1L474.3 167.6L472.6 167.6L471.9 167.9L470.5 168.5L469.8 168.7L469.3 168.4L469.1 167.3L467.7 167.1L469.7 165.7L468.4 165.8L466.3 165.5L466.1 165.0L464.7 165.2L464.2 165.9L462.9 167.3L461.8 168.2L461.2 169.1L461.1 169.7L460.8 170.4L460.0 170.7L459.2 171.9L460.1 173.0L460.2 173.4L461.8 174.0L461.7 174.4L460.5 174.3L459.2 174.5L458.5 175.1L457.8 175.5L457.0 176.0L458.0 175.1L456.8 174.9L456.5 174.7L455.2 174.5L454.0 174.6L453.0 174.9L453.9 175.9L453.2 175.5L453.3 176.2L452.8 175.7L452.3 176.2L452.2 175.8L451.4 175.1L450.9 175.7L451.4 176.8L451.9 177.7L451.5 177.2L451.4 177.8L452.1 178.4L453.4 179.3L453.4 180.1L452.6 179.6L451.6 179.7L452.5 180.4L451.9 180.7L451.3 180.3L451.4 181.2L451.9 182.1L451.2 181.5L450.7 182.2L450.1 181.2L449.7 181.7L449.3 181.4L449.3 180.8L448.7 180.1L448.4 179.6L449.4 179.1L448.9 178.9L448.3 178.6L447.7 178.1L447.8 177.9L447.2 177.4L447.0 177.0L446.5 176.4L445.6 175.4L445.6 173.9L445.4 173.0L445.0 172.6L444.1 172.1L443.3 171.6L442.2 171.0L440.5 170.2L439.6 169.8L438.4 169.2L437.9 167.8L437.1 167.1L436.1 167.9L435.5 166.8L436.0 166.6L435.6 166.3L433.7 166.9L433.8 167.8L433.5 168.6L434.0 169.3L435.5 170.0L436.7 172.0L438.1 172.7L440.1 172.9L439.6 173.4L441.2 174.2L443.1 175.0L444.0 175.9L443.7 176.5L443.2 176.0L441.8 175.4L440.8 176.5L441.7 177.7L440.7 178.2L440.8 178.8L439.9 179.6L439.2 179.3L439.6 178.8L440.1 178.2L439.8 177.2L439.3 176.1L438.5 176.1L437.7 175.0L437.0 175.1L436.8 174.7L435.7 174.1L434.1 173.7L433.4 173.2L432.7 172.6L431.5 172.1L430.5 171.2L430.1 170.1L429.4 169.3L427.8 168.7L427.0 168.9L426.2 169.6L425.0 169.9L423.9 170.6L422.8 170.9L421.8 170.5L420.3 170.4L419.0 170.4L417.9 171.2L417.9 171.7L418.3 172.2L418.1 172.9L416.4 173.8L414.8 174.3L414.1 174.9L412.7 176.2L412.2 177.1L413.0 178.2L411.9 178.9L411.5 180.1L411.0 180.2L410.0 180.5L409.0 181.7L408.6 181.5L406.8 181.7L405.3 181.7L404.4 182.1ZM467.8 193.1L467.4 193.7L467.9 194.6L468.7 195.8L470.0 197.7L470.1 198.5L470.7 199.6L471.7 201.4L472.8 203.2L473.3 204.9L474.7 206.2L475.6 208.3L475.7 210.6L475.9 211.5L476.6 212.6L478.0 213.3L478.7 215.4L479.4 217.4L480.7 218.4L482.4 219.9L483.8 220.8L485.0 221.8L486.0 222.7L486.0 223.6L484.8 224.2L485.7 224.2L486.3 224.6L487.5 225.9L488.8 226.1L492.2 225.0L494.2 224.9L495.9 224.7L498.1 223.9L499.5 223.8L499.7 226.1L498.8 227.7L497.0 230.4L496.1 232.3L494.8 234.7L493.1 237.0L491.4 238.7L489.4 240.4L487.1 241.9L484.7 244.4L483.1 246.6L481.9 247.7L480.6 249.2L479.9 250.7L478.9 252.3L478.3 254.0L479.2 255.3L479.4 257.0L479.6 258.9L479.9 260.7L480.8 261.2L481.4 261.9L481.3 265.7L481.5 267.8L481.6 269.3L480.3 271.2L477.3 273.1L475.2 274.3L474.1 275.7L471.7 277.4L471.5 278.6L472.2 280.2L472.5 281.0L472.8 284.1L472.8 284.6L471.1 285.8L469.7 286.3L467.8 287.7L468.4 289.2L467.8 291.8L467.0 292.5L465.2 294.3L464.2 295.8L462.7 297.3L459.9 299.7L458.2 300.6L456.2 301.4L454.7 301.7L452.3 301.5L450.2 301.6L446.5 302.7L445.3 302.4L444.6 302.0L443.9 301.5L444.0 301.9L443.8 301.1L443.0 299.6L443.7 298.1L443.0 296.6L441.2 293.3L440.5 292.2L438.3 288.9L438.0 286.9L437.2 284.4L437.2 282.6L436.3 280.6L435.4 278.5L434.2 275.9L433.0 275.0L432.6 273.0L432.7 271.7L433.3 269.5L433.8 267.3L435.6 264.7L436.0 262.7L436.0 262.0L435.0 258.7L435.3 257.3L434.4 256.1L433.6 254.1L433.3 253.2L432.7 251.9L431.5 250.5L430.7 249.6L428.9 247.9L427.4 244.9L428.4 244.3L428.7 243.1L428.9 242.1L429.2 240.7L429.4 238.8L428.9 237.2L427.8 236.9L426.7 236.1L424.8 236.4L423.0 236.5L421.8 234.7L420.5 233.5L418.5 233.0L416.8 233.1L414.7 233.4L414.4 234.0L412.4 234.4L410.6 235.2L409.1 235.8L407.5 235.2L405.9 234.9L402.4 235.4L401.5 235.8L399.6 236.4L397.4 235.3L395.7 233.9L394.4 233.1L393.5 232.4L390.9 231.0L390.3 229.5L390.2 228.1L389.5 227.7L388.0 225.9L387.2 225.2L386.1 224.2L384.4 222.9L384.6 221.0L384.4 220.3L383.9 219.4L383.0 218.8L383.8 218.3L384.8 216.7L385.1 215.0L385.6 213.2L384.8 211.0L385.1 209.6L383.9 208.6L384.1 207.1L385.6 203.7L387.0 201.7L388.2 199.6L389.9 198.0L390.8 196.5L393.9 195.2L395.4 194.1L396.4 192.4L396.0 191.9L396.1 190.5L397.1 189.2L398.3 187.6L399.8 187.0L401.1 186.2L402.3 184.3L402.7 183.3L403.7 183.1L403.7 183.6L406.1 184.2L407.7 184.1L409.0 184.4L411.6 183.4L412.9 183.0L414.9 182.1L417.9 181.5L419.3 181.3L421.3 181.6L424.4 181.4L425.8 181.4L427.5 181.3L429.4 180.6L430.1 181.5L431.4 181.1L430.6 182.2L430.7 183.2L431.4 183.7L430.9 185.0L429.8 186.5L431.5 187.1L432.2 187.7L435.0 188.1L438.2 189.0L438.8 190.3L440.8 191.0L443.5 191.9L445.0 192.6L446.5 191.7L446.6 189.5L448.1 188.5L449.8 188.1L451.0 188.4L451.8 189.0L453.2 189.5L455.2 190.3L458.8 190.8L461.7 191.6L463.3 191.0L464.1 190.6L465.1 190.3L466.5 190.5L467.3 190.9ZM338.4 142.6L334.9 141.1L331.5 140.6L328.6 138.9L327.3 137.2L325.2 135.2L323.2 133.2L321.9 130.5L323.0 128.8L323.2 127.6L326.3 126.7L322.2 126.6L319.8 126.1L320.5 124.9L320.3 124.2L324.7 124.2L322.2 123.2L318.3 122.7L319.7 121.7L317.8 120.6L315.4 118.6L313.7 116.9L311.2 115.4L306.1 115.1L300.2 115.4L296.3 114.4L292.1 113.5L295.5 112.7L289.0 111.5L290.1 110.7L296.0 110.0L302.7 109.0L301.0 108.3L298.5 107.6L304.4 106.4L307.8 105.8L309.5 105.1L319.7 104.6L328.1 104.2L336.6 103.7L345.0 102.9L356.2 102.3L367.0 102.7L372.1 103.6L377.2 104.2L370.4 104.9L375.5 105.4L383.9 105.4L392.1 105.8L391.6 106.8L385.6 108.1L383.1 109.3L380.6 110.5L382.2 112.5L381.4 113.9L378.9 115.4L379.7 116.6L378.0 118.1L375.8 119.8L375.0 121.7L376.3 123.7L375.5 124.6L371.3 123.9L367.9 124.7L375.0 125.1L370.4 126.7L366.2 127.9L361.9 128.6L358.1 128.9L355.2 131.0L352.6 131.8L349.1 132.8L345.9 133.3L344.7 134.7L344.0 136.4L342.5 138.1L341.1 139.8L340.0 141.5ZM280.6 134.3L282.4 133.2L287.5 133.0L288.4 131.3L290.1 129.6L285.8 128.3L282.4 126.7L279.1 125.6L274.8 125.6L269.2 125.6L267.2 124.9L263.0 124.5L260.8 123.2L261.3 121.2L260.4 119.0L267.2 119.0L269.4 119.6L270.6 122.0L272.3 120.3L274.8 119.1L279.9 119.1L284.1 120.3L286.7 121.8L292.6 123.5L296.8 124.7L298.8 126.6L298.5 127.7L304.4 129.4L309.0 131.1L307.8 132.1L304.9 133.9L301.9 132.3L298.8 131.6L300.2 133.8L303.4 137.2L300.2 136.9L296.8 136.0L299.7 137.9L302.7 139.1L297.7 138.6L294.5 137.5L290.9 135.9L286.7 134.9L283.3 135.2ZM214.8 127.1L218.2 127.7L220.7 127.9L226.6 127.7L230.8 127.2L235.1 126.9L240.7 127.4L242.2 125.9L241.0 125.0L237.6 124.4L241.8 122.8L239.3 120.8L235.1 120.3L230.8 119.8L229.2 121.2L225.8 120.3L219.8 119.8L213.9 120.6L211.4 122.7L213.9 123.2L212.6 124.4L213.9 124.4L222.4 124.7L214.3 125.4L215.1 126.4ZM199.7 122.1L205.1 123.5L208.0 122.8L212.2 121.0L217.6 119.5L213.9 118.2L207.2 117.8L202.1 118.0L201.7 119.8L200.4 121.2ZM214.8 116.1L220.7 117.8L226.6 117.3L233.4 116.9L234.2 115.6L228.3 113.9L221.5 114.9L214.8 114.9ZM239.3 122.8L246.1 123.2L249.5 120.8L247.8 118.8L242.7 118.6L239.3 120.3ZM251.1 121.8L255.4 122.0L259.6 120.8L260.1 118.8L255.4 118.4L251.1 119.1ZM257.1 117.6L268.9 117.8L277.4 117.6L278.2 116.1L274.8 115.4L267.2 115.9L261.3 115.9L262.1 114.9L257.1 113.7L249.5 113.7L251.1 114.7L257.1 114.7L256.2 116.1ZM275.7 115.0L268.9 114.6L261.3 114.5L261.0 113.2L265.5 112.5L263.0 111.5L267.2 110.2L267.4 108.5L265.5 107.4L259.6 106.3L257.9 105.8L267.2 104.6L277.4 103.6L294.1 103.2L307.3 104.2L309.3 104.6L305.3 105.8L301.0 106.8L296.8 108.0L292.6 109.0L288.4 109.5L285.8 110.0L287.0 110.7L285.8 111.3L283.3 112.0L280.7 113.2L279.9 114.2ZM251.1 109.3L258.8 111.5L264.7 111.0L263.0 109.3L264.7 107.8L258.8 106.3L252.0 106.8L250.3 108.1ZM236.8 116.2L243.5 116.9L247.4 116.1L246.1 114.2L241.0 114.0L236.8 114.9ZM204.6 114.9L212.2 115.7L217.3 114.4L214.8 112.7L208.0 113.2ZM233.4 111.8L240.1 112.4L245.2 111.5L243.5 110.2L236.8 109.6L233.4 110.5ZM243.5 127.1L247.8 127.9L251.5 127.2L250.6 126.1L246.9 125.6L244.4 126.2ZM265.0 136.4L268.1 137.1L272.3 136.0L276.5 136.4L277.0 134.7L274.8 135.4L271.4 133.7L269.8 133.2L268.9 132.3L266.4 133.0L267.2 135.0ZM318.8 156.5L318.6 158.0L317.1 159.2L318.8 160.1L322.2 160.5L322.9 161.4L321.7 162.9L323.4 162.9L323.6 163.4L322.9 164.9L321.9 164.3L321.0 164.6L321.3 162.9L318.1 164.5L319.3 163.1L318.0 163.4L315.3 163.3L312.4 163.3L312.2 162.8L313.9 161.8L312.6 161.7L314.1 160.6L314.6 160.0L315.8 158.0L316.7 157.0L318.1 156.5ZM269.0 206.8L270.6 205.4L272.0 205.0L273.4 204.6L274.7 204.8L275.4 204.6L277.4 205.0L278.3 205.7L280.1 205.7L282.1 207.2L284.0 208.0L284.8 208.4L286.0 208.8L286.7 209.4L287.3 209.5L285.6 210.1L284.4 210.1L281.2 210.2L282.3 209.4L281.4 208.8L280.7 208.8L279.3 207.3L277.4 207.0L276.6 206.5L275.4 206.2L274.1 206.2L273.5 205.4L271.6 206.3L270.6 206.6L269.8 207.0ZM288.5 210.3L290.6 210.4L291.5 210.2L293.1 210.3L294.5 210.5L295.7 211.2L295.0 211.5L296.5 211.7L297.1 212.3L296.6 213.0L296.1 212.7L294.5 212.6L293.4 213.0L292.4 213.0L291.9 214.0L291.3 213.3L290.0 213.0L287.9 213.0L286.8 212.8L286.8 212.3L287.3 212.2L289.2 212.6L290.3 212.4L289.7 211.5L289.7 210.9L288.5 210.6ZM280.2 212.9L280.9 212.5L282.6 212.7L283.8 213.1L283.8 213.5L282.8 213.4L282.1 213.8L281.1 213.6ZM195.5 157.9L197.0 157.8L200.7 159.0L202.9 160.6L204.1 161.9L201.7 161.7L199.7 160.7L197.9 159.6L196.3 159.0ZM148.7 210.4L149.0 209.5L150.8 210.8L149.4 211.8ZM374.3 135.9L375.5 135.3L372.0 134.1L375.8 133.1L371.3 133.0L373.5 131.6L374.8 131.4L376.7 132.8L378.7 132.0L380.7 131.8L383.9 131.8L385.3 131.3L388.1 131.5L387.7 132.6L389.9 133.7L388.5 134.4L387.0 135.1L384.5 135.9L380.6 136.5L378.4 136.3L376.5 135.8ZM403.1 159.1L403.9 159.3L405.7 158.6L406.5 158.8L406.9 158.2L408.6 158.3L411.3 158.0L413.1 158.0L414.3 157.7L415.0 157.3L415.2 156.9L413.9 156.8L414.3 156.3L414.9 155.9L415.7 155.0L414.9 154.3L413.5 154.2L413.0 154.5L413.3 153.9L412.9 153.2L412.6 152.2L411.7 151.6L410.8 151.3L410.3 150.8L409.3 149.5L409.1 149.2L407.3 149.1L406.4 149.0L408.3 148.6L407.6 148.3L408.4 148.1L409.2 147.1L409.7 146.5L409.3 146.2L407.1 146.2L405.6 146.5L406.3 145.9L406.5 145.5L407.5 144.9L407.6 144.6L405.9 144.7L404.2 144.6L403.6 145.3L402.9 145.9L402.8 146.7L401.7 146.5L402.2 147.2L402.8 147.4L402.2 147.8L403.4 148.4L402.2 148.6L403.2 148.9L402.9 150.2L403.6 149.5L404.6 149.1L404.8 150.0L404.0 150.8L404.5 151.4L405.3 151.1L407.5 150.8L406.6 151.6L407.2 152.3L407.9 152.3L407.5 152.8L407.5 153.4L407.1 153.5L406.2 153.6L405.3 153.4L404.8 153.6L405.4 154.0L404.7 154.5L405.8 154.3L405.8 155.2L404.7 155.7L404.1 155.8L403.7 156.0L404.1 156.4L404.7 156.4L405.9 156.6L407.4 156.8L408.3 156.5L407.6 157.0L406.8 157.2L405.8 157.2L405.0 157.5L404.3 158.3L403.4 158.8ZM400.2 150.1L402.3 150.4L402.9 151.0L403.5 151.8L402.0 152.4L402.4 153.5L402.5 154.2L402.0 155.5L401.0 155.6L398.8 156.2L396.1 156.8L395.4 156.5L395.1 156.0L395.0 155.7L395.9 155.1L395.9 154.9L397.5 153.9L395.4 153.5L395.6 152.4L395.8 151.9L398.2 151.9L398.8 151.4L397.8 151.3L398.7 150.5ZM433.8 179.5L435.3 179.3L439.1 179.1L438.2 180.4L438.3 181.8L436.8 181.1L435.6 180.7L433.7 179.9ZM426.5 174.5L428.3 174.0L429.3 175.3L429.0 177.5L427.9 178.0L426.9 177.8L426.9 176.1ZM440.6 114.3L436.4 112.7L435.5 112.5L435.7 111.7L431.3 111.0L431.0 109.6L430.8 109.0L436.4 108.8L440.3 108.4L443.2 109.3L444.8 110.2L449.1 110.8L444.7 111.0L444.7 112.7L442.0 113.7ZM443.2 108.3L447.4 107.8L453.3 108.0L458.7 108.3L457.5 109.5L452.5 109.8L447.4 109.5L443.2 109.0ZM505.7 124.4L503.2 123.9L500.7 123.2L499.8 122.3L501.5 120.6L503.2 118.6L506.6 116.8L510.0 115.9L515.0 115.1L522.7 113.7L529.3 113.6L528.6 114.6L524.4 115.6L519.3 116.6L515.0 117.8L512.5 118.6L510.0 119.8L508.3 121.2L507.1 122.8L510.1 124.2ZM572.6 109.8L577.6 110.5L581.9 110.2L581.9 108.8L578.5 108.1L573.4 108.5ZM581.0 111.3L586.1 112.0L591.2 111.2L589.5 109.8L584.4 109.6ZM644.5 116.4L648.7 117.4L654.6 116.9L659.7 116.6L658.0 115.7L651.2 114.9L647.0 115.2ZM108.2 127.2L111.6 128.1L115.3 129.0L117.5 130.5L120.0 130.4L122.2 130.5L125.4 131.9L125.7 132.1L123.4 132.8L120.9 133.0L121.3 134.9L119.7 134.9L117.5 134.3L115.0 134.2L111.6 133.0L109.7 131.6L109.0 133.0L108.2 133.7ZM654.1 151.8L654.6 153.1L655.0 154.1L655.1 155.8L655.6 158.4L656.1 159.2L656.6 160.6L657.5 161.5L654.8 160.6L654.3 161.6L653.9 163.3L654.6 164.5L655.3 166.0L654.3 165.0L653.1 166.2L652.7 164.9L653.0 164.2L653.1 163.0L653.0 160.8L653.2 159.2L653.2 157.7L652.6 156.3L652.7 155.5L652.8 153.6L653.4 153.1L653.4 151.9ZM649.9 173.8L649.7 173.0L649.3 172.0L650.1 170.5L651.8 170.6L652.3 169.4L652.5 167.8L652.8 166.8L653.9 167.8L655.2 168.8L656.7 169.3L658.6 168.8L658.3 170.0L659.3 170.4L657.7 171.1L657.0 171.1L655.1 172.2L655.0 172.9L654.2 172.5L652.2 171.7L651.2 172.2L650.2 171.9L650.6 172.6L651.6 173.1L650.8 173.2ZM634.1 186.4L635.0 185.6L636.1 184.8L637.9 183.6L639.7 183.7L641.4 183.3L642.9 183.5L642.7 183.0L643.8 181.9L645.0 180.4L644.5 181.5L644.8 181.6L646.6 181.0L647.8 179.6L648.6 179.1L649.2 178.0L649.0 176.2L649.5 175.8L649.3 175.1L650.1 174.0L650.8 174.7L651.1 173.5L652.0 173.7L652.1 175.2L652.8 176.7L652.8 177.4L652.2 178.0L652.2 179.0L651.2 179.1L651.1 179.9L651.1 181.3L650.6 182.4L651.0 183.4L650.0 184.3L649.3 184.8L649.7 183.6L649.2 183.6L649.0 184.2L648.1 184.2L647.8 185.2L647.6 184.4L646.8 184.7L646.5 185.3L645.6 185.2L644.5 185.3L644.2 184.5L643.7 185.1L644.3 185.9L643.1 186.2L642.3 187.2L641.7 186.8L641.2 185.9L641.8 185.2L641.1 185.2L640.5 185.0L639.3 185.4L638.4 185.5L636.8 185.7L636.2 186.4L635.2 186.3L634.7 186.4ZM634.2 186.4L635.5 187.0L635.8 187.6L635.5 188.7L635.1 189.8L634.9 190.7L634.5 190.6L633.7 191.4L633.1 190.9L633.0 189.9L632.6 189.3L632.2 188.7L632.4 188.4L631.9 187.4L632.5 187.1L633.3 186.9L634.1 186.4ZM636.0 187.4L637.2 186.5L637.7 186.1L639.5 185.7L640.5 185.9L640.7 186.6L639.7 187.6L638.6 187.1L637.7 188.4L637.1 188.1L636.9 187.6ZM618.2 201.0L619.1 201.5L618.4 203.2L617.6 205.3L617.1 206.8L616.2 205.6L615.9 204.9L616.0 203.5L616.5 202.7L617.2 201.8ZM600.0 209.8L600.5 210.6L599.6 212.0L597.9 213.0L596.6 212.5L596.5 211.2L597.6 210.1L598.8 209.9ZM548.4 227.2L550.2 229.3L550.9 230.8L551.2 232.0L549.9 233.5L549.1 233.8L548.4 233.6L547.8 232.1L547.7 230.3L547.9 228.7L548.0 227.4ZM616.7 212.5L618.5 212.8L619.3 212.5L619.9 214.9L618.4 217.2L618.5 218.8L619.4 219.9L620.7 219.9L622.3 220.5L622.0 221.6L622.6 222.6L622.3 222.4L620.8 221.0L620.3 220.5L620.1 221.6L618.4 220.3L617.5 220.6L616.7 220.0L617.2 219.4L617.3 219.1L616.5 219.4L616.1 218.8L615.6 217.8L615.5 216.1L616.0 216.6L616.2 215.7L616.4 214.1L616.6 213.0ZM619.2 232.1L619.1 231.1L619.6 230.3L621.4 229.3L622.2 230.0L622.9 229.8L623.6 229.4L624.2 228.6L625.0 228.6L625.0 227.2L626.2 228.4L626.4 229.9L626.9 231.5L626.2 232.0L626.2 233.1L625.3 231.9L624.8 232.4L625.3 234.3L624.4 233.5L622.6 233.1L622.8 231.6L621.5 230.6L620.8 231.1L620.1 231.1ZM623.0 222.6L624.7 222.6L625.4 225.2L624.5 226.4L624.1 226.9L623.7 226.5L623.1 225.4L623.3 224.3ZM618.9 223.7L620.9 224.2L621.6 225.4L622.5 224.9L621.8 227.1L620.8 228.5L619.8 227.4L620.1 225.9L619.1 226.0L618.9 225.2ZM611.0 229.6L611.5 229.4L614.5 226.4L615.0 224.7L614.5 224.5L613.5 225.9L611.0 228.7ZM616.2 221.1L617.7 221.0L618.2 222.5L617.7 223.2L617.1 222.3ZM573.9 234.4L577.0 235.0L578.5 236.2L579.7 237.4L581.5 238.8L582.5 240.1L584.3 240.9L585.6 242.1L586.9 242.8L588.2 244.0L587.8 245.3L589.2 245.5L589.7 247.0L590.2 247.7L591.3 247.9L592.1 249.4L591.8 250.9L591.9 252.3L591.7 253.7L590.8 253.1L589.6 253.8L588.3 252.4L585.7 250.2L583.6 247.9L582.5 245.4L580.8 243.5L579.8 240.8L578.1 239.9L577.1 238.3L575.3 236.8L574.1 235.3ZM590.7 255.2L592.0 253.8L593.5 254.1L595.2 254.4L596.4 255.1L597.3 255.4L599.5 255.6L600.3 254.6L601.2 255.1L602.3 255.5L603.4 256.0L604.2 256.9L605.6 256.8L606.2 257.7L606.2 258.4L603.9 257.9L600.5 257.8L598.8 257.2L597.1 256.9L596.5 256.8L594.6 256.8L593.0 255.6ZM598.2 240.3L599.4 240.9L601.0 239.7L601.2 239.1L603.9 238.4L605.6 236.4L607.2 235.3L609.0 233.7L610.4 232.1L611.8 233.0L612.5 233.9L614.4 235.0L612.8 235.3L613.3 236.3L612.2 236.6L611.6 238.2L612.2 239.9L612.3 240.8L614.0 242.1L612.3 242.4L611.5 243.6L611.6 244.8L610.4 245.9L609.8 247.5L609.4 248.7L609.3 249.7L606.7 250.8L606.4 249.6L604.4 249.2L601.8 249.7L601.7 248.7L600.3 248.7L598.8 246.9L598.6 245.8L597.3 244.0L597.0 242.3L597.1 241.3ZM614.7 252.5L615.0 250.6L613.9 249.8L613.8 248.4L614.5 247.0L615.3 245.0L615.4 243.5L617.1 242.0L617.9 241.9L620.6 242.3L622.5 242.1L623.3 241.8L623.9 241.3L624.5 241.0L624.5 241.4L623.0 243.1L620.9 243.0L618.2 243.0L616.0 243.0L615.9 244.1L616.0 245.2L617.0 246.2L618.4 245.2L620.4 245.3L621.5 245.2L620.6 246.3L619.4 246.7L618.1 247.2L618.9 248.5L620.1 250.5L620.3 251.6L619.4 251.9L618.4 251.8L618.4 250.7L617.4 248.4L616.0 248.9L616.4 250.6L616.4 251.5L616.5 253.3L615.5 253.3L614.9 253.3ZM610.3 258.0L612.3 257.5L614.2 257.8L614.0 258.6L610.6 259.1ZM615.4 258.0L617.4 257.8L620.6 257.5L620.8 258.0L618.2 258.9L615.5 258.7ZM614.0 259.9L616.0 259.6L617.1 260.7L615.7 261.2ZM621.6 261.3L622.6 259.7L624.3 258.4L627.5 257.9L628.1 258.1L626.7 259.0L624.2 260.5L622.5 261.2ZM628.2 242.1L629.1 240.1L629.2 241.8L630.8 241.3L629.7 242.8L630.4 243.5L629.1 243.8L629.9 245.2L628.7 244.3ZM629.1 249.2L631.8 248.5L634.1 249.6L632.6 249.9L629.6 249.7ZM634.7 245.2L636.9 244.5L639.6 245.2L639.6 246.3L640.4 249.4L641.9 249.5L643.3 247.7L644.5 247.0L647.4 246.9L650.7 248.1L651.7 248.4L653.5 249.1L655.7 249.8L657.2 250.3L659.3 252.6L660.5 253.3L662.8 255.0L661.4 255.2L661.7 256.3L662.4 256.9L663.4 258.2L663.9 258.9L665.3 259.0L665.3 259.9L666.5 260.7L667.9 261.1L666.8 261.8L664.8 261.2L662.9 260.9L661.6 259.9L660.5 258.7L659.3 257.2L657.2 256.7L655.8 257.3L655.1 258.3L655.0 259.1L653.3 259.4L651.2 259.2L650.1 258.2L647.8 257.7L645.6 258.0L646.3 256.1L647.6 255.6L647.2 255.3L646.7 254.0L646.3 253.2L644.5 252.1L642.8 251.6L641.1 251.2L638.9 250.0L637.4 250.6L636.5 248.8L638.5 247.9L636.3 247.5L634.8 246.3ZM663.6 253.3L665.6 253.1L667.3 253.1L669.0 250.9L670.3 250.9L669.8 252.8L667.8 254.1L665.6 254.5ZM690.1 277.8L692.7 279.3L695.2 281.5L694.2 281.5L691.5 279.8ZM712.6 273.7L713.8 273.2L715.0 274.1L713.7 274.8ZM653.8 261.9L655.0 264.0L655.5 265.8L656.1 268.2L657.2 267.8L658.4 269.9L659.3 272.4L659.9 273.4L661.0 276.4L663.5 277.6L665.1 279.6L667.3 281.5L667.8 282.9L668.7 284.1L670.5 285.7L671.9 285.6L671.8 287.4L671.7 288.5L672.4 290.2L672.3 291.2L672.6 292.3L671.8 295.1L671.4 297.0L669.5 299.5L668.7 301.1L668.0 302.1L667.8 303.2L666.8 304.2L666.4 307.2L663.1 307.9L661.4 308.8L660.4 310.0L658.8 309.2L657.4 308.6L657.8 307.8L657.0 308.3L655.5 309.5L652.2 308.7L650.6 308.2L649.3 306.1L647.7 303.9L646.3 304.0L647.0 302.8L646.3 301.7L645.7 303.2L644.3 303.5L645.1 302.2L645.5 301.1L646.2 299.9L645.8 298.8L645.5 299.7L644.4 300.8L642.7 303.0L641.2 302.3L640.8 300.7L639.6 299.3L638.8 298.2L636.8 297.9L634.5 297.1L630.8 297.4L625.9 298.4L622.3 300.6L618.9 301.1L615.9 301.2L614.7 302.0L612.2 303.1L608.9 302.8L607.5 301.9L607.2 300.5L608.3 300.2L608.5 298.0L607.8 296.2L607.3 295.1L606.6 292.5L605.8 290.7L604.1 288.0L605.4 288.3L605.0 285.9L604.5 284.7L605.2 283.0L605.8 280.7L605.9 281.9L607.4 280.4L610.1 278.7L613.3 278.1L615.4 277.6L618.2 276.1L619.4 274.2L620.7 271.5L621.8 273.1L621.8 271.7L623.1 271.2L623.5 270.0L624.3 268.7L627.5 267.1L628.9 268.3L629.6 269.0L630.9 269.0L631.9 267.9L633.1 266.5L634.1 264.9L635.2 264.5L636.5 264.4L635.8 262.8L637.0 262.6L638.5 263.8L639.7 264.2L641.4 264.4L644.1 264.4L644.4 264.7L642.8 266.3L642.6 269.0L641.8 268.8L642.8 270.2L644.5 270.7L646.2 271.9L648.9 273.4L650.9 273.4L651.9 271.0L652.2 269.0L652.2 266.3L652.7 265.2L652.8 264.1L653.2 262.4ZM657.5 312.7L660.3 313.4L662.1 313.1L663.1 312.7L663.6 313.2L663.6 315.2L663.1 316.9L661.0 317.6L659.7 317.5L658.3 315.2L657.5 313.5ZM704.9 302.0L705.4 302.0L707.4 303.3L708.0 304.4L708.4 306.1L709.3 305.5L710.3 306.4L710.8 307.5L712.1 308.0L714.8 307.6L713.8 309.3L713.7 309.9L712.0 310.6L712.3 310.9L711.5 312.3L710.8 313.0L709.3 314.2L708.4 313.7L708.7 313.0L708.7 311.4L707.4 310.8L706.6 310.3L707.1 309.9L708.1 309.3L708.4 308.3L708.5 307.7L707.9 306.5L707.3 305.4L706.0 303.9L705.5 303.3ZM704.9 312.3L705.4 312.3L705.0 312.8L705.9 313.6L707.1 313.0L707.5 314.4L706.5 315.5L705.5 316.7L705.5 317.9L704.2 318.1L702.4 318.9L702.0 320.1L701.6 321.3L700.0 322.4L698.6 322.8L697.5 322.6L696.9 322.2L695.9 322.0L694.5 321.9L694.2 321.4L694.9 320.4L696.6 319.2L697.9 318.2L698.6 318.0L700.5 316.9L701.9 316.0L702.3 315.6L702.7 314.4L703.8 313.6L704.0 312.8ZM496.0 264.0L497.3 266.4L497.8 269.0L498.1 269.7L497.6 270.8L496.9 269.9L496.9 271.2L496.3 274.5L495.3 277.5L494.5 279.7L493.6 282.4L492.2 286.1L489.1 287.1L487.1 286.2L486.5 283.3L486.0 280.6L487.6 278.1L488.0 277.1L487.1 274.3L487.9 271.2L489.3 271.0L491.0 270.4L492.4 268.8L493.5 268.5L493.9 266.8L495.3 264.9ZM108.2 376.1L116.7 376.4L125.1 376.6L133.6 376.3L142.0 375.6L145.4 374.2L150.5 374.1L158.9 372.7L162.3 372.0L167.4 371.5L175.9 370.7L184.3 369.8L192.8 369.5L201.2 368.3L209.7 368.6L218.2 369.0L226.6 369.8L235.1 370.3L240.1 370.7L243.5 368.1L245.2 365.9L252.0 366.8L260.4 367.0L268.9 367.3L277.4 367.3L285.8 366.4L285.0 363.9L289.2 361.4L296.3 358.0L301.0 355.5L305.3 353.4L309.5 352.1L315.4 350.7L315.4 352.4L311.2 353.8L308.7 356.3L309.5 358.8L309.5 362.2L310.4 365.6L310.4 369.0L309.5 370.7L314.6 372.4L328.1 374.9L336.6 375.4L345.0 375.8L351.8 375.8L355.2 374.4L361.9 372.7L367.0 371.5L372.1 369.5L378.9 367.6L387.3 366.4L394.1 364.4L399.2 363.6L404.2 363.1L412.7 362.2L421.2 362.2L429.6 362.0L438.1 361.9L446.5 362.2L455.0 362.6L463.5 361.0L468.5 360.0L471.9 361.0L475.3 361.9L480.4 360.5L488.8 358.3L497.3 357.1L502.4 355.3L509.1 356.3L514.2 357.8L522.7 358.3L527.7 358.5L531.1 359.7L534.5 361.4L539.6 361.4L544.7 359.7L548.0 358.5L556.5 356.8L565.0 356.6L573.4 356.0L581.9 355.1L590.3 356.0L598.8 355.8L607.2 356.3L615.7 356.8L624.2 356.0L632.6 355.5L641.1 355.5L649.5 356.6L658.0 357.7L666.5 359.3L674.9 360.9L683.4 362.2L691.8 363.2L700.6 364.4L700.3 366.4L696.9 368.1L691.8 370.2L689.3 372.4L691.8 374.9L694.4 375.5L700.3 374.9L708.7 375.4L717.2 376.1L717.2 397.7L108.2 397.7Z" fill="#d3d3d3" fill-opacity="0.2" stroke="none"/><path d="M493.1 171.1L493.0 169.5L492.2 168.2L492.7 167.0L493.9 166.2L495.6 165.3L498.1 164.6L500.2 164.4L502.4 164.5L502.5 165.5L503.7 167.2L502.0 167.0L499.8 167.2L497.8 168.4L499.2 170.0L499.5 170.8L501.2 171.6L501.9 173.3L502.2 174.3L502.4 176.1L502.1 177.1L503.4 177.8L504.0 180.4L504.1 181.4L501.8 181.7L499.7 181.8L496.4 180.4L495.4 178.8L495.4 178.2L496.3 177.3L496.3 176.1L497.9 175.6L496.8 175.1L495.9 174.1L494.4 172.7ZM511.2 167.7L512.5 166.0L515.0 164.8L516.7 165.5L515.9 167.7L514.2 169.4L512.2 169.9L511.3 168.9ZM466.3 244.5L467.7 243.3L470.2 243.5L470.6 245.5L469.4 247.9L466.8 248.4L466.3 246.3ZM465.0 142.3L466.0 140.8L466.8 139.6L464.3 139.4L463.5 140.6ZM471.1 140.6L473.6 140.3L472.8 138.4L471.1 137.9L471.6 139.3Z" fill="#d3d3d3" fill-opacity="0.26" stroke="none"/><path d="M128.3 132.8L131.4 131.8L135.8 131.1L139.0 131.6L137.8 130.5L135.3 129.3L130.5 128.2L131.5 127.2L137.0 125.8L138.8 124.9L143.7 123.9L147.9 123.0L152.2 123.9L156.4 124.6L161.5 124.7L167.4 125.4L174.2 126.0L178.4 126.7L182.6 127.2L185.2 126.2L187.7 126.3L191.9 125.2L196.2 124.5L197.9 125.6L200.4 126.4L201.7 125.0L204.6 125.7L208.0 125.7L213.9 127.1L218.2 127.2L219.8 128.3L218.0 129.1L223.2 129.3L228.3 129.3L230.0 130.6L230.8 128.9L233.0 127.6L236.8 128.8L240.1 129.1L245.2 129.1L246.9 127.9L249.5 128.3L250.3 127.1L250.6 125.4L249.5 123.7L252.0 122.2L254.5 122.5L257.1 124.5L257.9 126.1L259.6 127.9L263.3 129.6L265.0 128.8L267.7 127.1L268.1 125.7L273.1 125.9L275.2 126.7L274.0 128.1L274.8 129.6L271.4 131.5L266.7 131.3L267.2 132.7L264.7 133.8L262.1 135.5L259.3 136.7L256.2 137.9L253.7 140.4L252.5 142.3L253.3 144.3L255.4 144.3L256.6 147.4L260.4 147.4L264.7 149.1L268.9 150.2L273.5 150.4L273.6 154.1L274.8 155.8L276.5 157.0L279.1 156.7L279.4 154.8L279.4 152.4L277.9 151.4L281.6 149.4L283.3 146.5L281.6 144.0L280.7 140.9L280.9 138.1L285.8 138.4L290.9 139.4L295.0 140.4L294.3 142.3L295.1 144.3L297.0 145.2L301.0 144.3L302.7 141.8L303.8 141.6L307.0 145.3L308.3 148.2L311.2 150.2L314.6 151.8L316.3 153.0L318.5 155.3L316.4 156.8L313.7 157.2L311.2 158.9L305.3 158.9L300.4 158.9L298.5 160.4L295.1 162.6L292.6 164.5L296.0 162.3L300.2 160.7L303.9 161.1L301.9 162.6L302.9 164.3L303.6 165.6L306.1 166.3L308.2 166.5L310.2 164.3L311.5 166.0L309.5 167.2L305.1 168.4L301.7 170.4L300.9 169.7L301.4 168.4L303.9 167.0L300.9 167.3L299.4 168.0L296.8 168.9L293.9 170.0L293.3 171.7L292.6 172.2L293.3 172.9L294.3 172.7L294.4 173.3L293.1 173.6L291.9 173.6L289.4 174.0L287.5 175.1L287.5 176.1L286.0 177.9L285.0 177.1L285.7 178.2L285.3 179.5L284.2 181.0L284.1 179.0L284.0 177.1L283.3 177.5L283.5 179.5L283.6 181.2L284.1 181.4L284.6 182.9L285.0 184.2L283.3 185.3L281.6 185.9L280.7 186.5L279.1 187.3L277.5 188.5L275.7 189.7L275.0 192.4L275.7 194.2L276.4 195.7L277.3 198.6L277.1 200.2L276.5 201.2L275.5 201.3L274.3 199.6L272.8 196.9L272.6 194.7L270.6 192.9L268.2 193.6L266.4 192.4L263.8 192.5L262.1 192.4L261.5 193.0L262.0 194.7L260.4 194.4L258.2 194.2L256.6 193.7L254.0 193.6L252.3 194.2L250.3 195.6L248.3 196.8L247.9 198.5L248.4 199.9L247.4 203.2L247.3 206.2L248.1 209.1L250.1 211.3L252.0 212.3L253.0 213.1L256.2 212.3L257.4 212.3L259.3 211.2L259.6 210.2L259.9 208.3L261.0 207.8L263.8 207.3L265.4 207.3L265.9 208.1L264.8 209.6L264.5 211.2L264.2 212.8L263.5 214.2L263.3 215.9L262.3 216.9L264.0 217.0L265.9 217.1L267.2 216.7L268.9 216.7L270.6 217.4L272.0 218.4L271.6 220.1L271.3 221.8L271.0 223.5L271.1 225.4L272.3 226.9L273.6 228.1L274.8 228.8L276.0 228.7L277.5 228.0L279.1 227.6L280.7 228.1L281.8 229.2L282.7 230.4L282.9 229.1L283.8 228.6L284.8 227.7L284.9 226.2L286.1 225.1L287.2 224.7L289.4 224.3L291.5 222.7L292.3 223.7L291.1 224.3L291.6 225.3L292.6 225.2L293.8 224.5L294.3 223.2L294.6 224.3L297.0 224.9L297.7 226.0L299.5 225.9L301.0 225.9L302.7 226.7L304.1 226.0L306.1 225.7L308.0 225.7L306.8 226.5L308.7 227.2L309.8 228.1L311.2 229.4L312.9 230.4L314.3 232.3L315.9 233.6L319.3 233.8L321.3 234.0L324.2 235.5L325.6 236.4L326.4 237.9L328.1 240.8L326.9 242.8L328.1 243.5L329.0 243.3L330.8 244.2L331.0 245.5L332.6 244.8L334.9 245.7L336.6 246.3L337.8 248.0L339.4 247.9L342.0 248.7L344.2 248.5L345.9 249.0L347.6 250.1L349.6 251.8L351.3 252.4L353.0 252.6L353.2 253.6L353.8 255.9L353.7 257.4L353.0 259.0L352.3 260.1L351.1 261.6L350.0 262.2L349.1 264.1L347.6 265.8L346.7 267.5L346.7 268.8L346.6 271.6L346.4 273.7L345.5 275.3L345.0 277.1L344.5 278.1L343.5 279.8L343.3 281.0L341.6 282.5L339.6 282.7L337.1 283.3L334.4 284.4L331.7 286.1L330.7 286.9L330.5 288.6L330.7 290.5L330.1 292.2L328.6 293.4L327.6 295.4L326.1 297.1L324.6 298.2L322.4 300.9L321.1 302.4L319.7 303.0L317.6 302.8L314.8 302.1L313.9 301.3L314.0 302.3L316.0 303.7L315.7 304.7L316.8 305.2L315.3 308.1L313.3 309.0L310.4 309.6L307.3 309.4L307.6 310.6L307.6 312.5L306.5 313.2L302.7 312.8L302.7 314.9L304.4 315.0L305.1 315.9L303.9 316.4L302.7 316.1L302.7 317.1L302.2 318.6L301.9 319.8L298.5 321.4L298.3 322.5L301.2 323.5L301.2 324.6L298.2 327.2L296.8 328.4L296.0 331.1L297.1 332.3L296.6 332.9L297.3 334.0L298.2 334.8L299.9 335.7L302.5 336.3L301.2 336.8L299.4 337.2L298.8 338.4L297.2 337.7L295.1 337.4L292.6 336.7L290.9 335.8L288.7 334.0L286.3 333.0L285.8 330.9L285.1 328.4L285.0 325.8L284.8 322.8L286.7 320.8L287.2 316.5L287.5 314.5L287.9 313.2L288.5 311.2L288.2 307.4L289.0 306.1L290.2 303.5L291.5 299.6L292.0 294.5L291.7 292.0L292.8 289.6L293.3 288.4L293.4 286.8L293.6 283.8L293.9 281.2L294.0 278.0L293.8 275.0L292.0 273.7L290.9 272.6L288.4 271.4L285.6 269.9L283.6 267.3L282.2 264.2L281.4 262.6L279.7 259.2L278.9 257.5L277.4 255.4L275.4 253.6L275.5 252.4L275.1 251.7L276.5 249.7L277.5 248.0L275.7 247.5L276.2 245.4L276.5 244.4L277.3 243.7L278.0 242.1L279.5 240.8L280.1 239.4L282.3 237.2L281.5 234.5L281.8 232.6L280.9 231.6L280.4 231.1L280.1 230.2L280.6 229.6L279.1 228.7L278.2 228.7L277.4 229.6L276.7 229.8L277.4 231.2L275.8 231.6L275.6 230.9L274.5 230.4L273.6 229.9L272.5 230.2L271.1 229.6L271.3 228.9L270.3 227.9L269.4 227.6L268.9 226.7L268.7 227.6L267.5 226.4L267.3 225.4L267.4 224.8L266.2 223.5L265.2 222.7L264.7 221.8L264.3 221.1L264.0 221.6L263.0 221.5L260.7 220.8L259.1 220.3L256.7 219.3L254.5 217.4L253.2 216.4L251.7 216.5L249.5 217.3L246.9 216.6L243.7 215.3L240.9 213.9L239.8 213.4L237.6 212.8L236.3 211.6L233.9 209.3L234.6 208.9L234.6 207.3L233.7 205.6L232.7 204.6L230.2 202.2L228.2 200.5L227.6 198.6L225.1 196.6L223.2 195.1L222.9 194.2L222.0 193.2L220.6 190.8L218.5 190.0L218.4 191.4L218.8 193.2L220.6 194.8L221.9 196.4L222.7 197.5L223.3 198.3L224.3 199.8L225.4 201.8L226.1 202.9L227.0 203.2L227.6 204.1L226.8 205.1L226.2 204.1L224.4 202.9L223.1 202.2L222.7 201.8L222.9 200.2L220.5 198.6L218.1 196.7L219.7 196.4L219.3 195.1L216.8 193.1L216.5 192.4L215.4 189.9L214.6 188.8L212.4 186.6L211.7 186.3L210.2 185.6L208.9 185.5L208.6 184.3L206.5 182.4L206.5 181.9L206.3 181.3L205.5 179.9L204.6 179.5L203.4 177.9L203.3 176.6L202.3 175.4L202.6 173.2L202.0 171.3L202.4 170.4L202.8 168.4L202.9 165.6L202.8 164.4L201.7 161.9L204.3 162.3L205.3 163.6L205.6 162.1L204.3 160.5L202.1 159.5L199.5 158.2L196.5 157.2L196.0 155.6L194.0 153.6L192.3 151.9L191.1 151.3L189.4 151.3L186.5 149.2L184.8 148.7L183.0 146.9L181.6 145.3L179.2 144.2L176.2 143.1L173.5 142.4L169.3 142.3L166.2 141.5L165.0 140.4L161.1 140.9L162.3 142.3L160.0 142.1L157.3 143.7L155.7 143.7L156.4 142.9L156.7 141.4L159.1 140.3L156.1 141.1L154.5 142.3L152.0 143.5L153.4 144.2L151.7 145.5L147.9 147.4L144.7 148.6L142.0 149.7L139.5 150.6L137.0 151.2L133.9 151.6L134.2 150.8L137.0 150.2L141.2 149.1L144.2 147.5L146.1 146.4L146.4 145.3L147.1 144.4L144.6 144.0L143.9 145.0L141.4 144.0L138.4 144.6L139.2 143.8L138.6 142.5L136.1 142.5L133.6 141.5L131.7 139.6L133.1 137.9L133.9 137.1L136.1 137.1L138.5 136.4L140.7 135.7L140.3 134.7L140.1 134.0L137.3 135.0L136.6 134.6L132.9 134.7L131.2 134.4L131.0 133.4L128.3 132.8M403.6 182.6L403.2 182.9L402.0 182.1L400.9 180.9L399.3 181.2L397.5 181.2L397.7 179.6L397.1 178.8L396.6 178.2L396.8 177.2L397.6 175.9L398.0 174.2L397.6 172.4L397.0 171.2L398.5 170.4L399.7 169.7L403.1 170.1L406.3 170.2L407.6 170.4L409.7 170.5L410.1 170.2L410.6 168.4L410.8 166.7L410.7 165.7L409.7 165.1L409.0 163.9L407.5 163.4L405.3 162.9L404.7 162.5L404.6 162.0L405.9 161.4L407.6 161.2L408.1 161.7L409.3 161.5L410.2 161.5L410.0 161.2L409.4 159.7L410.6 159.7L410.8 160.3L412.3 160.4L412.9 160.1L413.0 159.7L414.5 159.3L415.3 158.9L415.4 157.7L415.8 157.6L416.8 157.4L418.1 156.9L418.8 156.7L419.6 155.8L420.7 154.2L421.8 153.8L423.2 153.5L424.5 153.5L426.4 153.1L427.4 152.7L427.8 152.3L427.2 151.9L427.3 150.9L426.9 149.9L426.4 149.8L426.4 149.1L426.6 147.9L427.2 147.2L429.5 146.4L430.6 146.1L430.5 146.6L430.1 147.5L431.1 148.4L430.0 148.8L429.4 149.9L429.1 150.4L428.9 151.0L429.9 151.8L431.5 151.8L431.1 152.5L432.1 152.6L433.2 152.2L433.8 151.7L435.4 151.3L435.9 151.9L436.8 152.6L439.0 152.1L441.2 151.4L443.7 151.0L444.3 151.8L445.9 151.7L446.4 151.3L448.1 150.2L448.4 149.6L448.2 148.2L448.3 147.4L449.2 146.7L450.9 146.1L451.9 146.9L452.9 147.4L453.5 147.3L453.9 146.5L454.1 145.1L452.5 144.7L452.5 144.1L453.4 143.4L454.6 143.2L456.7 143.0L458.4 143.2L460.2 143.2L461.8 142.3L463.8 142.5L462.9 142.0L461.3 141.1L458.3 141.5L454.9 142.0L451.5 142.6L450.3 141.6L448.7 141.3L448.9 140.4L449.2 139.7L448.7 138.4L449.1 137.1L451.1 136.0L451.8 135.8L454.1 134.3L455.7 133.8L454.2 132.6L453.6 132.5L450.3 132.9L449.1 133.3L448.6 134.3L447.0 136.0L444.4 136.8L443.1 137.8L442.1 138.2L441.7 139.4L441.8 141.1L443.0 141.3L443.8 141.6L444.6 142.7L444.0 143.5L443.1 144.2L441.6 144.6L440.8 144.7L440.9 146.1L440.5 147.0L440.4 148.0L439.9 148.7L439.1 148.8L437.8 148.8L436.9 149.2L437.0 149.8L436.0 150.0L434.9 150.1L434.4 150.1L434.7 149.7L434.2 149.0L433.8 148.6L434.4 148.0L433.4 147.2L432.8 146.2L431.8 145.2L431.6 144.1L431.2 143.7L430.9 142.5L430.5 143.3L429.7 143.9L428.9 144.2L427.6 144.9L426.2 145.5L424.6 145.7L423.8 145.5L422.9 144.9L422.1 144.4L422.2 144.0L421.6 143.3L421.4 142.7L421.2 141.6L421.1 140.5L421.1 139.6L421.3 138.6L423.0 138.1L425.7 137.0L427.1 136.4L429.1 136.0L429.6 135.4L430.8 134.7L431.7 134.1L433.3 133.0L434.0 132.1L434.7 131.1L437.1 130.0L438.1 128.9L434.7 128.9L437.2 127.7L439.9 126.5L441.5 126.2L444.8 125.6L447.4 125.2L448.9 124.9L452.8 124.3L456.3 123.4L459.6 123.5L460.9 123.9L461.9 123.9L465.3 124.8L463.0 125.3L463.5 125.8L464.9 125.8L466.8 125.5L468.5 125.8L469.4 126.6L472.1 126.7L475.3 127.7L477.8 128.3L479.9 128.5L481.9 130.5L482.6 131.3L481.2 131.8L477.8 132.1L474.4 131.6L470.7 131.0L467.5 130.2L468.5 131.1L469.7 131.6L471.6 133.9L471.6 134.7L474.4 135.8L477.2 135.7L475.8 134.9L474.4 134.0L475.0 133.6L477.0 134.1L479.9 134.6L481.2 134.6L480.4 133.7L479.9 133.0L481.6 132.1L483.9 131.3L486.3 131.8L487.5 132.4L487.5 131.3L487.8 130.5L486.8 128.8L486.0 127.7L490.3 128.0L491.5 129.0L490.9 130.5L492.2 130.7L493.6 130.5L494.9 129.4L497.3 128.6L500.7 127.9L504.1 127.2L504.1 128.4L506.6 127.9L509.1 127.7L510.8 127.4L513.4 127.9L513.9 128.3L515.0 127.2L514.7 125.9L517.1 125.8L521.8 126.6L525.2 127.4L528.6 128.3L527.7 127.1L525.7 125.9L525.7 123.5L528.6 122.0L530.3 120.5L533.7 120.5L535.9 120.8L535.9 123.7L537.2 127.9L535.3 130.5L534.5 131.3L537.0 130.8L537.9 129.6L541.3 129.1L545.5 129.4L542.1 127.4L538.7 127.6L538.7 127.1L537.0 123.7L539.2 120.6L541.3 120.5L544.0 121.0L545.5 121.4L547.2 121.3L549.2 122.5L552.8 124.5L554.0 123.7L552.3 121.5L548.9 119.5L557.3 119.0L559.9 116.9L564.1 116.1L568.3 115.2L575.1 115.1L581.0 114.4L589.1 112.4L592.5 112.9L594.6 113.9L600.5 114.0L604.7 114.9L604.7 115.4L604.9 116.4L603.7 117.1L603.9 118.3L597.1 119.3L592.9 120.0L598.8 119.1L601.3 118.6L604.7 119.5L612.3 119.5L615.7 120.3L621.6 119.3L626.7 118.8L631.4 120.3L631.4 122.0L630.8 122.6L632.6 123.7L634.3 124.0L636.9 122.8L637.4 122.2L640.2 123.0L642.8 122.7L645.3 123.0L647.8 122.7L649.5 121.3L650.8 120.5L655.5 120.8L659.7 121.3L663.9 121.5L667.3 122.8L670.7 123.9L674.9 123.7L681.7 124.2L683.4 125.6L685.7 126.1L690.1 125.9L695.2 126.1L697.8 125.6L701.1 126.9L700.8 125.9L701.3 125.2L706.2 125.6L711.3 125.9L716.2 127.2L717.2 127.2M717.2 133.7L714.7 134.5L713.0 134.3L711.3 134.3L712.8 135.0L715.0 136.4L716.0 138.4L710.4 139.1L707.9 139.3L704.5 140.6L700.8 142.5L693.5 141.6L691.0 142.5L689.0 143.5L688.4 145.7L688.1 146.2L689.0 148.7L687.6 148.7L687.0 151.2L683.4 152.4L683.5 154.0L681.2 154.2L677.8 157.7L676.8 155.8L675.9 152.4L675.8 149.1L678.1 146.0L680.3 145.7L682.9 144.2L686.6 141.6L689.3 140.1L691.5 138.1L688.4 138.6L686.8 139.8L684.2 141.1L683.4 139.8L684.2 138.9L681.7 139.3L678.3 139.6L674.9 142.3L674.9 143.7L671.5 143.8L667.8 143.1L664.8 143.1L658.8 143.5L655.0 143.4L651.2 144.8L647.0 147.5L646.5 148.3L644.5 150.8L641.4 151.3L645.3 152.1L644.5 152.8L647.0 152.6L648.7 152.1L650.0 153.1L651.6 153.6L650.7 154.0L651.7 155.5L650.9 156.7L650.4 159.2L650.0 160.9L647.8 163.8L647.0 165.1L644.5 167.2L642.8 168.7L641.1 170.2L637.5 171.4L635.8 170.9L634.0 171.7L633.7 172.2L632.3 173.1L632.1 174.4L631.3 174.9L628.6 176.5L628.3 177.6L629.9 178.5L630.8 179.9L631.6 181.2L631.7 182.8L631.6 183.7L631.1 184.4L629.2 184.9L628.7 185.1L626.7 185.8L626.4 184.9L626.7 183.6L626.9 182.9L626.1 181.6L626.9 180.4L625.9 180.0L625.3 179.5L623.7 179.3L624.5 178.3L624.5 177.0L623.1 176.3L621.6 176.6L619.4 177.7L618.4 178.0L617.6 178.2L618.2 177.0L619.1 175.3L619.4 174.9L618.7 174.6L617.4 174.7L615.0 176.3L613.8 177.5L612.0 177.8L611.6 178.5L612.3 179.3L614.4 179.9L614.0 180.9L615.5 180.5L617.0 179.8L618.1 180.3L619.3 180.4L620.3 180.5L619.8 181.5L616.3 182.8L614.9 183.9L614.7 185.0L616.2 185.8L617.2 188.0L618.9 190.2L618.9 191.5L617.4 192.0L617.1 192.5L618.4 193.0L618.9 193.2L619.1 193.9L618.6 195.6L617.4 196.5L616.2 198.1L615.5 199.0L615.2 199.8L614.2 201.2L613.5 201.8L612.5 202.4L611.1 203.7L610.1 204.4L608.1 205.4L605.9 206.1L604.9 205.6L604.8 206.3L602.2 207.1L599.6 207.9L599.6 209.3L598.6 209.5L598.4 207.8L597.3 207.5L596.1 207.3L595.4 207.4L593.4 208.7L593.0 209.6L591.7 211.0L591.6 212.2L592.9 213.7L594.8 215.9L595.8 216.6L596.9 218.3L597.5 220.5L597.9 222.0L597.4 223.1L597.1 224.3L595.6 225.4L593.9 226.3L592.7 227.7L591.2 228.6L589.9 229.3L590.1 227.2L590.5 226.9L589.5 226.2L587.8 225.9L586.9 224.5L586.2 223.2L585.3 222.7L584.1 222.4L583.4 222.4L583.5 221.1L582.9 221.0L581.9 221.2L581.8 222.6L581.5 223.8L580.6 226.0L580.5 228.1L581.7 228.1L582.4 229.6L582.9 231.6L584.1 232.1L585.0 233.0L585.7 233.3L587.2 234.7L587.6 237.4L587.7 239.1L588.4 239.7L589.1 241.4L588.4 241.7L587.8 241.7L586.8 240.8L585.7 240.1L584.9 239.6L584.2 238.7L583.2 237.2L582.9 236.7L582.5 234.7L582.4 233.5L582.0 232.7L581.0 231.5L580.0 230.2L579.0 229.9L578.9 228.8L579.5 227.0L579.3 224.3L579.5 222.7L578.7 220.1L578.1 218.0L577.8 215.9L576.6 214.7L575.4 215.7L574.1 217.2L572.7 217.0L572.1 216.7L572.4 214.2L572.2 212.6L571.6 211.2L569.9 209.7L568.3 207.5L568.0 206.1L566.6 205.6L566.0 206.1L565.5 206.8L564.1 207.0L562.8 207.3L561.7 207.2L560.7 207.3L559.9 207.6L559.7 208.7L559.4 209.5L557.9 210.3L556.3 211.2L553.6 213.9L551.9 215.1L551.9 215.7L550.1 216.5L549.6 217.2L548.2 217.6L548.3 219.4L548.5 221.6L547.8 223.6L547.8 226.4L546.9 226.4L546.3 227.7L545.0 228.7L543.9 230.1L542.8 229.4L541.7 227.0L540.8 224.8L539.2 222.0L538.4 219.6L537.5 217.7L536.7 215.0L535.9 211.7L535.7 210.0L535.9 209.3L535.7 208.1L535.3 206.2L534.8 207.0L533.7 208.4L532.8 208.8L531.7 208.4L530.4 207.2L529.3 206.2L530.6 205.8L531.8 205.0L530.0 205.2L528.1 203.7L526.7 203.2L526.0 201.8L525.2 200.8L522.0 201.2L520.1 201.1L518.1 201.3L517.1 201.4L515.2 201.0L512.5 200.8L510.5 200.4L509.1 198.8L507.9 197.9L506.6 198.5L505.6 198.9L503.2 198.6L501.7 197.4L500.8 196.7L498.7 194.8L497.6 193.0L496.4 192.9L494.9 193.1L493.7 194.1L494.6 195.4L494.7 195.8L496.7 198.1L497.5 199.1L497.6 200.5L498.7 201.9L498.6 200.7L499.4 199.6L500.0 201.0L499.9 202.1L499.5 202.3L500.0 203.0L501.9 202.9L504.6 202.4L506.3 201.1L507.4 200.2L508.2 199.3L507.9 200.5L508.0 201.3L508.7 202.6L511.8 203.9L513.9 205.7L513.0 207.6L511.7 209.3L510.3 210.6L510.5 211.7L509.1 212.0L508.3 213.3L506.3 214.2L504.2 215.0L502.5 215.6L501.0 216.4L499.0 218.1L497.3 218.7L495.8 219.3L493.9 220.1L492.2 220.8L490.5 221.1L488.8 222.1L486.2 222.4L485.9 221.3L485.4 218.8L484.9 217.2L484.7 215.2L482.9 212.8L482.1 211.5L480.9 209.7L478.9 207.4L478.7 205.2L477.1 203.0L475.6 201.5L474.4 199.4L473.1 197.5L471.9 196.3L471.2 196.4L471.9 193.9L471.1 195.6L470.6 196.9L469.5 196.0L468.7 194.7L467.8 193.1L467.3 190.9L469.9 191.1L471.0 190.5L471.5 189.6L471.9 188.3L472.8 186.5L473.3 185.5L473.2 183.7L473.4 182.9L473.9 181.9L472.9 181.9L471.2 181.6L470.1 182.5L468.3 182.8L466.8 182.0L464.6 181.5L464.4 182.4L462.9 182.6L461.9 181.9L460.6 181.5L459.1 181.7L459.1 181.2L458.8 179.8L457.2 179.0L458.0 178.4L457.9 177.3L456.8 177.0L457.0 176.1L457.9 175.5L458.9 175.5L459.9 175.3L460.1 175.5L461.6 175.5L462.0 175.4L462.3 175.0L463.3 174.9L461.8 174.5L461.9 174.1L462.8 174.1L466.5 173.7L468.5 172.8L469.8 172.8L472.2 172.7L474.2 173.9L476.8 174.4L479.9 174.4L482.7 173.8L483.1 173.3L483.2 172.5L482.1 171.1L479.9 170.0L478.8 169.2L476.6 168.2L475.8 167.8L474.6 167.3L474.8 167.0L476.3 166.6L477.2 165.9L477.5 164.8L479.2 164.1L478.5 164.0L476.2 164.2L475.0 164.7L472.4 165.5L471.6 165.7L472.6 167.2L474.4 167.1L474.3 167.6L472.6 167.6L471.9 167.9L470.5 168.5L469.8 168.7L469.3 168.4L469.1 167.3L467.7 167.1L469.7 165.7L468.4 165.8L466.3 165.5L466.1 165.0L464.7 165.2L464.2 165.9L462.9 167.3L461.8 168.2L461.2 169.1L461.1 169.7L460.8 170.4L460.0 170.7L459.2 171.9L460.1 173.0L460.2 173.4L461.8 174.0L461.7 174.4L460.5 174.3L459.2 174.5L458.5 175.1L457.8 175.5L457.0 176.0L458.0 175.1L456.8 174.9L456.5 174.7L455.2 174.5L454.0 174.6L453.0 174.9L453.9 175.9L453.2 175.5L453.3 176.2L452.8 175.7L452.3 176.2L452.2 175.8L451.4 175.1L450.9 175.7L451.4 176.8L451.9 177.7L451.5 177.2L451.4 177.8L452.1 178.4L453.4 179.3L453.4 180.1L452.6 179.6L451.6 179.7L452.5 180.4L451.9 180.7L451.3 180.3L451.4 181.2L451.9 182.1L451.2 181.5L450.7 182.2L450.1 181.2L449.7 181.7L449.3 181.4L449.3 180.8L448.7 180.1L448.4 179.6L449.4 179.1L448.9 178.9L448.3 178.6L447.7 178.1L447.8 177.9L447.2 177.4L447.0 177.0L446.5 176.4L445.6 175.4L445.6 173.9L445.4 173.0L445.0 172.6L444.1 172.1L443.3 171.6L442.2 171.0L440.5 170.2L439.6 169.8L438.4 169.2L437.9 167.8L437.1 167.1L436.1 167.9L435.5 166.8L436.0 166.6L435.6 166.3L433.7 166.9L433.8 167.8L433.5 168.6L434.0 169.3L435.5 170.0L436.7 172.0L438.1 172.7L440.1 172.9L439.6 173.4L441.2 174.2L443.1 175.0L444.0 175.9L443.7 176.5L443.2 176.0L441.8 175.4L440.8 176.5L441.7 177.7L440.7 178.2L440.8 178.8L439.9 179.6L439.2 179.3L439.6 178.8L440.1 178.2L439.8 177.2L439.3 176.1L438.5 176.1L437.7 175.0L437.0 175.1L436.8 174.7L435.7 174.1L434.1 173.7L433.4 173.2L432.7 172.6L431.5 172.1L430.5 171.2L430.1 170.1L429.4 169.3L427.8 168.7L427.0 168.9L426.2 169.6L425.0 169.9L423.9 170.6L422.8 170.9L421.8 170.5L420.3 170.4L419.0 170.4L417.9 171.2L417.9 171.7L418.3 172.2L418.1 172.9L416.4 173.8L414.8 174.3L414.1 174.9L412.7 176.2L412.2 177.1L413.0 178.2L411.9 178.9L411.5 180.1L411.0 180.2L410.0 180.5L409.0 181.7L408.6 181.5L406.8 181.7L405.3 181.7L404.4 182.1L403.6 182.6M467.8 193.1L467.4 193.7L467.9 194.6L468.7 195.8L470.0 197.7L470.1 198.5L470.7 199.6L471.7 201.4L472.8 203.2L473.3 204.9L474.7 206.2L475.6 208.3L475.7 210.6L475.9 211.5L476.6 212.6L478.0 213.3L478.7 215.4L479.4 217.4L480.7 218.4L482.4 219.9L483.8 220.8L485.0 221.8L486.0 222.7L486.0 223.6L484.8 224.2L485.7 224.2L486.3 224.6L487.5 225.9L488.8 226.1L492.2 225.0L494.2 224.9L495.9 224.7L498.1 223.9L499.5 223.8L499.7 226.1L498.8 227.7L497.0 230.4L496.1 232.3L494.8 234.7L493.1 237.0L491.4 238.7L489.4 240.4L487.1 241.9L484.7 244.4L483.1 246.6L481.9 247.7L480.6 249.2L479.9 250.7L478.9 252.3L478.3 254.0L479.2 255.3L479.4 257.0L479.6 258.9L479.9 260.7L480.8 261.2L481.4 261.9L481.3 265.7L481.5 267.8L481.6 269.3L480.3 271.2L477.3 273.1L475.2 274.3L474.1 275.7L471.7 277.4L471.5 278.6L472.2 280.2L472.5 281.0L472.8 284.1L472.8 284.6L471.1 285.8L469.7 286.3L467.8 287.7L468.4 289.2L467.8 291.8L467.0 292.5L465.2 294.3L464.2 295.8L462.7 297.3L459.9 299.7L458.2 300.6L456.2 301.4L454.7 301.7L452.3 301.5L450.2 301.6L446.5 302.7L445.3 302.4L444.6 302.0L443.9 301.5L444.0 301.9L443.8 301.1L443.0 299.6L443.7 298.1L443.0 296.6L441.2 293.3L440.5 292.2L438.3 288.9L438.0 286.9L437.2 284.4L437.2 282.6L436.3 280.6L435.4 278.5L434.2 275.9L433.0 275.0L432.6 273.0L432.7 271.7L433.3 269.5L433.8 267.3L435.6 264.7L436.0 262.7L436.0 262.0L435.0 258.7L435.3 257.3L434.4 256.1L433.6 254.1L433.3 253.2L432.7 251.9L431.5 250.5L430.7 249.6L428.9 247.9L427.4 244.9L428.4 244.3L428.7 243.1L428.9 242.1L429.2 240.7L429.4 238.8L428.9 237.2L427.8 236.9L426.7 236.1L424.8 236.4L423.0 236.5L421.8 234.7L420.5 233.5L418.5 233.0L416.8 233.1L414.7 233.4L414.4 234.0L412.4 234.4L410.6 235.2L409.1 235.8L407.5 235.2L405.9 234.9L402.4 235.4L401.5 235.8L399.6 236.4L397.4 235.3L395.7 233.9L394.4 233.1L393.5 232.4L390.9 231.0L390.3 229.5L390.2 228.1L389.5 227.7L388.0 225.9L387.2 225.2L386.1 224.2L384.4 222.9L384.6 221.0L384.4 220.3L383.9 219.4L383.0 218.8L383.8 218.3L384.8 216.7L385.1 215.0L385.6 213.2L384.8 211.0L385.1 209.6L383.9 208.6L384.1 207.1L385.6 203.7L387.0 201.7L388.2 199.6L389.9 198.0L390.8 196.5L393.9 195.2L395.4 194.1L396.4 192.4L396.0 191.9L396.1 190.5L397.1 189.2L398.3 187.6L399.8 187.0L401.1 186.2L402.3 184.3L402.7 183.3L403.7 183.1L403.7 183.6L406.1 184.2L407.7 184.1L409.0 184.4L411.6 183.4L412.9 183.0L414.9 182.1L417.9 181.5L419.3 181.3L421.3 181.6L424.4 181.4L425.8 181.4L427.5 181.3L429.4 180.6L430.1 181.5L431.4 181.1L430.6 182.2L430.7 183.2L431.4 183.7L430.9 185.0L429.8 186.5L431.5 187.1L432.2 187.7L435.0 188.1L438.2 189.0L438.8 190.3L440.8 191.0L443.5 191.9L445.0 192.6L446.5 191.7L446.6 189.5L448.1 188.5L449.8 188.1L451.0 188.4L451.8 189.0L453.2 189.5L455.2 190.3L458.8 190.8L461.7 191.6L463.3 191.0L464.1 190.6L465.1 190.3L466.5 190.5L467.3 190.9L467.8 193.1M338.4 142.6L334.9 141.1L331.5 140.6L328.6 138.9L327.3 137.2L325.2 135.2L323.2 133.2L321.9 130.5L323.0 128.8L323.2 127.6L326.3 126.7L322.2 126.6L319.8 126.1L320.5 124.9L320.3 124.2L324.7 124.2L322.2 123.2L318.3 122.7L319.7 121.7L317.8 120.6L315.4 118.6L313.7 116.9L311.2 115.4L306.1 115.1L300.2 115.4L296.3 114.4L292.1 113.5L295.5 112.7L289.0 111.5L290.1 110.7L296.0 110.0L302.7 109.0L301.0 108.3L298.5 107.6L304.4 106.4L307.8 105.8L309.5 105.1L319.7 104.6L328.1 104.2L336.6 103.7L345.0 102.9L356.2 102.3L367.0 102.7L372.1 103.6L377.2 104.2L370.4 104.9L375.5 105.4L383.9 105.4L392.1 105.8L391.6 106.8L385.6 108.1L383.1 109.3L380.6 110.5L382.2 112.5L381.4 113.9L378.9 115.4L379.7 116.6L378.0 118.1L375.8 119.8L375.0 121.7L376.3 123.7L375.5 124.6L371.3 123.9L367.9 124.7L375.0 125.1L370.4 126.7L366.2 127.9L361.9 128.6L358.1 128.9L355.2 131.0L352.6 131.8L349.1 132.8L345.9 133.3L344.7 134.7L344.0 136.4L342.5 138.1L341.1 139.8L340.0 141.5L338.4 142.6M280.6 134.3L282.4 133.2L287.5 133.0L288.4 131.3L290.1 129.6L285.8 128.3L282.4 126.7L279.1 125.6L274.8 125.6L269.2 125.6L267.2 124.9L263.0 124.5L260.8 123.2L261.3 121.2L260.4 119.0L267.2 119.0L269.4 119.6L270.6 122.0L272.3 120.3L274.8 119.1L279.9 119.1L284.1 120.3L286.7 121.8L292.6 123.5L296.8 124.7L298.8 126.6L298.5 127.7L304.4 129.4L309.0 131.1L307.8 132.1L304.9 133.9L301.9 132.3L298.8 131.6L300.2 133.8L303.4 137.2L300.2 136.9L296.8 136.0L299.7 137.9L302.7 139.1L297.7 138.6L294.5 137.5L290.9 135.9L286.7 134.9L283.3 135.2L280.6 134.3M214.8 127.1L218.2 127.7L220.7 127.9L226.6 127.7L230.8 127.2L235.1 126.9L240.7 127.4L242.2 125.9L241.0 125.0L237.6 124.4L241.8 122.8L239.3 120.8L235.1 120.3L230.8 119.8L229.2 121.2L225.8 120.3L219.8 119.8L213.9 120.6L211.4 122.7L213.9 123.2L212.6 124.4L213.9 124.4L222.4 124.7L214.3 125.4L215.1 126.4L214.8 127.1M199.7 122.1L205.1 123.5L208.0 122.8L212.2 121.0L217.6 119.5L213.9 118.2L207.2 117.8L202.1 118.0L201.7 119.8L200.4 121.2L199.7 122.1M214.8 116.1L220.7 117.8L226.6 117.3L233.4 116.9L234.2 115.6L228.3 113.9L221.5 114.9L214.8 114.9L214.8 116.1M239.3 122.8L246.1 123.2L249.5 120.8L247.8 118.8L242.7 118.6L239.3 120.3L239.3 122.8M251.1 121.8L255.4 122.0L259.6 120.8L260.1 118.8L255.4 118.4L251.1 119.1L251.1 121.8M257.1 117.6L268.9 117.8L277.4 117.6L278.2 116.1L274.8 115.4L267.2 115.9L261.3 115.9L262.1 114.9L257.1 113.7L249.5 113.7L251.1 114.7L257.1 114.7L256.2 116.1L257.1 117.6M275.7 115.0L268.9 114.6L261.3 114.5L261.0 113.2L265.5 112.5L263.0 111.5L267.2 110.2L267.4 108.5L265.5 107.4L259.6 106.3L257.9 105.8L267.2 104.6L277.4 103.6L294.1 103.2L307.3 104.2L309.3 104.6L305.3 105.8L301.0 106.8L296.8 108.0L292.6 109.0L288.4 109.5L285.8 110.0L287.0 110.7L285.8 111.3L283.3 112.0L280.7 113.2L279.9 114.2L275.7 115.0M251.1 109.3L258.8 111.5L264.7 111.0L263.0 109.3L264.7 107.8L258.8 106.3L252.0 106.8L250.3 108.1L251.1 109.3M236.8 116.2L243.5 116.9L247.4 116.1L246.1 114.2L241.0 114.0L236.8 114.9L236.8 116.2M204.6 114.9L212.2 115.7L217.3 114.4L214.8 112.7L208.0 113.2L204.6 114.9M233.4 111.8L240.1 112.4L245.2 111.5L243.5 110.2L236.8 109.6L233.4 110.5L233.4 111.8M243.5 127.1L247.8 127.9L251.5 127.2L250.6 126.1L246.9 125.6L244.4 126.2L243.5 127.1M265.0 136.4L268.1 137.1L272.3 136.0L276.5 136.4L277.0 134.7L274.8 135.4L271.4 133.7L269.8 133.2L268.9 132.3L266.4 133.0L267.2 135.0L265.0 136.4M318.8 156.5L318.6 158.0L317.1 159.2L318.8 160.1L322.2 160.5L322.9 161.4L321.7 162.9L323.4 162.9L323.6 163.4L322.9 164.9L321.9 164.3L321.0 164.6L321.3 162.9L318.1 164.5L319.3 163.1L318.0 163.4L315.3 163.3L312.4 163.3L312.2 162.8L313.9 161.8L312.6 161.7L314.1 160.6L314.6 160.0L315.8 158.0L316.7 157.0L318.1 156.5L318.8 156.5M269.0 206.8L270.6 205.4L272.0 205.0L273.4 204.6L274.7 204.8L275.4 204.6L277.4 205.0L278.3 205.7L280.1 205.7L282.1 207.2L284.0 208.0L284.8 208.4L286.0 208.8L286.7 209.4L287.3 209.5L285.6 210.1L284.4 210.1L281.2 210.2L282.3 209.4L281.4 208.8L280.7 208.8L279.3 207.3L277.4 207.0L276.6 206.5L275.4 206.2L274.1 206.2L273.5 205.4L271.6 206.3L270.6 206.6L269.8 207.0L269.0 206.8M288.5 210.3L290.6 210.4L291.5 210.2L293.1 210.3L294.5 210.5L295.7 211.2L295.0 211.5L296.5 211.7L297.1 212.3L296.6 213.0L296.1 212.7L294.5 212.6L293.4 213.0L292.4 213.0L291.9 214.0L291.3 213.3L290.0 213.0L287.9 213.0L286.8 212.8L286.8 212.3L287.3 212.2L289.2 212.6L290.3 212.4L289.7 211.5L289.7 210.9L288.5 210.6L288.5 210.3M280.2 212.9L280.9 212.5L282.6 212.7L283.8 213.1L283.8 213.5L282.8 213.4L282.1 213.8L281.1 213.6L280.2 212.9M195.5 157.9L197.0 157.8L200.7 159.0L202.9 160.6L204.1 161.9L201.7 161.7L199.7 160.7L197.9 159.6L196.3 159.0L195.5 157.9M148.7 210.4L149.0 209.5L150.8 210.8L149.4 211.8L148.7 210.4M374.3 135.9L375.5 135.3L372.0 134.1L375.8 133.1L371.3 133.0L373.5 131.6L374.8 131.4L376.7 132.8L378.7 132.0L380.7 131.8L383.9 131.8L385.3 131.3L388.1 131.5L387.7 132.6L389.9 133.7L388.5 134.4L387.0 135.1L384.5 135.9L380.6 136.5L378.4 136.3L376.5 135.8L374.3 135.9M403.1 159.1L403.9 159.3L405.7 158.6L406.5 158.8L406.9 158.2L408.6 158.3L411.3 158.0L413.1 158.0L414.3 157.7L415.0 157.3L415.2 156.9L413.9 156.8L414.3 156.3L414.9 155.9L415.7 155.0L414.9 154.3L413.5 154.2L413.0 154.5L413.3 153.9L412.9 153.2L412.6 152.2L411.7 151.6L410.8 151.3L410.3 150.8L409.3 149.5L409.1 149.2L407.3 149.1L406.4 149.0L408.3 148.6L407.6 148.3L408.4 148.1L409.2 147.1L409.7 146.5L409.3 146.2L407.1 146.2L405.6 146.5L406.3 145.9L406.5 145.5L407.5 144.9L407.6 144.6L405.9 144.7L404.2 144.6L403.6 145.3L402.9 145.9L402.8 146.7L401.7 146.5L402.2 147.2L402.8 147.4L402.2 147.8L403.4 148.4L402.2 148.6L403.2 148.9L402.9 150.2L403.6 149.5L404.6 149.1L404.8 150.0L404.0 150.8L404.5 151.4L405.3 151.1L407.5 150.8L406.6 151.6L407.2 152.3L407.9 152.3L407.5 152.8L407.5 153.4L407.1 153.5L406.2 153.6L405.3 153.4L404.8 153.6L405.4 154.0L404.7 154.5L405.8 154.3L405.8 155.2L404.7 155.7L404.1 155.8L403.7 156.0L404.1 156.4L404.7 156.4L405.9 156.6L407.4 156.8L408.3 156.5L407.6 157.0L406.8 157.2L405.8 157.2L405.0 157.5L404.3 158.3L403.4 158.8L403.1 159.1M400.2 150.1L402.3 150.4L402.9 151.0L403.5 151.8L402.0 152.4L402.4 153.5L402.5 154.2L402.0 155.5L401.0 155.6L398.8 156.2L396.1 156.8L395.4 156.5L395.1 156.0L395.0 155.7L395.9 155.1L395.9 154.9L397.5 153.9L395.4 153.5L395.6 152.4L395.8 151.9L398.2 151.9L398.8 151.4L397.8 151.3L398.7 150.5L400.2 150.1M433.8 179.5L435.3 179.3L439.1 179.1L438.2 180.4L438.3 181.8L436.8 181.1L435.6 180.7L433.7 179.9L433.8 179.5M426.5 174.5L428.3 174.0L429.3 175.3L429.0 177.5L427.9 178.0L426.9 177.8L426.9 176.1L426.5 174.5M440.6 114.3L436.4 112.7L435.5 112.5L435.7 111.7L431.3 111.0L431.0 109.6L430.8 109.0L436.4 108.8L440.3 108.4L443.2 109.3L444.8 110.2L449.1 110.8L444.7 111.0L444.7 112.7L442.0 113.7L440.6 114.3M443.2 108.3L447.4 107.8L453.3 108.0L458.7 108.3L457.5 109.5L452.5 109.8L447.4 109.5L443.2 109.0L443.2 108.3M505.7 124.4L503.2 123.9L500.7 123.2L499.8 122.3L501.5 120.6L503.2 118.6L506.6 116.8L510.0 115.9L515.0 115.1L522.7 113.7L529.3 113.6L528.6 114.6L524.4 115.6L519.3 116.6L515.0 117.8L512.5 118.6L510.0 119.8L508.3 121.2L507.1 122.8L510.1 124.2L505.7 124.4M572.6 109.8L577.6 110.5L581.9 110.2L581.9 108.8L578.5 108.1L573.4 108.5L572.6 109.8M581.0 111.3L586.1 112.0L591.2 111.2L589.5 109.8L584.4 109.6L581.0 111.3M644.5 116.4L648.7 117.4L654.6 116.9L659.7 116.6L658.0 115.7L651.2 114.9L647.0 115.2L644.5 116.4M108.2 127.2L111.6 128.1L115.3 129.0L117.5 130.5L120.0 130.4L122.2 130.5L125.4 131.9L125.7 132.1L123.4 132.8L120.9 133.0L121.3 134.9L119.7 134.9L117.5 134.3L115.0 134.2L111.6 133.0L109.7 131.6L109.0 133.0L108.2 133.7M108.2 127.2M654.1 151.8L654.6 153.1L655.0 154.1L655.1 155.8L655.6 158.4L656.1 159.2L656.6 160.6L657.5 161.5L654.8 160.6L654.3 161.6L653.9 163.3L654.6 164.5L655.3 166.0L654.3 165.0L653.1 166.2L652.7 164.9L653.0 164.2L653.1 163.0L653.0 160.8L653.2 159.2L653.2 157.7L652.6 156.3L652.7 155.5L652.8 153.6L653.4 153.1L653.4 151.9L654.1 151.8M649.9 173.8L649.7 173.0L649.3 172.0L650.1 170.5L651.8 170.6L652.3 169.4L652.5 167.8L652.8 166.8L653.9 167.8L655.2 168.8L656.7 169.3L658.6 168.8L658.3 170.0L659.3 170.4L657.7 171.1L657.0 171.1L655.1 172.2L655.0 172.9L654.2 172.5L652.2 171.7L651.2 172.2L650.2 171.9L650.6 172.6L651.6 173.1L650.8 173.2L649.9 173.8M634.1 186.4L635.0 185.6L636.1 184.8L637.9 183.6L639.7 183.7L641.4 183.3L642.9 183.5L642.7 183.0L643.8 181.9L645.0 180.4L644.5 181.5L644.8 181.6L646.6 181.0L647.8 179.6L648.6 179.1L649.2 178.0L649.0 176.2L649.5 175.8L649.3 175.1L650.1 174.0L650.8 174.7L651.1 173.5L652.0 173.7L652.1 175.2L652.8 176.7L652.8 177.4L652.2 178.0L652.2 179.0L651.2 179.1L651.1 179.9L651.1 181.3L650.6 182.4L651.0 183.4L650.0 184.3L649.3 184.8L649.7 183.6L649.2 183.6L649.0 184.2L648.1 184.2L647.8 185.2L647.6 184.4L646.8 184.7L646.5 185.3L645.6 185.2L644.5 185.3L644.2 184.5L643.7 185.1L644.3 185.9L643.1 186.2L642.3 187.2L641.7 186.8L641.2 185.9L641.8 185.2L641.1 185.2L640.5 185.0L639.3 185.4L638.4 185.5L636.8 185.7L636.2 186.4L635.2 186.3L634.7 186.4L634.1 186.4M634.2 186.4L635.5 187.0L635.8 187.6L635.5 188.7L635.1 189.8L634.9 190.7L634.5 190.6L633.7 191.4L633.1 190.9L633.0 189.9L632.6 189.3L632.2 188.7L632.4 188.4L631.9 187.4L632.5 187.1L633.3 186.9L634.1 186.4L634.2 186.4M636.0 187.4L637.2 186.5L637.7 186.1L639.5 185.7L640.5 185.9L640.7 186.6L639.7 187.6L638.6 187.1L637.7 188.4L637.1 188.1L636.9 187.6L636.0 187.4M618.2 201.0L619.1 201.5L618.4 203.2L617.6 205.3L617.1 206.8L616.2 205.6L615.9 204.9L616.0 203.5L616.5 202.7L617.2 201.8L618.2 201.0M600.0 209.8L600.5 210.6L599.6 212.0L597.9 213.0L596.6 212.5L596.5 211.2L597.6 210.1L598.8 209.9L600.0 209.8M548.4 227.2L550.2 229.3L550.9 230.8L551.2 232.0L549.9 233.5L549.1 233.8L548.4 233.6L547.8 232.1L547.7 230.3L547.9 228.7L548.0 227.4L548.4 227.2M616.7 212.5L618.5 212.8L619.3 212.5L619.9 214.9L618.4 217.2L618.5 218.8L619.4 219.9L620.7 219.9L622.3 220.5L622.0 221.6L622.6 222.6L622.3 222.4L620.8 221.0L620.3 220.5L620.1 221.6L618.4 220.3L617.5 220.6L616.7 220.0L617.2 219.4L617.3 219.1L616.5 219.4L616.1 218.8L615.6 217.8L615.5 216.1L616.0 216.6L616.2 215.7L616.4 214.1L616.6 213.0L616.7 212.5M619.2 232.1L619.1 231.1L619.6 230.3L621.4 229.3L622.2 230.0L622.9 229.8L623.6 229.4L624.2 228.6L625.0 228.6L625.0 227.2L626.2 228.4L626.4 229.9L626.9 231.5L626.2 232.0L626.2 233.1L625.3 231.9L624.8 232.4L625.3 234.3L624.4 233.5L622.6 233.1L622.8 231.6L621.5 230.6L620.8 231.1L620.1 231.1L619.2 232.1M623.0 222.6L624.7 222.6L625.4 225.2L624.5 226.4L624.1 226.9L623.7 226.5L623.1 225.4L623.3 224.3L623.0 222.6M618.9 223.7L620.9 224.2L621.6 225.4L622.5 224.9L621.8 227.1L620.8 228.5L619.8 227.4L620.1 225.9L619.1 226.0L618.9 225.2L618.9 223.7M611.0 229.6L611.5 229.4L614.5 226.4L615.0 224.7L614.5 224.5L613.5 225.9L611.0 228.7L611.0 229.6M616.2 221.1L617.7 221.0L618.2 222.5L617.7 223.2L617.1 222.3L616.2 221.1M573.9 234.4L577.0 235.0L578.5 236.2L579.7 237.4L581.5 238.8L582.5 240.1L584.3 240.9L585.6 242.1L586.9 242.8L588.2 244.0L587.8 245.3L589.2 245.5L589.7 247.0L590.2 247.7L591.3 247.9L592.1 249.4L591.8 250.9L591.9 252.3L591.7 253.7L590.8 253.1L589.6 253.8L588.3 252.4L585.7 250.2L583.6 247.9L582.5 245.4L580.8 243.5L579.8 240.8L578.1 239.9L577.1 238.3L575.3 236.8L574.1 235.3L573.9 234.4M590.7 255.2L592.0 253.8L593.5 254.1L595.2 254.4L596.4 255.1L597.3 255.4L599.5 255.6L600.3 254.6L601.2 255.1L602.3 255.5L603.4 256.0L604.2 256.9L605.6 256.8L606.2 257.7L606.2 258.4L603.9 257.9L600.5 257.8L598.8 257.2L597.1 256.9L596.5 256.8L594.6 256.8L593.0 255.6L590.7 255.2M598.2 240.3L599.4 240.9L601.0 239.7L601.2 239.1L603.9 238.4L605.6 236.4L607.2 235.3L609.0 233.7L610.4 232.1L611.8 233.0L612.5 233.9L614.4 235.0L612.8 235.3L613.3 236.3L612.2 236.6L611.6 238.2L612.2 239.9L612.3 240.8L614.0 242.1L612.3 242.4L611.5 243.6L611.6 244.8L610.4 245.9L609.8 247.5L609.4 248.7L609.3 249.7L606.7 250.8L606.4 249.6L604.4 249.2L601.8 249.7L601.7 248.7L600.3 248.7L598.8 246.9L598.6 245.8L597.3 244.0L597.0 242.3L597.1 241.3L598.2 240.3M614.7 252.5L615.0 250.6L613.9 249.8L613.8 248.4L614.5 247.0L615.3 245.0L615.4 243.5L617.1 242.0L617.9 241.9L620.6 242.3L622.5 242.1L623.3 241.8L623.9 241.3L624.5 241.0L624.5 241.4L623.0 243.1L620.9 243.0L618.2 243.0L616.0 243.0L615.9 244.1L616.0 245.2L617.0 246.2L618.4 245.2L620.4 245.3L621.5 245.2L620.6 246.3L619.4 246.7L618.1 247.2L618.9 248.5L620.1 250.5L620.3 251.6L619.4 251.9L618.4 251.8L618.4 250.7L617.4 248.4L616.0 248.9L616.4 250.6L616.4 251.5L616.5 253.3L615.5 253.3L614.9 253.3L614.7 252.5M610.3 258.0L612.3 257.5L614.2 257.8L614.0 258.6L610.6 259.1L610.3 258.0M615.4 258.0L617.4 257.8L620.6 257.5L620.8 258.0L618.2 258.9L615.5 258.7L615.4 258.0M614.0 259.9L616.0 259.6L617.1 260.7L615.7 261.2L614.0 259.9M621.6 261.3L622.6 259.7L624.3 258.4L627.5 257.9L628.1 258.1L626.7 259.0L624.2 260.5L622.5 261.2L621.6 261.3M628.2 242.1L629.1 240.1L629.2 241.8L630.8 241.3L629.7 242.8L630.4 243.5L629.1 243.8L629.9 245.2L628.7 244.3L628.2 242.1M629.1 249.2L631.8 248.5L634.1 249.6L632.6 249.9L629.6 249.7L629.1 249.2M634.7 245.2L636.9 244.5L639.6 245.2L639.6 246.3L640.4 249.4L641.9 249.5L643.3 247.7L644.5 247.0L647.4 246.9L650.7 248.1L651.7 248.4L653.5 249.1L655.7 249.8L657.2 250.3L659.3 252.6L660.5 253.3L662.8 255.0L661.4 255.2L661.7 256.3L662.4 256.9L663.4 258.2L663.9 258.9L665.3 259.0L665.3 259.9L666.5 260.7L667.9 261.1L666.8 261.8L664.8 261.2L662.9 260.9L661.6 259.9L660.5 258.7L659.3 257.2L657.2 256.7L655.8 257.3L655.1 258.3L655.0 259.1L653.3 259.4L651.2 259.2L650.1 258.2L647.8 257.7L645.6 258.0L646.3 256.1L647.6 255.6L647.2 255.3L646.7 254.0L646.3 253.2L644.5 252.1L642.8 251.6L641.1 251.2L638.9 250.0L637.4 250.6L636.5 248.8L638.5 247.9L636.3 247.5L634.8 246.3L634.7 245.2M663.6 253.3L665.6 253.1L667.3 253.1L669.0 250.9L670.3 250.9L669.8 252.8L667.8 254.1L665.6 254.5L663.6 253.3M690.1 277.8L692.7 279.3L695.2 281.5L694.2 281.5L691.5 279.8L690.1 277.8M712.6 273.7L713.8 273.2L715.0 274.1L713.7 274.8L712.6 273.7M653.8 261.9L655.0 264.0L655.5 265.8L656.1 268.2L657.2 267.8L658.4 269.9L659.3 272.4L659.9 273.4L661.0 276.4L663.5 277.6L665.1 279.6L667.3 281.5L667.8 282.9L668.7 284.1L670.5 285.7L671.9 285.6L671.8 287.4L671.7 288.5L672.4 290.2L672.3 291.2L672.6 292.3L671.8 295.1L671.4 297.0L669.5 299.5L668.7 301.1L668.0 302.1L667.8 303.2L666.8 304.2L666.4 307.2L663.1 307.9L661.4 308.8L660.4 310.0L658.8 309.2L657.4 308.6L657.8 307.8L657.0 308.3L655.5 309.5L652.2 308.7L650.6 308.2L649.3 306.1L647.7 303.9L646.3 304.0L647.0 302.8L646.3 301.7L645.7 303.2L644.3 303.5L645.1 302.2L645.5 301.1L646.2 299.9L645.8 298.8L645.5 299.7L644.4 300.8L642.7 303.0L641.2 302.3L640.8 300.7L639.6 299.3L638.8 298.2L636.8 297.9L634.5 297.1L630.8 297.4L625.9 298.4L622.3 300.6L618.9 301.1L615.9 301.2L614.7 302.0L612.2 303.1L608.9 302.8L607.5 301.9L607.2 300.5L608.3 300.2L608.5 298.0L607.8 296.2L607.3 295.1L606.6 292.5L605.8 290.7L604.1 288.0L605.4 288.3L605.0 285.9L604.5 284.7L605.2 283.0L605.8 280.7L605.9 281.9L607.4 280.4L610.1 278.7L613.3 278.1L615.4 277.6L618.2 276.1L619.4 274.2L620.7 271.5L621.8 273.1L621.8 271.7L623.1 271.2L623.5 270.0L624.3 268.7L627.5 267.1L628.9 268.3L629.6 269.0L630.9 269.0L631.9 267.9L633.1 266.5L634.1 264.9L635.2 264.5L636.5 264.4L635.8 262.8L637.0 262.6L638.5 263.8L639.7 264.2L641.4 264.4L644.1 264.4L644.4 264.7L642.8 266.3L642.6 269.0L641.8 268.8L642.8 270.2L644.5 270.7L646.2 271.9L648.9 273.4L650.9 273.4L651.9 271.0L652.2 269.0L652.2 266.3L652.7 265.2L652.8 264.1L653.2 262.4L653.8 261.9M657.5 312.7L660.3 313.4L662.1 313.1L663.1 312.7L663.6 313.2L663.6 315.2L663.1 316.9L661.0 317.6L659.7 317.5L658.3 315.2L657.5 313.5L657.5 312.7M704.9 302.0L705.4 302.0L707.4 303.3L708.0 304.4L708.4 306.1L709.3 305.5L710.3 306.4L710.8 307.5L712.1 308.0L714.8 307.6L713.8 309.3L713.7 309.9L712.0 310.6L712.3 310.9L711.5 312.3L710.8 313.0L709.3 314.2L708.4 313.7L708.7 313.0L708.7 311.4L707.4 310.8L706.6 310.3L707.1 309.9L708.1 309.3L708.4 308.3L708.5 307.7L707.9 306.5L707.3 305.4L706.0 303.9L705.5 303.3L704.9 302.0M704.9 312.3L705.4 312.3L705.0 312.8L705.9 313.6L707.1 313.0L707.5 314.4L706.5 315.5L705.5 316.7L705.5 317.9L704.2 318.1L702.4 318.9L702.0 320.1L701.6 321.3L700.0 322.4L698.6 322.8L697.5 322.6L696.9 322.2L695.9 322.0L694.5 321.9L694.2 321.4L694.9 320.4L696.6 319.2L697.9 318.2L698.6 318.0L700.5 316.9L701.9 316.0L702.3 315.6L702.7 314.4L703.8 313.6L704.0 312.8L704.9 312.3M496.0 264.0L497.3 266.4L497.8 269.0L498.1 269.7L497.6 270.8L496.9 269.9L496.9 271.2L496.3 274.5L495.3 277.5L494.5 279.7L493.6 282.4L492.2 286.1L489.1 287.1L487.1 286.2L486.5 283.3L486.0 280.6L487.6 278.1L488.0 277.1L487.1 274.3L487.9 271.2L489.3 271.0L491.0 270.4L492.4 268.8L493.5 268.5L493.9 266.8L495.3 264.9L496.0 264.0M108.2 376.1L116.7 376.4L125.1 376.6L133.6 376.3L142.0 375.6L145.4 374.2L150.5 374.1L158.9 372.7L162.3 372.0L167.4 371.5L175.9 370.7L184.3 369.8L192.8 369.5L201.2 368.3L209.7 368.6L218.2 369.0L226.6 369.8L235.1 370.3L240.1 370.7L243.5 368.1L245.2 365.9L252.0 366.8L260.4 367.0L268.9 367.3L277.4 367.3L285.8 366.4L285.0 363.9L289.2 361.4L296.3 358.0L301.0 355.5L305.3 353.4L309.5 352.1L315.4 350.7L315.4 352.4L311.2 353.8L308.7 356.3L309.5 358.8L309.5 362.2L310.4 365.6L310.4 369.0L309.5 370.7L314.6 372.4L328.1 374.9L336.6 375.4L345.0 375.8L351.8 375.8L355.2 374.4L361.9 372.7L367.0 371.5L372.1 369.5L378.9 367.6L387.3 366.4L394.1 364.4L399.2 363.6L404.2 363.1L412.7 362.2L421.2 362.2L429.6 362.0L438.1 361.9L446.5 362.2L455.0 362.6L463.5 361.0L468.5 360.0L471.9 361.0L475.3 361.9L480.4 360.5L488.8 358.3L497.3 357.1L502.4 355.3L509.1 356.3L514.2 357.8L522.7 358.3L527.7 358.5L531.1 359.7L534.5 361.4L539.6 361.4L544.7 359.7L548.0 358.5L556.5 356.8L565.0 356.6L573.4 356.0L581.9 355.1L590.3 356.0L598.8 355.8L607.2 356.3L615.7 356.8L624.2 356.0L632.6 355.5L641.1 355.5L649.5 356.6L658.0 357.7L666.5 359.3L674.9 360.9L683.4 362.2L691.8 363.2L700.6 364.4L700.3 366.4L696.9 368.1L691.8 370.2L689.3 372.4L691.8 374.9L694.4 375.5L700.3 374.9L708.7 375.4L717.2 376.1M627.5 122.0L623.3 124.5L621.6 127.1L620.8 130.8L623.3 134.2L628.4 136.4L632.1 138.9M630.9 136.5L637.7 136.9L641.1 138.9L641.6 141.5M623.3 134.7L617.4 135.7L611.5 136.7L603.9 138.4M553.1 125.4L559.0 127.9L560.7 131.3L562.4 135.5M534.5 131.3L529.4 132.1L524.4 135.5M588.1 156.7L590.0 156.7L592.9 155.0L596.2 153.3L598.6 150.8L598.6 149.4L597.1 149.7L595.4 152.1L592.0 154.1L589.5 155.8ZM537.0 166.8L538.7 165.0L543.0 164.8L546.3 164.8L546.3 165.5L542.1 165.6L539.2 167.0L537.9 167.8ZM256.9 164.8L259.6 165.0L263.0 164.3L264.7 165.1L268.9 165.1L269.8 164.5L268.9 162.8L266.4 161.4L263.3 161.1L261.3 162.6L259.1 163.8ZM264.2 172.7L265.9 173.3L266.7 171.9L266.5 169.4L268.1 167.7L269.2 166.3L268.1 166.0L265.5 166.5L263.8 168.4L264.5 170.2ZM269.6 166.2L271.4 167.5L271.8 169.4L273.3 171.1L274.5 170.2L275.2 168.4L277.4 168.4L277.4 167.0L274.8 166.0L271.4 165.6ZM271.4 173.3L273.1 173.8L275.7 172.9L279.1 171.4L278.7 171.2L276.5 171.7L274.0 172.2L272.1 172.7ZM277.7 170.5L279.9 170.5L283.3 170.2L283.6 169.2L281.6 169.4L278.7 169.7ZM248.6 158.5L249.8 157.5L248.6 155.5L247.3 153.3L245.2 152.8L246.1 155.0L247.8 156.7ZM214.8 140.6L219.0 140.6L222.4 139.3L226.6 137.7L227.5 137.4L224.1 137.6L219.8 138.4L216.5 139.3ZM202.1 133.0L206.3 133.8L210.5 133.3L212.2 131.6L208.9 130.5L205.5 131.3L202.1 131.6ZM224.1 144.7L228.3 144.0L232.5 143.5L229.2 143.1L224.9 143.8Z" fill="none" stroke="#000" stroke-width="0.9" stroke-linejoin="round"/><path d="M174.2 126.0L174.2 141.8L177.4 142.1L180.1 144.2L181.8 143.1L184.3 143.0L187.0 145.0L189.6 147.7L192.8 149.1L192.4 150.8M204.3 160.9L251.7 160.9L252.7 161.4L257.1 162.1L261.3 162.6L263.3 162.1L269.2 164.5L269.9 165.1L271.4 166.0L273.1 167.2L273.8 170.0L272.1 172.2L273.1 173.3L279.1 171.4L279.0 170.6L280.7 170.0L283.5 169.2L286.3 167.7L291.7 167.7L293.8 166.2L294.3 164.8L295.6 163.5L297.2 163.7L298.0 164.2L298.0 166.5L299.4 168.0M214.6 188.8L218.7 188.5L224.9 190.8L229.7 190.8L229.7 190.0L232.5 190.0L235.2 192.0L235.9 193.7L238.3 194.8L239.3 193.5L241.2 193.5L243.5 196.1L244.4 197.3L245.1 199.1L248.4 199.9M256.7 219.3L256.9 218.3L257.6 216.6L259.8 216.6L258.1 214.6L258.8 214.6L258.8 213.7L261.9 213.7L263.3 212.5M261.9 213.7L261.8 216.9L262.3 216.9M263.5 217.2L261.8 218.6L261.5 219.4L260.3 220.5M261.5 219.4L263.0 220.3L264.2 221.1M265.0 221.8L266.0 220.5L267.7 220.3L269.1 218.8L272.0 218.4M267.7 225.0L269.4 225.2L271.1 225.4M272.5 230.2L272.5 228.6L273.0 227.6M281.8 229.2L281.6 230.4L280.9 231.6M291.4 210.5L291.4 212.2L291.3 213.3M292.0 223.8L290.1 225.0L289.2 228.1L290.1 229.6L290.9 232.0L294.1 232.0L295.1 233.5L298.5 233.3L298.0 234.8L298.8 238.0L298.0 239.1L299.5 241.8M299.5 241.8L299.2 240.9L294.6 240.9L294.6 241.9L295.6 242.1L295.1 244.6L294.2 244.1L295.3 245.7L294.4 250.9M294.4 250.9L293.1 250.2L294.3 248.4L289.4 247.9L288.0 246.0L285.3 244.0L283.6 243.1L281.6 243.1L279.4 241.4M285.3 244.0L284.8 246.3L282.9 248.2L280.4 249.6L279.9 251.6L279.1 252.3L276.7 251.2L276.9 249.6M299.5 241.8L301.9 242.6L304.4 241.1L304.1 239.6L305.4 240.1L304.4 236.9L306.5 237.5L307.8 236.9L310.0 236.2L310.0 235.0L308.8 233.8L309.3 232.5L310.7 231.8L310.2 230.6L311.2 229.4M310.0 235.0L311.4 235.3L311.0 236.2L311.9 237.2L311.4 239.9L312.9 241.6L314.6 241.3L317.1 240.6L315.8 238.2L314.6 237.0L315.8 234.8L315.9 233.6M317.1 240.6L318.1 239.6L320.3 239.9L321.0 237.9L320.7 235.3L321.3 234.0M320.3 239.9L323.2 240.1L325.2 237.0L325.4 236.4M294.4 250.9L289.4 252.6L287.7 255.0L288.9 256.5L287.5 256.5L289.4 259.0L290.2 260.7L293.3 259.9L293.3 262.4L295.0 262.4M295.0 262.4L296.5 264.9L296.0 267.0L295.3 268.8L295.0 270.2L296.1 271.4L295.0 273.1L295.1 273.4L293.8 274.8M295.0 262.4L297.2 262.4L300.0 260.5L302.2 260.4L302.2 263.6L303.8 264.9L306.5 265.8L309.5 266.6L310.7 269.2L310.9 271.4L313.9 271.4L314.2 273.2L315.4 274.6L314.4 277.3L314.3 278.0M314.3 278.0L312.7 276.4L308.3 277.0L306.8 281.4L304.6 281.0L303.9 282.4L300.7 280.7L299.0 282.4L297.3 279.8L296.8 276.8L295.1 273.4M299.0 282.4L299.4 282.7L297.0 285.2L296.8 288.3L295.0 291.8L294.3 295.2L293.4 297.1L294.3 300.1L293.6 303.3L292.6 305.5L292.3 309.4L291.4 312.1L291.2 315.2L291.4 319.1L292.1 320.4L291.1 323.3L290.1 326.0L288.9 327.5L289.2 329.6L290.4 330.1L290.9 331.8L294.3 331.8L297.0 332.4M296.6 332.9L296.6 336.7M306.8 281.4L309.5 284.1L312.0 285.1L315.3 286.6L313.6 289.8L318.0 290.0L320.3 287.1M314.3 278.0L314.9 281.2L318.5 281.5L319.0 284.4L320.8 284.4L320.3 287.1L321.7 288.1L321.7 289.8L318.3 291.7L315.3 294.9L314.2 298.8L313.9 301.3M315.3 294.9L318.0 296.1L321.3 297.8L322.7 299.1L322.4 300.9M409.0 184.4L409.8 186.8L410.7 189.3L406.6 190.2L406.6 191.5L403.4 193.2L398.0 195.2L398.0 197.0M390.4 197.0L398.0 197.0L398.0 199.8L392.4 199.8L392.4 204.1L390.7 204.9L390.7 207.7L384.0 207.7M398.0 197.6L404.5 201.5L414.6 208.1L414.7 208.8L418.1 210.3L418.3 211.7L419.9 211.4L422.5 210.8L425.4 208.4L433.0 204.0L432.3 202.7L430.1 202.2L428.8 199.3L429.4 196.8L428.8 192.7L430.1 191.5L430.0 190.2L432.2 187.7M428.8 192.7L427.9 189.5L425.4 186.6L426.7 185.1L426.6 182.1L427.2 181.3M404.5 201.5L401.5 201.7L403.4 215.9L403.7 217.6L397.0 217.6L394.6 217.7L393.2 217.4L392.1 218.8L389.9 216.6L388.2 215.6L384.8 216.6M392.1 218.8L393.4 222.8L389.5 222.4L384.4 222.9M384.3 220.8L387.3 220.5L389.4 221.1L387.3 221.5L384.4 221.6M389.5 222.4L389.5 224.0L387.3 225.3M393.4 222.8L394.9 223.5L397.5 222.8L399.2 226.5L398.3 230.9L396.8 231.3L395.3 229.4L393.8 226.9L391.6 227.1L390.2 228.5M395.3 229.4L394.8 230.1L393.2 232.0M398.3 230.9L400.0 234.0L399.9 236.4M399.2 226.5L402.2 226.0L403.4 226.2L408.0 227.4L407.5 235.2M403.4 226.2L403.7 223.8L405.3 222.3L407.6 220.6L411.5 218.3L413.0 218.4L417.8 217.7L419.9 215.2L419.9 211.4M413.0 218.4L414.3 221.0L416.8 223.7L418.8 224.0L419.5 221.0L424.5 221.8L429.6 221.5L435.7 220.6L438.9 215.2L438.1 210.0L439.8 204.1L436.7 205.6L433.0 204.0M408.0 227.4L408.0 225.2L412.4 225.0L413.5 229.4L414.7 233.4M412.4 225.0L414.2 225.2L416.8 223.7M414.2 225.2L415.4 228.6L415.5 233.3M418.8 224.0L417.4 228.6L417.3 233.0M439.8 204.1L453.3 210.8L453.3 210.0L455.0 210.0L455.0 206.6L455.0 194.4L454.5 192.7L455.2 190.3M455.0 206.6L475.1 206.6M453.3 210.8L453.3 217.2L451.4 217.6L450.3 221.8L451.4 225.2L448.2 227.2L444.8 228.9L438.9 231.1L437.2 227.7L438.6 226.9L436.6 221.6L435.7 220.6M436.6 221.6L435.0 226.9L432.7 232.0L429.3 232.3L427.2 235.7M438.9 231.1L437.2 233.6L437.2 236.2L440.1 240.1L435.2 240.1L431.8 240.1L429.3 239.9M431.8 240.1L431.8 242.1L428.9 242.1M435.2 240.1L437.1 241.4L437.2 244.8L436.0 247.9L433.8 247.5L431.5 250.5M440.1 240.1L444.2 237.9L444.2 236.4L450.8 236.9L455.0 235.3L459.1 235.2L453.6 229.8L452.6 228.9L451.4 225.2M444.2 237.9L442.8 243.8L440.1 247.2L439.6 250.4L437.1 252.1L434.9 251.6L433.3 253.6M433.6 254.0L435.0 253.8L440.8 253.8L441.5 256.5L445.7 255.6L449.6 256.1L449.7 260.7L450.4 262.7L453.3 262.2L453.3 265.8L449.9 265.8L449.9 271.2L452.3 273.6L455.5 273.9M432.6 273.0L436.2 273.2L443.8 273.2L448.9 274.3L452.3 273.6M448.2 274.3L448.2 281.0L446.5 281.0L446.5 285.8L446.5 291.8L444.8 292.7L442.1 292.4L440.5 292.2M446.5 285.8L447.9 289.1L451.6 286.6L455.8 287.3L458.4 283.7L462.4 281.4L458.9 278.5L455.5 273.9L452.3 274.3L448.2 274.8M455.5 273.9L458.4 274.3L461.6 270.7L464.1 270.2L468.4 272.1L468.2 275.9L467.7 279.8L465.7 281.7L462.4 281.4M465.7 281.7L466.8 285.2L466.7 287.6L467.0 289.1L468.4 289.2M466.7 287.6L465.1 287.8L464.8 289.1L465.7 290.0L467.0 289.1M458.4 293.9L461.1 292.2L462.4 293.7L460.4 295.6L458.4 293.9M453.3 262.2L455.5 262.7L458.2 264.1L461.8 266.5L463.1 266.5L463.1 264.4L460.7 264.1L460.9 259.4L464.6 257.7L468.4 259.7L469.0 263.3L468.0 266.8L468.9 267.5L463.8 269.2L464.1 270.2M468.9 267.5L471.1 268.3L473.4 269.0L472.4 272.7L470.9 271.4M470.2 259.9L471.7 263.4L476.1 263.6L481.0 261.6M468.4 259.7L470.2 259.9M464.3 245.5L470.2 245.5L476.3 248.9L479.0 251.8M464.3 245.5L464.8 247.9L464.1 248.9L464.8 249.4L462.4 251.3M462.8 246.2L461.9 248.2L462.1 249.4L462.4 251.3M461.8 248.4L464.3 247.9M464.3 245.5L462.8 246.2L463.3 242.4L465.7 240.1L465.0 237.9L470.2 236.7L471.9 236.0L473.6 236.3L477.2 237.7L479.5 238.0L482.1 237.1L483.6 237.1L482.1 239.1L482.1 245.3L483.1 246.6M470.2 236.7L471.9 240.9L470.2 243.8L470.2 245.5M483.6 237.1L485.4 236.0L488.8 235.3L493.9 230.3L492.2 230.3L487.1 228.6L485.1 225.4L485.8 224.5M485.1 225.4L483.4 225.2L484.4 222.7L485.6 222.3M484.4 222.7L480.4 219.3L476.8 218.6L474.3 219.4L475.3 215.0L478.0 213.3M474.3 219.4L473.8 222.3L471.9 225.2L470.4 227.7L468.5 230.4L471.4 232.5L471.9 236.0M452.6 228.9L455.0 226.4L460.1 228.1L463.5 226.4L467.5 223.5L468.9 226.5L470.4 227.7M459.1 235.2L462.6 236.4L465.0 237.9M397.8 172.9L398.8 172.7L401.5 172.8L402.2 173.4L401.0 174.4L400.9 176.6L400.0 176.8L400.9 179.2L400.2 180.9M409.7 170.5L413.9 171.4L418.0 172.0M417.0 157.4L419.8 159.2L422.5 160.0L423.5 160.1L426.6 160.9L425.6 163.3L422.9 165.6L424.5 166.2L424.2 167.5L425.6 169.1L425.4 169.7M425.6 163.3L428.9 163.4L434.7 163.4L436.0 161.2L433.2 158.7L437.7 157.7L436.7 152.6M424.5 166.2L427.9 166.0L430.4 164.5L433.7 164.8L435.9 165.1L435.7 166.3M428.9 163.4L430.4 164.5M424.9 153.7L424.5 155.3L422.9 157.5L423.0 159.0L422.5 160.0M418.5 156.9L421.2 156.8L422.9 157.5M427.3 150.9L428.8 151.1M437.7 157.7L441.3 158.7L444.5 160.1L450.9 160.7L453.5 158.2L452.6 156.7L452.6 154.8L453.1 152.6L452.5 152.4L451.3 151.8L446.2 151.7M436.0 161.2L441.3 161.6L444.5 160.1M441.3 161.6L441.6 162.6L439.9 164.5L435.9 165.1M441.6 162.6L444.5 162.9L450.2 161.9L450.9 160.7M451.3 151.8L450.9 150.7L448.7 150.2M448.3 148.9L455.0 148.6L457.7 149.6L456.3 150.9L456.0 152.3L452.5 152.4M453.9 145.9L456.7 145.9L459.0 146.4L459.2 144.3L460.2 143.2M459.0 146.4L460.4 148.8L457.7 149.6M460.4 148.8L465.0 149.7L464.8 151.1L468.0 153.5L465.7 154.0L466.5 155.7L470.9 156.3L472.9 158.5L477.0 159.4L480.5 159.9L480.0 162.8L477.3 164.1M452.6 156.7L458.4 156.3L464.5 157.0L466.5 155.7M450.2 161.9L451.4 162.6L454.8 163.1L457.7 162.2L460.4 165.1L460.4 166.9L462.8 167.2M457.7 162.2L459.7 161.9L462.1 162.8L463.5 165.3L461.7 166.0L460.4 166.9M451.4 162.6L448.6 165.3L447.0 165.7L444.7 166.2L439.9 164.5M447.0 165.7L448.9 168.0L451.1 169.0L450.6 171.4L450.6 172.2L451.6 173.8L454.1 173.6L457.3 173.3L456.8 174.9M451.1 169.0L455.0 169.9L458.4 169.2L461.1 169.8M457.3 173.3L460.1 172.7M446.5 176.6L448.1 174.7L451.6 173.8M448.1 174.7L447.4 172.9L445.5 172.9M447.4 172.9L450.6 172.2M445.5 172.9L445.2 170.2L445.5 167.8L444.7 166.2M444.8 167.8L439.8 167.3L439.8 169.0L442.5 171.1L444.0 172.0M435.7 166.8L439.3 166.3L440.4 165.0M431.5 144.0L433.5 142.3L433.3 140.6L434.5 140.0L433.3 137.2L436.4 135.2L437.2 132.0L440.4 129.6L443.0 128.8L446.7 127.0L452.8 128.9L452.6 131.3L453.6 132.5M446.7 127.0L449.2 126.6L456.3 127.7L456.7 125.9L460.1 125.2L461.8 127.1L464.9 125.8M461.8 127.1L460.9 128.4L463.5 129.3L461.9 130.6L463.6 132.7L463.1 134.2L466.2 137.4L459.7 141.4M400.4 150.7L398.9 151.7L400.4 152.2L402.1 152.3M473.4 182.9L474.8 181.5L477.0 181.5L480.4 181.5L484.4 181.0L488.5 180.9L487.1 177.1L488.5 176.6M483.0 173.6L486.3 174.3L486.6 176.0L488.5 176.6L491.4 178.0L493.9 176.6L495.4 178.8M480.4 170.4L484.6 170.7L488.0 171.6L491.2 172.9L494.9 173.1M486.3 174.3L488.8 173.9L491.2 172.9M488.8 173.9L491.4 177.0L491.4 178.0M484.4 181.0L482.4 184.9L478.3 187.3L475.0 189.2L473.1 188.5M473.4 185.2L474.6 185.9L473.3 187.3L473.1 188.5L472.8 190.5L471.9 193.9M470.6 190.8L471.7 193.9M471.9 194.1L473.8 194.4L476.1 193.0L477.0 192.2L475.3 190.5L478.7 189.7L479.0 189.4L478.3 187.3M479.0 189.4L481.0 189.8L483.9 191.2L488.3 194.4L491.4 194.6L493.4 192.9L493.9 193.0M491.4 194.6L493.1 194.7L494.6 195.5M488.5 180.9L489.5 182.9L490.9 184.4L489.5 186.3L490.7 188.0L493.6 190.0L493.4 191.4L494.9 193.1M485.1 216.1L486.0 214.2L489.2 214.4L492.2 215.1L494.2 213.0L500.7 211.7L505.7 210.0L506.9 206.6L506.1 205.4L501.7 205.1L500.0 203.0M500.7 211.7L502.5 215.6M506.1 205.4L507.1 202.9L508.1 201.7M498.7 201.9L499.3 202.2M503.9 180.6L507.4 179.3L509.6 179.5L513.0 180.4L516.2 181.9L516.1 184.1L515.0 186.1L515.7 190.5L517.2 191.4L515.7 193.3L517.1 195.2L518.9 196.1L519.6 198.5L517.1 201.4M515.7 193.3L518.4 194.1L524.9 193.2L525.0 191.4L529.9 189.8L530.3 187.8L533.0 186.1L533.8 182.2L539.4 180.9M516.2 183.6L519.3 183.9L521.8 182.4L525.2 180.6L527.4 180.9L530.3 180.2L533.7 181.7L534.2 178.8L536.7 180.4L539.4 180.9M525.2 180.6L517.6 176.1L517.4 174.3L514.4 173.8L511.8 171.4L507.4 173.9L507.4 167.7L511.7 166.8L515.9 168.7L517.6 170.2L522.5 169.9L524.5 171.1L524.4 172.7L527.7 174.4L532.6 172.3L537.0 172.1L539.1 170.7L548.4 172.4M507.4 173.9L504.1 172.2L501.5 173.1M548.4 172.4L542.8 174.4L537.4 177.0L539.4 180.9M537.4 177.0L532.0 176.8L529.9 174.9L532.8 175.8L532.6 172.3M527.4 180.9L528.4 179.2L526.7 177.0L529.9 174.9M495.9 165.3L494.7 165.0L492.2 162.6L491.4 161.9L492.2 160.6L492.0 158.7L495.1 159.4L495.3 158.2L498.6 156.3L503.0 156.7L505.1 157.5L506.9 158.2L511.7 157.4L513.4 158.2L516.6 157.9L514.2 155.8L515.9 155.3L515.4 154.3L516.2 152.6L522.7 151.8L528.1 150.8L532.5 150.2L533.1 152.3L537.0 152.4L542.6 151.8L542.1 152.6L544.5 153.6L548.0 157.9L553.8 157.5L556.8 159.9L560.4 160.6M560.4 160.6L557.7 161.9L557.3 164.1L553.1 164.0L551.9 166.8L549.4 170.7L548.4 172.4M560.4 160.6L561.2 160.6L564.4 159.4L568.7 158.0L572.2 159.2L577.3 159.6L579.0 158.4L578.1 157.5L580.0 155.7L585.6 157.0L585.8 158.2L590.3 158.5L593.7 159.7L596.2 160.4L600.0 160.7L603.7 159.9L606.1 158.7L610.1 159.5M561.2 160.6L562.6 162.3L565.8 163.8L566.6 167.3L574.1 168.9L575.8 171.5L584.9 171.9L590.3 173.4L597.9 172.0L602.0 169.9L601.2 168.7L604.9 168.0L608.9 166.5L613.2 164.6L615.4 164.8L611.3 163.2L608.3 162.8L610.1 159.5M610.1 159.5L612.0 160.1L614.4 159.0L617.1 154.8L615.9 154.5L617.9 153.6L621.8 153.2L625.9 154.5L628.4 159.6L633.6 161.1L634.1 163.1L640.6 162.1L639.4 163.6L637.9 167.5L634.7 167.8L634.8 170.2L633.6 172.1M633.6 172.1L632.5 171.1L629.2 172.7L627.4 173.1L623.1 176.2M626.0 179.9L629.8 178.5M595.4 207.4L593.2 206.6L592.9 205.1L590.8 204.4L588.5 205.6L585.5 205.9L584.7 208.0L583.8 207.3L582.0 207.4L580.5 206.4L580.0 203.0L577.8 203.4L579.7 200.0L579.7 197.1L577.4 196.1M585.5 205.9L587.3 208.6L589.7 209.3L588.6 211.0L590.7 212.3L593.0 215.7L594.6 218.4L594.6 218.9L594.6 222.8L592.0 224.0L591.9 225.2L589.4 226.2M594.6 218.9L592.0 219.6L590.7 219.6L591.3 217.4L589.8 215.9L589.8 214.2L587.6 212.7L585.4 213.0L583.9 214.2L583.9 210.8L582.9 210.8L582.0 209.4L583.8 207.3M590.7 219.6L586.9 219.8L585.8 220.9L586.8 224.1M582.0 209.4L578.5 210.5L578.0 212.5L578.1 214.2L579.5 216.6L578.8 218.3L580.5 221.5L580.4 224.0L579.7 226.5M582.0 233.0L583.7 234.2L585.4 233.3M528.1 203.7L532.8 202.4L531.1 198.8L531.8 196.4L536.0 194.7L538.7 191.4L538.7 188.5L542.6 183.6L544.3 183.7M539.4 180.9L544.3 183.7L546.2 185.8L545.8 190.5L549.7 192.7L554.8 194.9L558.2 196.4L561.7 196.6L563.1 197.6L564.6 196.1L567.8 196.8L571.7 194.4L575.4 194.1L577.4 196.1M549.7 192.7L548.2 195.1L554.8 197.4L561.7 199.1L561.7 196.6M563.1 197.6L564.6 198.6L568.5 198.4L567.8 196.8M577.4 196.1L573.7 198.8L572.7 201.2L571.7 203.4L570.5 203.2L570.4 206.2L569.4 206.6L568.8 208.8M563.3 206.6L562.9 203.2L561.7 202.0L562.2 199.0L564.6 199.8L564.6 201.0L569.0 201.5L567.0 203.2L567.0 204.0L568.8 203.7L569.4 206.6M598.2 240.3L598.8 241.8L601.8 242.1L603.9 241.3L606.4 241.4L607.2 238.9L608.3 236.7L611.6 236.7M605.7 236.0L607.2 236.5L607.6 235.5M651.2 248.2L651.2 259.2M622.5 259.7L623.3 259.4M624.2 258.9L624.3 259.9" fill="none" stroke="#000" stroke-width="0.8" stroke-linejoin="round"/></g><use href="#land" x="-609"/><use href="#land" x="609"/></g>
<rect x="100.5" y="97.5" width="620" height="299" fill="none" stroke="#000" stroke-width="1"/>
<text x="123.2" y="90" font-size="20">Nequick-Galileo VTEC : 22 Hour of 224 DOY <tspan dx="0.5" letter-spacing="0.26">[2019/08/12]</tspan></text>
<rect x="100.5" y="468.5" width="620" height="31" fill="url(#jet)" stroke="#000" stroke-width="1"/>
<g stroke="#000" stroke-width="0.8" fill="none"><path d="M165.38 499.5V494"/><path d="M230.25 499.5V494"/><path d="M295.13 499.5V494"/><path d="M360.00 499.5V494"/><path d="M424.88 499.5V494"/><path d="M489.75 499.5V494"/><path d="M554.63 499.5V494"/><path d="M619.50 499.5V494"/><path d="M684.38 499.5V494"/></g>
<g font-size="16.67" text-anchor="middle"><text x="165.38" y="519.5">0.4</text><text x="230.25" y="519.5">0.8</text><text x="295.13" y="519.5">1.2</text><text x="360.00" y="519.5">1.6</text><text x="424.88" y="519.5">2.0</text><text x="489.75" y="519.5">2.4</text><text x="554.63" y="519.5">2.8</text><text x="619.50" y="519.5">3.2</text><text x="684.38" y="519.5">3.6</text></g>
<text x="409.5" y="544" font-size="16.67" text-anchor="middle">VTEC</text>
<text x="721" y="540.5" font-size="16.67" text-anchor="end">1e17</text>
</svg>
</body></html>
